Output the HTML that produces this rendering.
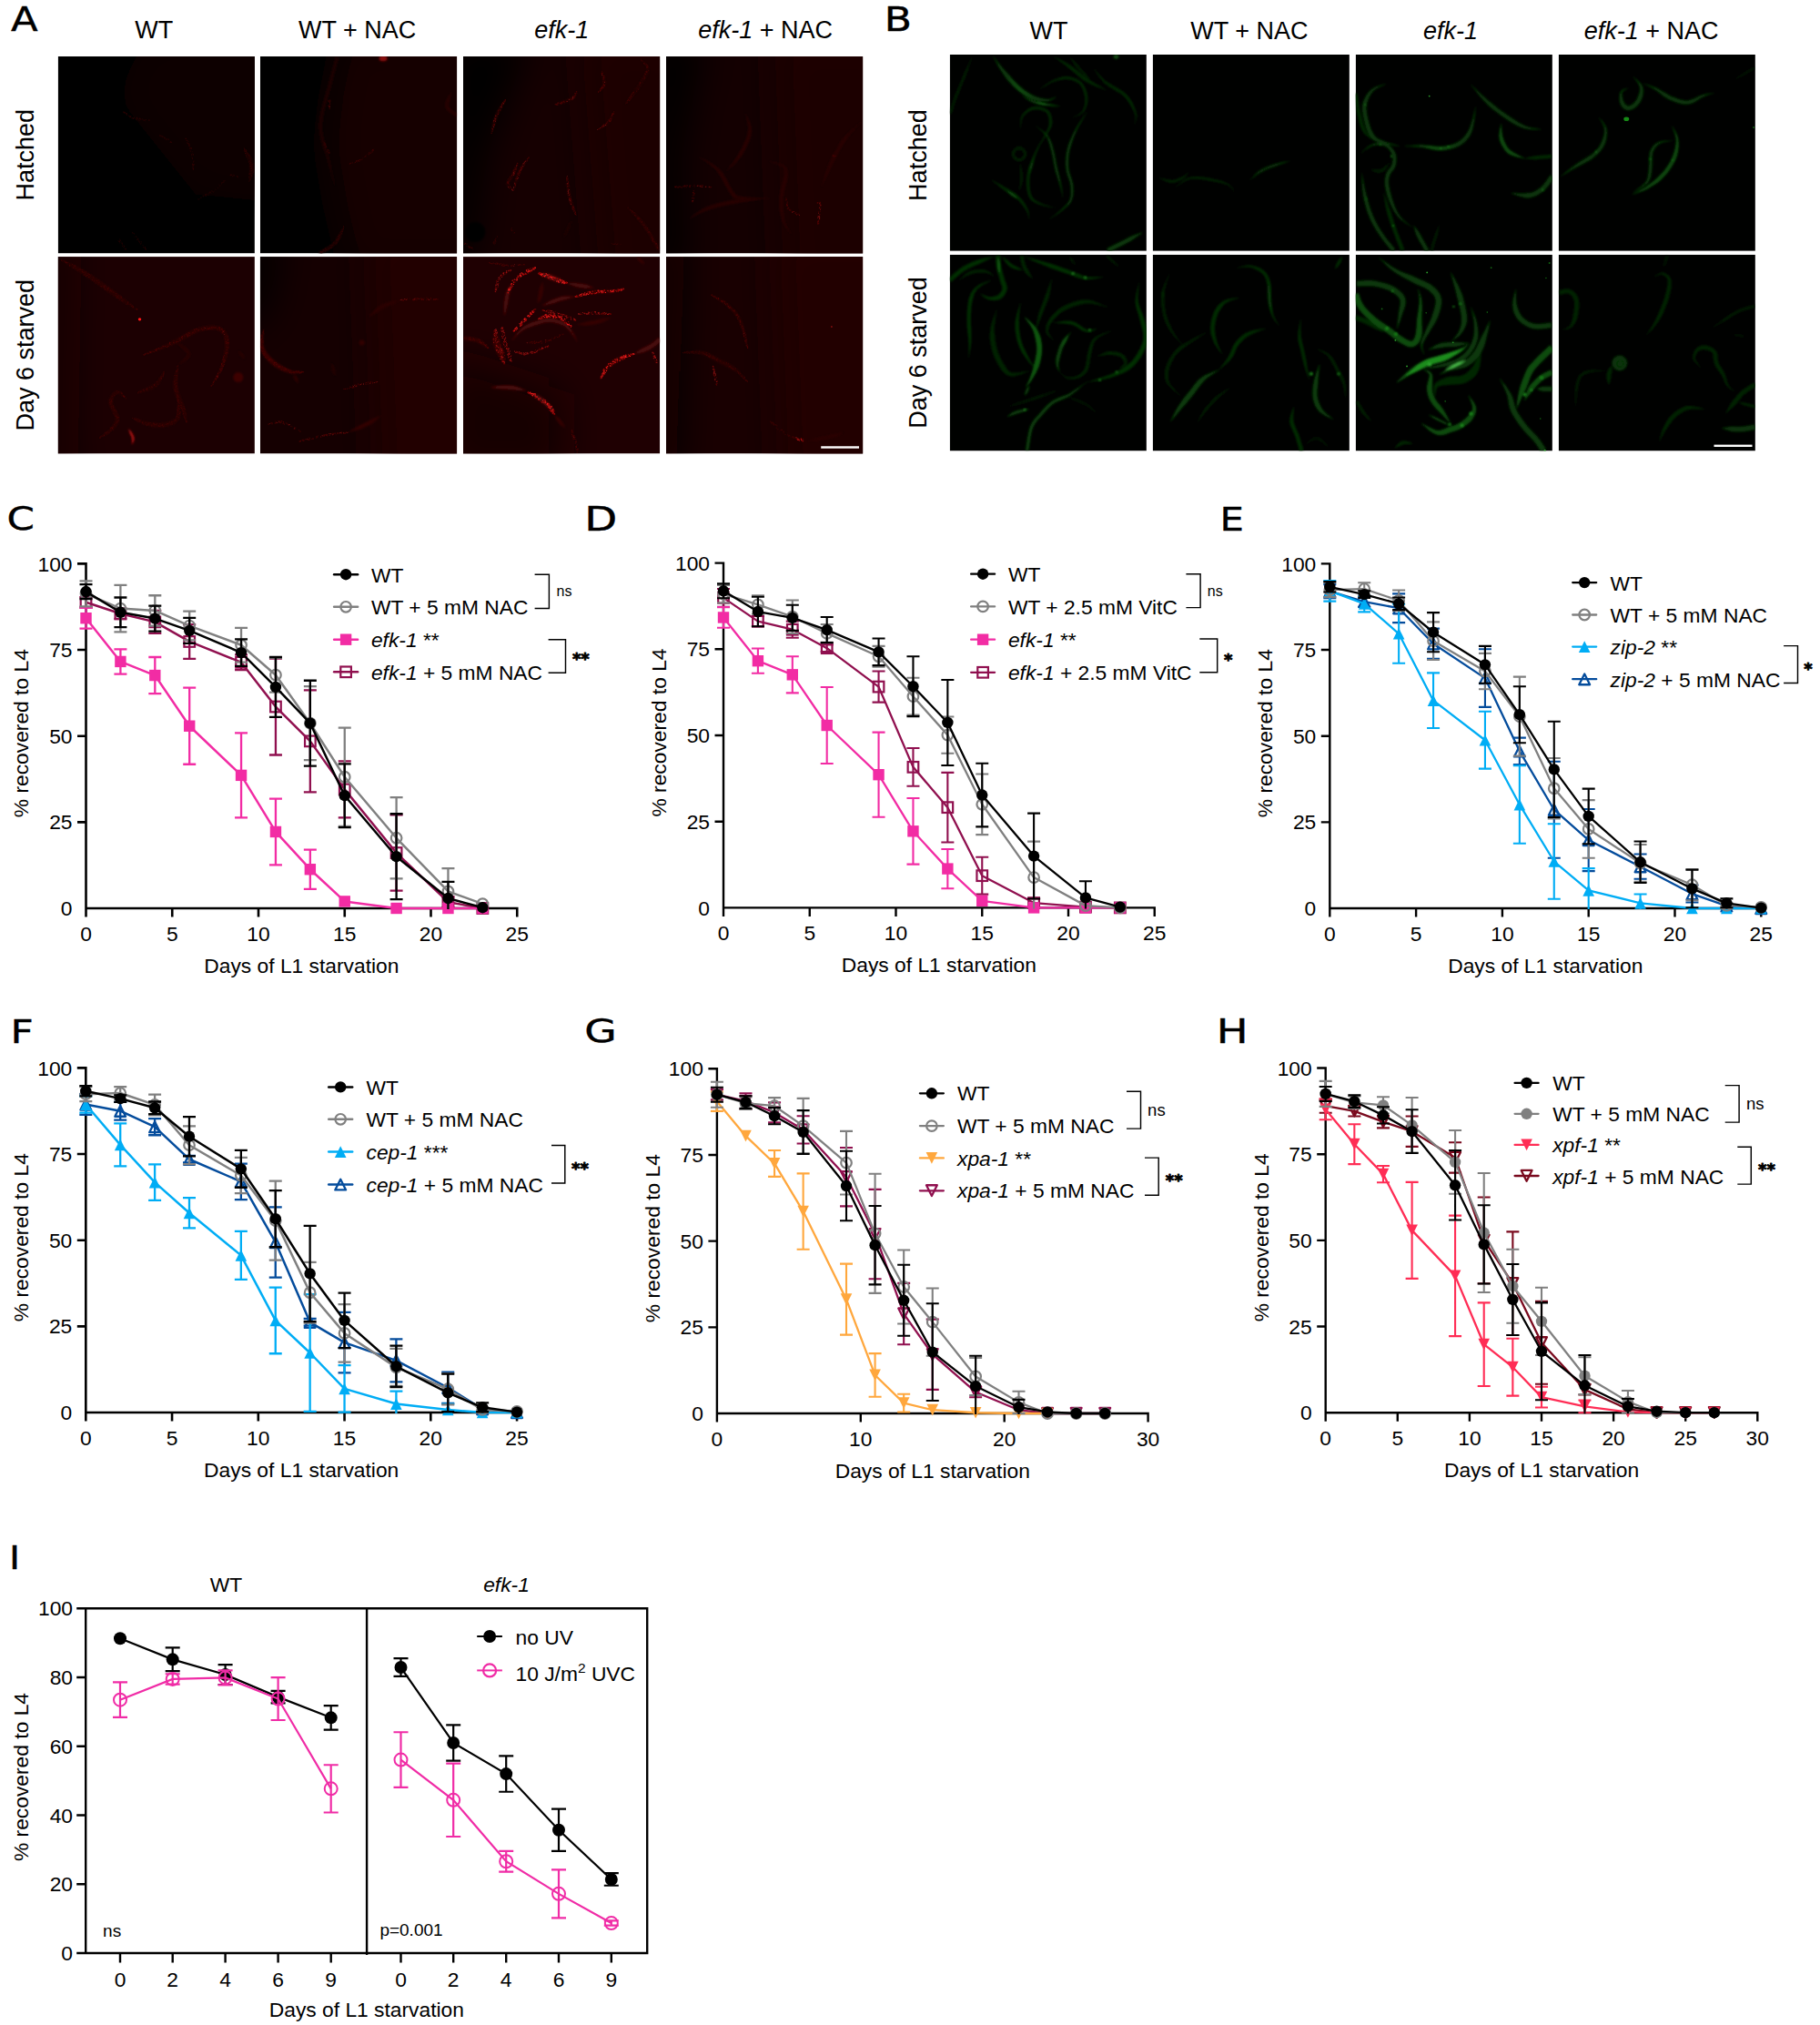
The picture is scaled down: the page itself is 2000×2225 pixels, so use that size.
<!DOCTYPE html><html><head><meta charset="utf-8"><title>Figure</title><style>html,body{margin:0;padding:0;background:#fff}svg{display:block}text{font-family:"Liberation Sans", Arial, sans-serif;fill:#000}text.bs{font-family:"DejaVu Sans","Liberation Sans",sans-serif;font-weight:bold;font-size:18px;stroke:#000;stroke-width:0.9px;stroke-linejoin:round}text.pl{font-family:"DejaVu Sans","Liberation Sans",sans-serif;stroke:#000;stroke-width:0.45px}</style></head><body>
<svg width="2000" height="2225" viewBox="0 0 2000 2225">
<rect width="2000" height="2225" fill="#fff"/>
<defs><filter id="b1" x="-20%" y="-20%" width="140%" height="140%"><feGaussianBlur stdDeviation="0.9"/></filter><filter id="b2" x="-20%" y="-20%" width="140%" height="140%"><feGaussianBlur stdDeviation="0.45"/></filter><filter id="b3" x="-150%" y="-150%" width="400%" height="400%"><feGaussianBlur stdDeviation="20"/></filter><filter id="b4" x="-20%" y="-20%" width="140%" height="140%"><feGaussianBlur stdDeviation="1.2"/></filter><clipPath id="ca00"><rect x="63.7" y="62" width="216.2" height="216.4"/></clipPath><clipPath id="cb00"><rect x="1043.7" y="60" width="216.2" height="215.8"/></clipPath><clipPath id="ca01"><rect x="285.9" y="62" width="216.2" height="216.4"/></clipPath><clipPath id="cb01"><rect x="1266.7" y="60" width="216.2" height="215.8"/></clipPath><clipPath id="ca02"><rect x="509" y="62" width="216.2" height="216.4"/></clipPath><clipPath id="cb02"><rect x="1489.7" y="60" width="216.2" height="215.8"/></clipPath><clipPath id="ca03"><rect x="732" y="62" width="216.2" height="216.4"/></clipPath><clipPath id="cb03"><rect x="1712.7" y="60" width="216.2" height="215.8"/></clipPath><clipPath id="ca10"><rect x="63.7" y="282.1" width="216.2" height="216.4"/></clipPath><clipPath id="cb10"><rect x="1043.7" y="279.7" width="216.2" height="215.8"/></clipPath><clipPath id="ca11"><rect x="285.9" y="282.1" width="216.2" height="216.4"/></clipPath><clipPath id="cb11"><rect x="1266.7" y="279.7" width="216.2" height="215.8"/></clipPath><clipPath id="ca12"><rect x="509" y="282.1" width="216.2" height="216.4"/></clipPath><clipPath id="cb12"><rect x="1489.7" y="279.7" width="216.2" height="215.8"/></clipPath><clipPath id="ca13"><rect x="732" y="282.1" width="216.2" height="216.4"/></clipPath><clipPath id="cb13"><rect x="1712.7" y="279.7" width="216.2" height="215.8"/></clipPath></defs><g clip-path="url(#ca00)"><rect x="63.7" y="62" width="216.2" height="216.4" fill="#000"/><g filter="url(#b3)"><polygon points="160.99,40.36 323.14,40.36 323.14,224.3 215.04,213.48 171.8,159.38 128.56,105.28" fill="#0d0002"/></g><g filter="url(#b2)" fill="none" stroke-linecap="round"><path d="M143.9 127.6h0M153.8 130.0h0M150.1 130.0h0M136.6 123.7h0M136.1 123.2h0M137.2 123.5h0M146.4 130.2h0M138.6 124.5h0M152.7 131.9h0M151.4 130.3h0M163.9 132.0h0M160.2 131.5h0M139.2 124.7h0M142.8 128.7h0M139.6 126.1h0M153.3 130.6h0M150.6 129.4h0M136.8 123.4h0M154.6 131.0h0M143.3 128.4h0M147.6 129.3h0M158.1 132.1h0M141.3 127.2h0M149.5 131.1h0M156.2 130.9h0M164.0 132.1h0M146.2 130.0h0M139.0 125.4h0" stroke="#3a0606" stroke-width="0.94"/><path d="M136.0 123.5h0M157.2 131.7h0M160.7 131.5h0M155.0 131.4h0M151.4 130.5h0M159.4 132.9h0M148.0 130.3h0M136.5 124.0h0M153.3 132.3h0M159.1 131.2h0M145.3 129.5h0M135.7 123.0h0M139.9 125.0h0M136.4 124.0h0M138.7 124.6h0M145.2 130.1h0M137.2 124.0h0M150.3 131.4h0M158.8 132.6h0M142.5 127.4h0M144.2 129.7h0M163.3 131.8h0" stroke="#220606" stroke-width="0.88"/></g><g filter="url(#b2)" fill="none" stroke-linecap="round"><path d="M178.4 149.9h0M178.9 150.8h0M183.9 152.9h0M175.8 149.1h0M180.6 151.9h0M188.5 156.3h0M182.5 153.1h0M185.3 153.2h0M187.7 156.1h0M187.3 156.0h0M181.1 151.8h0M177.0 150.0h0M176.8 149.0h0" stroke="#3a0606" stroke-width="0.94"/><path d="M179.0 149.8h0M180.9 150.5h0M175.8 148.8h0M177.2 149.6h0M175.9 149.6h0M184.5 152.8h0M179.3 150.6h0M181.1 150.9h0M186.6 156.4h0M182.0 152.5h0" stroke="#220606" stroke-width="0.88"/></g><g filter="url(#b2)" fill="none" stroke-linecap="round"><path d="M205.9 154.2h0M209.9 162.9h0M213.2 180.8h0M204.1 152.5h0M212.3 169.6h0M212.7 170.1h0M210.5 169.9h0M212.1 182.1h0M208.5 160.2h0M206.2 157.4h0M210.9 170.0h0M209.8 162.4h0M211.4 180.2h0M211.9 181.7h0M212.0 180.5h0M207.6 159.2h0M210.6 163.1h0M204.6 152.4h0M207.8 160.4h0M212.6 185.6h0M211.9 184.9h0M212.7 185.5h0M208.1 158.7h0M207.8 157.9h0M211.2 173.3h0M212.6 181.3h0M211.5 174.3h0M205.1 154.5h0M212.1 183.9h0M212.5 177.9h0M206.3 157.8h0M208.6 163.0h0M212.7 186.2h0" stroke="#3a0606" stroke-width="0.94"/><path d="M209.1 165.5h0M213.3 176.9h0M206.7 155.5h0M212.0 183.7h0M205.7 156.8h0M212.5 186.5h0M209.4 163.4h0M207.1 155.5h0M212.4 186.1h0M210.4 169.8h0M209.6 166.6h0M213.2 180.7h0M208.6 159.8h0M207.7 159.7h0M208.4 160.2h0M205.3 156.3h0M209.7 163.5h0M210.8 171.9h0M209.4 166.2h0M211.3 168.7h0M212.8 169.3h0M211.5 166.3h0M203.8 151.8h0M206.9 157.3h0M212.2 177.0h0M209.1 162.6h0" stroke="#220606" stroke-width="0.88"/></g><polygon points="267.7,162.8 268.6,165.5 269.9,169.5 271.4,173.9 273.0,178.0 274.1,181.5 274.2,185.0 274.1,189.0 274.0,193.2 273.9,196.9 273.8,199.5 274.5,199.6 275.4,197.2 277.0,193.8 278.5,189.7 279.4,185.2 279.2,180.7 277.9,176.2 275.7,171.7 272.8,167.9 270.1,164.7 268.3,162.5" fill="#1a0303" filter="url(#b1)"/><g filter="url(#b2)" fill="none" stroke-linecap="round"><path d="M275.5 182.4h0M269.8 166.4h0M273.5 170.7h0M276.0 190.8h0M275.6 182.7h0M275.0 196.2h0M276.7 184.6h0M275.7 180.9h0M275.7 178.5h0M274.4 179.9h0M274.9 187.8h0M275.1 197.4h0M274.8 182.6h0M276.8 193.7h0M270.5 166.7h0M269.9 164.8h0M269.0 165.3h0M274.3 190.9h0M270.2 168.3h0M278.1 186.6h0M273.7 194.7h0M270.5 171.0h0M275.2 176.4h0M273.8 199.1h0M271.3 168.0h0M277.2 180.6h0M272.4 169.0h0M278.4 189.1h0M276.9 182.3h0M268.5 163.1h0M276.7 185.1h0M268.2 165.4h0M274.0 191.1h0M270.6 165.9h0M268.3 164.2h0M274.4 171.2h0M273.9 177.8h0M276.6 192.8h0M269.5 168.5h0M275.9 183.0h0M270.7 165.1h0M276.8 187.6h0M268.4 165.6h0M275.5 185.3h0M268.7 166.0h0" stroke="#3a0606" stroke-width="0.94"/><path d="M268.3 165.4h0M276.6 178.3h0M274.6 182.4h0M274.6 171.0h0M277.9 181.2h0M271.1 165.8h0M269.6 164.0h0M274.7 173.0h0M277.1 190.5h0M277.9 179.8h0M276.5 173.7h0M274.8 170.1h0M276.1 189.3h0M271.7 169.1h0M275.8 197.3h0M276.0 192.7h0M274.7 180.5h0M275.1 176.3h0M274.2 187.3h0M272.8 175.1h0M275.8 188.2h0M276.0 176.4h0M269.8 164.0h0M268.7 165.4h0M274.3 170.6h0M268.6 166.1h0M274.6 194.4h0M274.4 171.7h0M273.7 172.6h0M271.2 167.9h0M270.9 172.7h0M274.3 198.5h0M270.6 172.1h0M274.4 173.0h0M268.2 162.6h0M276.1 179.3h0" stroke="#220606" stroke-width="0.88"/></g><g filter="url(#b2)" fill="none" stroke-linecap="round"><path d="M241.8 203.4h0M247.1 198.6h0M244.8 200.7h0M246.3 199.7h0M239.4 206.4h0M230.7 211.9h0M225.4 214.6h0M226.2 213.5h0M236.9 208.2h0M218.1 219.2h0M226.2 214.2h0M245.7 199.1h0M220.9 217.2h0M225.7 214.0h0M243.4 201.8h0M232.8 209.7h0M223.4 215.2h0M230.4 211.1h0M227.5 213.3h0M241.8 204.9h0M243.8 201.9h0M243.9 200.6h0M231.4 211.2h0M229.3 212.3h0M234.3 211.0h0M223.8 215.2h0M233.3 210.3h0M228.9 214.2h0M226.2 215.2h0M245.4 200.4h0M226.5 215.1h0M225.3 213.8h0" stroke="#2a0404" stroke-width="0.94"/><path d="M233.7 210.4h0M233.8 209.4h0M224.9 214.9h0M229.5 214.0h0M243.6 202.5h0M226.0 215.2h0M232.0 212.8h0M245.7 200.1h0M227.8 213.1h0M228.2 214.1h0M232.9 210.7h0M235.0 210.5h0M221.2 217.9h0M218.1 218.5h0M246.6 198.8h0M222.7 215.1h0M235.3 209.8h0M240.7 202.7h0M241.4 203.5h0M243.3 201.9h0M219.3 218.8h0M223.3 216.1h0M221.0 216.9h0M240.3 203.4h0M234.5 211.1h0" stroke="#190606" stroke-width="0.88"/></g><g filter="url(#b2)" fill="none" stroke-linecap="round"><path d="M253.3 192.2h0M257.2 192.8h0M254.5 192.2h0M255.7 193.7h0M253.2 192.3h0M260.7 193.5h0M261.1 194.7h0" stroke="#3a0606" stroke-width="0.94"/><path d="M261.1 194.0h0M256.5 192.8h0M261.8 194.7h0M256.4 192.9h0M255.9 191.7h0M253.9 193.0h0" stroke="#220606" stroke-width="0.88"/></g><g filter="url(#b2)" fill="none" stroke-linecap="round"><path d="M130.9 265.5h0M131.8 264.1h0M134.5 267.6h0M131.8 266.7h0M137.2 273.4h0M134.4 270.2h0M138.1 273.8h0M136.8 270.2h0M136.2 270.9h0M136.1 271.5h0M132.6 264.3h0M138.5 273.3h0M133.9 267.3h0M131.4 265.4h0" stroke="#2a0404" stroke-width="0.94"/><path d="M138.7 274.2h0M135.8 269.6h0M134.6 268.5h0M131.2 262.8h0M130.1 264.5h0M134.4 267.4h0M137.1 273.9h0M134.1 266.6h0M131.7 263.0h0M133.2 265.1h0M131.8 263.9h0" stroke="#190606" stroke-width="0.88"/></g><g filter="url(#b2)" fill="none" stroke-linecap="round"><path d="M153.3 266.7h0M157.1 269.6h0M151.5 263.1h0M151.2 262.1h0M146.1 256.0h0M160.7 273.8h0M152.7 265.0h0M159.1 271.6h0M149.7 259.9h0M151.4 262.7h0M159.9 274.0h0M159.6 271.6h0M145.3 255.7h0M159.3 272.5h0M155.2 265.8h0M150.4 263.3h0M157.5 271.7h0M160.6 273.9h0M147.1 256.7h0M153.0 265.5h0M159.8 273.6h0M154.8 268.1h0" stroke="#2a0404" stroke-width="0.94"/><path d="M152.1 264.0h0M145.3 255.9h0M147.8 260.2h0M155.7 267.3h0M147.4 257.1h0M154.7 267.8h0M147.4 256.6h0M153.1 265.4h0M151.7 262.1h0M155.6 265.9h0M149.8 260.8h0M160.1 273.9h0M159.1 272.3h0M149.2 259.1h0M160.1 274.0h0M150.8 260.2h0M152.5 265.0h0M152.2 262.8h0" stroke="#190606" stroke-width="0.88"/></g></g><g clip-path="url(#ca01)"><rect x="285.9" y="62" width="216.2" height="216.4" fill="#000"/><g filter="url(#b3)"><polygon points="376.7,40.36 545.34,40.36 545.34,300.04 385.35,300.04 368.06,224.3 357.25,159.38 363.73,105.28" fill="#170002"/></g><polygon points="368.7,62.4 367.6,66.6 366.0,72.4 364.1,79.3 362.1,86.8 360.1,94.4 357.9,102.4 355.4,111.1 352.9,120.2 351.0,129.3 350.2,138.0 350.8,146.1 352.5,154.0 354.7,161.5 357.2,168.5 359.4,175.3 361.3,182.2 363.3,189.4 365.2,196.0 366.9,201.7 367.9,205.7 368.4,205.6 367.5,201.5 366.4,195.8 365.0,188.9 363.6,181.7 362.2,174.6 360.4,167.5 358.4,160.3 356.2,153.0 354.6,145.6 354.1,138.0 354.9,129.9 356.7,121.1 359.1,112.2 361.7,103.5 363.9,95.4 365.8,87.8 367.8,80.3 369.7,73.4 371.3,67.6 372.5,63.4" fill="#1c0303" filter="url(#b1)"/><g filter="url(#b2)" fill="none" stroke-linecap="round"><path d="M361.1 115.9h0M363.0 111.0h0M362.2 112.2h0M362.6 116.0h0M361.5 117.3h0M362.6 114.1h0M362.2 119.2h0M362.5 117.5h0M361.5 110.9h0" stroke="#5a0a0a" stroke-width="1.02"/><path d="M360.9 111.7h0M362.8 114.0h0M362.2 110.9h0M360.9 115.8h0M362.2 110.1h0M360.8 110.8h0M362.9 110.0h0" stroke="#360606" stroke-width="0.96"/></g><g filter="url(#b2)" fill="none" stroke-linecap="round"><path d="M356.3 157.1h0M360.9 167.8h0M359.4 165.9h0M361.8 167.8h0M356.2 159.1h0M361.3 165.2h0M360.2 164.5h0M358.5 160.9h0M357.7 158.1h0M357.8 159.8h0M362.1 168.1h0" stroke="#4a0808" stroke-width="1.02"/><path d="M362.1 168.2h0M357.3 161.2h0M361.0 166.5h0M356.2 157.1h0M357.2 161.5h0M357.3 158.7h0M362.1 167.1h0M357.7 161.9h0M361.6 165.4h0" stroke="#2c0606" stroke-width="0.96"/></g><g filter="url(#b2)" fill="none" stroke-linecap="round"><path d="M385.1 179.2h0M409.1 165.3h0M405.7 169.8h0M394.3 176.1h0M410.3 164.8h0M392.3 177.8h0M393.6 176.3h0M384.3 180.0h0M409.3 165.7h0M409.5 164.6h0M391.3 177.6h0M410.5 165.1h0M395.6 175.4h0M397.1 175.2h0M409.2 165.1h0M406.8 168.4h0M407.3 168.0h0M401.5 171.8h0M393.8 176.5h0M405.4 167.8h0M390.3 178.5h0M391.4 176.7h0M385.2 179.6h0M394.4 177.6h0M409.0 166.9h0M391.9 176.5h0M387.1 179.0h0" stroke="#4a0808" stroke-width="1.02"/><path d="M404.2 169.9h0M391.3 177.5h0M402.3 172.1h0M405.7 169.8h0M402.6 170.2h0M407.1 166.9h0M400.5 172.6h0M404.5 168.8h0M391.5 177.0h0M389.1 179.2h0M400.7 172.3h0M396.6 176.8h0M398.8 173.4h0M406.9 168.2h0M410.8 163.8h0M398.7 175.2h0M408.0 167.9h0M385.3 179.2h0M387.6 178.2h0M410.6 164.5h0M409.4 165.2h0" stroke="#2c0606" stroke-width="0.96"/></g><polygon points="377.8,248.7 376.2,251.1 374.0,254.7 371.5,258.7 369.1,262.7 366.7,265.9 363.7,268.6 359.9,271.1 356.0,273.3 352.5,275.2 350.0,276.6 351.9,280.0 354.3,278.6 357.9,276.7 362.0,274.4 366.1,271.6 369.6,268.5 372.4,264.8 374.7,260.3 376.2,255.7 377.3,251.7 378.2,248.9" fill="#1c0303" filter="url(#b1)"/><g filter="url(#b2)" fill="none" stroke-linecap="round"><path d="M355.9 275.7h0M372.7 258.2h0M353.2 277.8h0M365.1 269.4h0M374.6 257.2h0M376.3 254.4h0M373.3 258.3h0M364.0 271.8h0M377.9 249.3h0M363.1 272.5h0M373.3 261.0h0M358.3 274.1h0M377.5 251.5h0M370.7 263.5h0M364.6 271.8h0M374.7 254.8h0M371.1 264.4h0M371.4 259.7h0M372.3 260.4h0M371.8 262.3h0M355.3 274.5h0M372.3 262.9h0M361.3 273.6h0M377.6 248.8h0M369.4 263.9h0M369.6 263.2h0M370.1 266.4h0M377.7 249.3h0M363.1 269.7h0M376.2 252.0h0M371.3 262.6h0M376.0 254.5h0M366.8 266.7h0M376.1 252.9h0M357.3 273.1h0M375.7 256.7h0M352.6 276.5h0M369.8 267.3h0M353.7 277.0h0M354.3 276.1h0M357.8 275.7h0M359.1 274.8h0" stroke="#3a0606" stroke-width="0.94"/><path d="M369.6 263.1h0M357.7 275.8h0M374.6 257.2h0M368.0 267.9h0M376.6 253.7h0M360.2 271.5h0M377.2 250.3h0M360.6 274.9h0M357.4 276.2h0M365.1 269.7h0M364.7 271.1h0M370.0 264.2h0M369.6 264.2h0M369.8 265.4h0M377.5 249.6h0M369.3 267.3h0M359.0 272.7h0M370.3 266.4h0M370.1 267.0h0M376.0 253.7h0M376.5 252.3h0M369.1 268.6h0M364.8 272.0h0M360.1 272.0h0M369.0 268.6h0M368.5 267.5h0M353.0 277.9h0M355.4 274.1h0M360.1 271.9h0M373.1 255.4h0M367.1 265.8h0M354.3 277.3h0M357.8 272.7h0" stroke="#220606" stroke-width="0.88"/></g><polygon points="495.9,101.0 494.6,103.1 492.6,106.1 490.5,109.7 489.4,113.7 489.3,117.5 491.1,120.8 493.8,123.4 496.8,125.6 499.5,127.3 501.2,128.5 503.4,125.3 501.6,124.1 499.0,122.4 496.3,120.4 494.1,118.4 493.1,116.6 493.2,114.3 494.1,111.0 495.0,107.1 495.8,103.6 496.4,101.2" fill="#260404" filter="url(#b1)"/><ellipse cx="421.08" cy="64.15" rx="4.5" ry="3" fill="#8a0a0a" filter="url(#b1)"/></g><g clip-path="url(#ca02)"><rect x="509" y="62" width="216.2" height="216.4" fill="#160001"/><g filter="url(#b3)"><polygon points="487.38,40.36 584.67,40.36 534.94,170.2 519.81,300.04 487.38,300.04" fill="#000"/><polygon points="638.72,40.36 768.44,40.36 768.44,321.68 660.34,321.68" fill="#1c0001"/></g><polygon points="555.3,109.6 553.7,111.8 551.3,114.8 548.6,118.4 546.2,122.4 544.3,126.4 542.8,130.6 541.6,135.2 540.8,139.8 540.3,143.8 539.9,146.6 540.2,146.7 541.2,144.0 542.5,140.2 544.1,135.9 545.5,131.5 546.9,127.5 548.7,123.7 550.8,119.7 552.7,115.7 554.4,112.2 555.6,109.8" fill="#260404" filter="url(#b1)"/><g filter="url(#b2)" fill="none" stroke-linecap="round"><path d="M554.3 112.0h0M543.2 137.3h0M541.4 142.7h0M542.6 139.6h0M544.6 127.0h0M551.5 117.1h0M545.8 127.6h0M555.0 111.1h0M551.3 114.7h0M542.4 133.8h0M551.4 115.2h0M553.0 113.6h0M544.0 132.5h0M541.2 141.6h0M543.6 130.0h0M552.6 112.8h0M544.0 132.2h0M542.6 138.8h0M540.1 146.2h0M547.4 121.8h0M547.2 125.4h0M543.6 136.8h0M542.3 139.7h0M542.6 132.2h0M544.0 130.3h0M549.9 121.0h0M555.0 111.0h0M544.1 131.7h0M544.5 127.4h0M553.1 114.5h0M544.6 133.4h0M555.5 109.8h0M553.4 113.5h0M550.5 117.3h0M544.9 130.8h0" stroke="#6a0c0c" stroke-width="1.02"/><path d="M543.9 132.0h0M551.8 113.8h0M551.1 118.5h0M553.2 112.8h0M540.7 141.4h0M547.8 123.9h0M555.1 110.0h0M545.0 129.7h0M543.8 132.8h0M540.4 144.1h0M549.3 117.7h0M554.5 111.2h0M547.8 124.1h0M553.9 111.5h0M555.2 110.1h0M541.2 144.4h0M551.0 116.4h0M545.1 127.3h0M542.7 139.5h0M549.4 120.6h0M554.0 111.1h0M541.6 138.0h0M555.1 109.8h0M542.6 136.7h0M542.7 136.5h0M551.6 118.0h0M551.6 118.3h0M547.9 120.9h0" stroke="#3f0606" stroke-width="0.96"/></g><polygon points="609.7,115.4 612.5,114.9 616.6,114.2 621.2,113.0 625.4,111.3 628.8,109.7 631.1,107.6 632.5,105.2 633.4,103.0 633.9,101.2 634.4,99.9 634.1,99.8 633.3,100.9 632.2,102.5 630.9,104.2 629.3,105.9 627.3,107.3 624.3,108.7 620.2,110.3 615.9,112.0 612.2,113.8 609.6,115.1" fill="#260404" filter="url(#b1)"/><g filter="url(#b2)" fill="none" stroke-linecap="round"><path d="M629.7 108.1h0M629.3 106.8h0M625.5 109.6h0M631.2 105.5h0M617.4 113.1h0M633.5 100.7h0M631.9 102.7h0M617.0 112.2h0M631.1 107.2h0M630.0 106.3h0M632.3 103.0h0M616.8 113.9h0M627.8 109.1h0M629.2 109.0h0M623.4 111.4h0M629.8 108.1h0M622.4 111.5h0M625.8 109.1h0M615.8 113.5h0M612.0 115.1h0M613.5 113.0h0M612.9 114.9h0M619.3 111.2h0M610.3 114.6h0M629.3 107.8h0M629.6 107.9h0M611.6 114.7h0" stroke="#6a0c0c" stroke-width="1.02"/><path d="M620.4 112.6h0M632.6 105.2h0M611.7 115.1h0M633.8 102.5h0M612.5 113.7h0M612.6 113.3h0M632.8 104.3h0M628.1 109.4h0M627.4 108.2h0M612.3 113.5h0M629.9 105.7h0M618.8 112.0h0M610.2 114.8h0M618.0 113.1h0M620.1 111.3h0M633.7 100.8h0M632.4 104.0h0M610.5 114.8h0M622.5 111.7h0M619.8 112.5h0M624.8 109.2h0" stroke="#3f0606" stroke-width="0.96"/></g><polygon points="657.7,101.2 658.9,100.3 660.6,99.1 662.5,97.4 664.3,95.3 665.2,92.7 665.2,89.6 664.7,86.0 663.5,82.6 662.3,79.7 661.5,77.7 661.1,77.7 661.3,79.9 661.5,83.1 661.9,86.5 662.4,89.8 662.4,92.2 661.7,94.1 660.8,96.1 659.5,98.0 658.3,99.7 657.5,101.0" fill="#260404" filter="url(#b1)"/><g filter="url(#b2)" fill="none" stroke-linecap="round"><path d="M661.4 81.3h0M661.7 82.4h0M657.5 100.9h0M663.8 83.4h0M657.7 101.0h0M664.5 90.5h0M660.9 97.6h0M663.9 94.4h0M662.9 96.6h0M661.9 95.2h0M663.1 85.2h0M659.7 99.2h0M659.3 99.9h0M663.7 85.2h0M663.1 87.1h0M663.4 92.8h0M661.3 80.6h0M661.2 80.7h0M660.8 96.8h0M661.9 80.2h0M664.3 93.7h0M661.6 96.6h0" stroke="#6a0c0c" stroke-width="1.02"/><path d="M664.4 89.4h0M663.1 83.8h0M662.8 94.0h0M661.0 98.7h0M663.9 86.0h0M660.5 97.8h0M662.9 83.3h0M659.8 98.7h0M661.5 80.7h0M660.6 97.1h0M663.9 84.9h0M659.8 97.6h0M661.5 96.1h0M662.9 89.7h0M662.2 94.3h0M661.7 78.3h0M660.1 99.8h0M659.3 99.0h0" stroke="#3f0606" stroke-width="0.96"/></g><polygon points="674.7,121.9 673.7,123.6 672.4,125.9 670.8,128.5 669.2,131.1 667.6,133.4 665.5,135.3 662.9,137.3 660.2,139.5 657.9,141.4 656.3,142.8 656.5,143.1 658.4,142.2 661.2,141.0 664.4,139.5 667.3,137.5 669.8,135.2 671.6,132.6 673.0,129.6 673.9,126.5 674.5,123.9 675.0,122.1" fill="#260404" filter="url(#b1)"/><g filter="url(#b2)" fill="none" stroke-linecap="round"><path d="M656.7 142.5h0M663.0 139.0h0M672.4 127.1h0M674.1 125.0h0M671.1 132.8h0M669.5 132.1h0M663.9 138.2h0M665.4 137.3h0M673.1 125.7h0M669.5 132.3h0M658.7 141.6h0M666.3 135.8h0M670.2 133.3h0M662.7 138.0h0M661.7 139.1h0M659.8 140.4h0M665.2 137.4h0M671.0 130.2h0M673.9 124.7h0M661.5 139.2h0M665.7 137.6h0M669.7 133.1h0M665.7 137.2h0M663.7 137.1h0M672.5 126.8h0" stroke="#6a0c0c" stroke-width="1.02"/><path d="M662.0 139.8h0M667.6 133.6h0M674.4 123.0h0M672.5 126.0h0M657.8 142.0h0M673.6 124.6h0M667.0 135.1h0M667.7 134.7h0M660.6 140.3h0M668.8 132.0h0M672.1 127.4h0M669.5 131.9h0M672.5 124.9h0M671.7 131.9h0M672.0 129.4h0M674.8 122.4h0M669.2 132.6h0M671.3 131.6h0M671.8 127.7h0M657.8 142.0h0" stroke="#3f0606" stroke-width="0.96"/></g><polygon points="581.2,173.0 579.6,174.6 577.4,176.9 574.8,179.7 572.2,182.9 570.2,186.6 568.4,191.0 566.6,196.1 565.4,201.4 564.6,206.1 563.9,209.3 564.2,209.4 565.5,206.4 567.3,202.0 569.3,197.0 571.0,192.0 572.7,187.8 574.6,184.4 576.6,180.9 578.5,177.8 580.2,175.1 581.4,173.2" fill="#260404" filter="url(#b1)"/><g filter="url(#b2)" fill="none" stroke-linecap="round"><path d="M575.3 179.7h0M572.7 186.4h0M577.7 176.9h0M566.0 201.9h0M570.6 188.8h0M574.8 179.7h0M572.6 184.5h0M565.5 202.1h0M571.2 189.0h0M570.4 192.2h0M566.3 203.0h0M566.3 203.7h0M572.9 185.8h0M572.1 187.5h0M581.1 173.1h0M574.9 182.5h0M574.0 182.9h0M571.1 187.2h0M568.4 196.2h0M564.5 206.5h0M579.6 174.7h0M564.8 205.6h0M577.3 177.2h0M569.5 195.5h0M580.8 173.3h0M568.7 196.2h0M579.2 176.7h0M575.0 180.2h0M573.7 184.8h0M564.8 205.5h0M576.5 178.0h0M568.2 194.0h0M567.1 196.2h0M565.8 200.9h0M576.0 179.1h0M569.3 191.0h0" stroke="#6a0c0c" stroke-width="1.02"/><path d="M570.3 187.3h0M570.1 192.3h0M576.3 181.2h0M571.5 190.2h0M571.7 189.2h0M570.4 189.7h0M568.8 191.2h0M580.9 173.1h0M570.6 188.8h0M567.2 196.1h0M572.6 185.6h0M565.0 208.0h0M568.1 195.2h0M580.5 173.9h0M566.7 196.7h0M572.2 183.2h0M570.2 190.5h0M566.2 205.7h0M567.1 198.3h0M572.3 183.7h0M572.7 185.2h0M569.2 190.7h0M576.2 179.9h0M571.4 187.1h0M566.6 202.8h0M566.3 202.8h0M570.8 190.4h0M569.0 189.8h0" stroke="#3f0606" stroke-width="0.96"/></g><polygon points="564.2,209.3 563.2,208.2 561.8,206.7 560.4,205.0 559.4,203.3 559.2,202.0 559.7,200.6 560.8,198.6 562.3,196.4 563.9,194.0 565.3,191.6 566.4,188.9 567.3,185.9 568.1,183.0 568.7,180.4 569.2,178.7 568.8,178.6 568.0,180.2 566.8,182.5 565.4,185.1 564.0,187.8 562.8,190.3 561.5,192.5 559.9,194.8 558.3,197.1 557.1,199.5 556.7,202.0 557.5,204.3 559.2,206.1 561.1,207.6 562.9,208.7 564.0,209.5" fill="#260404" filter="url(#b1)"/><g filter="url(#b2)" fill="none" stroke-linecap="round"><path d="M565.0 190.4h0M558.0 199.8h0M558.3 201.2h0M564.7 191.0h0M563.2 208.2h0M567.6 182.5h0M562.6 208.4h0M563.8 209.4h0M568.1 181.3h0M565.1 190.3h0M568.0 181.7h0M564.1 191.5h0M565.2 188.8h0M564.2 189.0h0M564.5 189.7h0M565.1 186.2h0M558.5 205.6h0M567.0 186.5h0M564.2 190.0h0M567.3 184.8h0M562.4 192.8h0M558.0 201.0h0M558.1 200.4h0M565.2 191.0h0M562.7 208.0h0M562.8 208.7h0M566.7 185.0h0M567.9 181.3h0M563.7 209.1h0M564.3 192.6h0M568.7 179.3h0" stroke="#6a0c0c" stroke-width="1.02"/><path d="M558.9 196.9h0M563.6 190.1h0M559.2 206.6h0M564.1 209.2h0M561.5 205.8h0M562.1 206.8h0M559.9 207.1h0M564.7 187.7h0M564.8 187.2h0M563.0 207.9h0M566.2 188.6h0M564.5 187.2h0M564.5 191.3h0M561.8 196.7h0M559.3 202.3h0M564.1 187.6h0M563.8 208.9h0M565.6 184.3h0M558.8 200.9h0M560.4 204.9h0M560.4 194.6h0M559.2 199.0h0M560.8 197.0h0M560.7 205.4h0M559.3 199.2h0" stroke="#3f0606" stroke-width="0.96"/></g><polygon points="623.0,193.4 623.0,196.5 622.9,200.8 622.9,205.8 623.4,211.0 624.2,215.9 625.5,220.6 627.4,225.4 629.5,230.0 631.5,233.8 632.8,236.5 633.2,236.4 632.3,233.5 631.1,229.3 629.8,224.6 628.3,219.7 627.0,215.2 626.2,210.6 625.4,205.6 624.6,200.6 623.9,196.4 623.3,193.4" fill="#260404" filter="url(#b1)"/><g filter="url(#b2)" fill="none" stroke-linecap="round"><path d="M627.4 221.0h0M624.1 210.6h0M631.8 234.3h0M626.9 218.2h0M622.8 196.1h0M627.6 224.4h0M624.2 208.1h0M632.4 235.6h0M627.2 219.7h0M624.2 212.5h0M624.3 210.1h0M625.9 220.1h0M630.3 228.3h0M623.3 193.4h0M624.8 212.1h0M629.2 229.1h0M623.0 195.3h0M629.2 228.9h0M627.0 218.4h0M630.0 230.5h0M627.1 223.7h0M625.5 208.6h0M625.6 218.0h0M623.3 202.3h0M632.2 233.5h0M626.5 220.2h0M626.0 213.8h0M623.5 204.7h0M629.7 227.8h0M623.0 197.3h0M629.9 226.8h0M625.7 219.1h0M631.1 231.7h0M625.2 214.5h0M624.5 201.7h0M623.3 201.4h0M624.5 209.5h0M624.8 211.2h0M624.6 199.9h0" stroke="#6a0c0c" stroke-width="1.02"/><path d="M633.1 236.3h0M623.3 198.1h0M630.4 227.3h0M627.2 219.5h0M627.1 216.0h0M622.7 194.9h0M630.9 230.9h0M627.0 218.2h0M629.6 227.2h0M631.8 234.4h0M629.0 229.4h0M625.3 204.5h0M624.7 202.2h0M624.2 197.0h0M625.3 218.2h0M624.1 213.9h0M632.3 232.4h0M627.0 219.6h0M622.6 198.8h0M623.9 204.8h0M626.2 221.9h0M628.1 222.6h0M626.1 213.1h0M631.9 235.2h0M625.2 203.1h0M624.5 204.7h0M630.7 232.7h0M631.4 229.3h0M629.0 227.8h0M626.2 222.2h0M623.9 195.8h0" stroke="#3f0606" stroke-width="0.96"/></g><polygon points="687.3,114.7 689.6,112.2 693.0,108.7 696.8,104.5 700.5,100.2 703.4,95.9 706.0,92.0 708.6,88.0 710.9,84.1 712.5,80.2 713.2,76.5 712.4,73.2 710.4,70.4 708.1,68.2 705.9,66.5 704.5,65.2 704.2,65.5 705.4,67.0 707.2,69.1 709.0,71.5 710.2,74.0 710.4,76.4 709.4,79.1 707.7,82.4 705.5,86.1 703.0,90.0 700.4,93.9 697.6,98.0 694.5,102.8 691.5,107.5 688.8,111.6 687.0,114.5" fill="#240404" filter="url(#b1)"/><g filter="url(#b2)" fill="none" stroke-linecap="round"><path d="M712.8 77.6h0M709.5 81.4h0M708.3 86.5h0M690.7 109.4h0M695.6 101.9h0M703.3 91.1h0M695.0 102.8h0M708.8 81.0h0M710.2 79.3h0M688.9 113.2h0M696.2 105.0h0M710.6 70.7h0M692.2 108.0h0M691.4 110.6h0M710.8 72.2h0M702.8 92.8h0M711.1 73.4h0M707.8 83.7h0M694.2 103.4h0M711.1 79.7h0M693.2 108.4h0M696.6 101.9h0M692.4 107.0h0M710.3 72.7h0M693.3 106.7h0M699.6 100.3h0M692.2 109.9h0M689.7 112.3h0M709.1 81.8h0M703.5 91.5h0M695.8 102.0h0M701.4 98.2h0M704.7 65.2h0M690.4 109.8h0M708.0 70.4h0M710.6 78.8h0M704.9 66.6h0M710.9 74.3h0M691.3 107.3h0M710.9 72.9h0M693.8 105.8h0M707.6 69.5h0M706.1 86.6h0M694.3 106.6h0M710.1 79.4h0M689.4 110.4h0M708.1 85.2h0M696.4 101.2h0M708.8 85.3h0M711.6 74.0h0M693.5 104.4h0M711.0 78.5h0M709.8 78.9h0M710.9 74.1h0M711.4 71.9h0M703.3 90.3h0M708.1 69.2h0M709.2 71.2h0" stroke="#4a0808" stroke-width="0.94"/><path d="M694.8 106.6h0M699.4 96.6h0M700.7 97.2h0M687.3 114.4h0M703.0 93.4h0M692.0 109.3h0M712.5 73.5h0M699.3 99.9h0M701.5 97.0h0M689.9 112.2h0M706.3 67.4h0M705.2 90.1h0M704.5 87.9h0M705.4 67.1h0M692.8 105.3h0M697.1 103.5h0M687.8 112.9h0M709.7 80.0h0M687.9 113.8h0M707.2 86.9h0M709.5 79.7h0M710.2 70.7h0M688.3 112.1h0M704.5 91.0h0M696.2 100.7h0M700.6 94.7h0M708.7 86.7h0M692.7 107.9h0M710.3 77.5h0M712.3 72.5h0M700.8 96.0h0M710.7 72.5h0M702.5 96.7h0M711.1 76.1h0M695.4 103.0h0M704.0 94.8h0M712.8 74.2h0M712.4 73.6h0M689.1 112.1h0M706.6 66.7h0M696.0 102.8h0M708.5 83.8h0M704.5 88.3h0M702.5 94.0h0M687.6 113.4h0M705.9 66.5h0" stroke="#2c0606" stroke-width="0.88"/></g><polygon points="689.5,228.0 691.8,230.8 695.1,234.7 698.9,239.2 702.9,244.0 706.6,248.6 710.2,253.9 713.9,260.0 717.4,266.3 720.4,271.7 722.5,275.5 725.7,273.7 723.5,269.9 720.5,264.5 717.0,258.2 713.2,251.9 709.5,246.5 705.6,241.6 701.1,237.1 696.5,233.2 692.5,230.0 689.8,227.7" fill="#260404" filter="url(#b1)"/><g filter="url(#b2)" fill="none" stroke-linecap="round"><path d="M722.1 271.5h0M717.7 265.4h0M721.7 268.2h0M714.4 256.0h0M715.4 257.9h0M709.7 252.1h0M713.8 255.0h0M710.1 250.3h0M722.9 272.0h0M701.8 240.8h0M694.5 233.0h0M722.8 272.4h0M700.8 238.9h0M711.3 250.5h0M695.4 232.3h0M701.9 239.9h0M702.0 239.3h0M693.2 231.5h0M719.3 266.6h0M711.2 253.0h0M697.5 236.6h0M707.9 247.6h0M713.0 254.9h0M702.9 240.3h0M698.8 237.0h0M705.0 244.1h0M690.2 228.2h0M720.7 267.3h0M711.2 252.1h0M700.3 240.6h0M701.2 240.7h0M697.0 233.6h0M720.5 268.0h0M692.3 230.3h0M706.7 247.0h0M694.6 231.9h0M722.6 272.7h0M696.3 233.9h0M703.7 242.9h0M712.1 255.6h0M719.0 265.5h0M716.0 261.6h0M717.3 262.3h0M717.4 263.9h0M722.3 269.9h0M721.4 267.5h0M717.2 262.8h0M708.1 250.0h0M711.9 252.7h0M717.0 264.1h0M713.0 254.5h0M707.8 247.0h0M716.7 260.2h0M705.3 244.4h0M705.6 243.7h0M717.1 264.2h0M709.4 249.3h0" stroke="#4a0808" stroke-width="0.94"/><path d="M697.7 235.0h0M695.5 234.0h0M713.2 252.6h0M722.1 270.4h0M718.7 267.1h0M723.3 272.3h0M705.7 246.8h0M690.4 228.0h0M711.4 252.5h0M721.3 270.8h0M709.1 252.2h0M709.8 250.3h0M715.4 258.4h0M704.0 243.0h0M702.8 243.6h0M714.7 258.2h0M693.9 231.7h0M705.7 244.9h0M710.6 253.7h0M723.1 272.8h0M706.9 246.8h0M724.1 274.3h0M709.4 251.5h0M697.1 234.5h0M723.1 273.7h0M710.8 249.2h0M720.7 269.5h0M717.6 266.2h0M721.1 268.8h0M696.6 233.8h0M709.7 250.0h0M698.2 234.9h0M713.1 256.0h0M702.8 243.8h0M715.0 255.3h0M705.4 245.9h0M701.7 241.1h0M689.9 227.9h0M719.4 266.7h0M715.5 257.2h0M709.1 249.4h0M700.2 239.2h0M708.9 251.9h0M712.0 252.8h0M695.3 232.2h0" stroke="#2c0606" stroke-width="0.88"/></g><polygon points="619.6,261.2 622.2,257.9 624.4,254.4 626.1,250.7 627.4,246.8 628.3,242.7 627.9,242.5 625.3,245.8 623.2,249.3 621.4,253.0 620.2,256.9 619.3,261.0" fill="#1e0303" filter="url(#b1)"/><g filter="url(#b2)" fill="none" stroke-linecap="round"><path d="M518.8 272.1h0M511.3 267.5h0M515.3 271.7h0M516.3 272.3h0M511.0 267.2h0M518.7 272.6h0M518.0 272.2h0M512.1 268.1h0M510.7 268.5h0M516.6 271.2h0M515.1 270.3h0" stroke="#4a0808" stroke-width="0.94"/><path d="M510.2 268.1h0M515.7 272.6h0M514.6 270.7h0M513.4 268.0h0M519.9 274.6h0M512.8 270.5h0M519.2 272.8h0M515.9 272.7h0M514.7 271.9h0" stroke="#2c0606" stroke-width="0.88"/></g><g filter="url(#b2)" fill="none" stroke-linecap="round"><path d="M542.9 267.2h0M544.9 262.3h0M544.2 267.0h0M544.9 265.2h0M542.4 267.0h0M543.0 265.8h0M546.5 260.0h0M543.9 263.8h0M544.3 264.3h0" stroke="#4a0808" stroke-width="0.94"/><path d="M542.9 265.2h0M543.1 268.8h0M543.0 265.9h0M542.4 267.6h0M542.0 266.8h0M544.8 263.0h0M543.1 268.4h0" stroke="#2c0606" stroke-width="0.88"/></g><g filter="url(#b2)" fill="none" stroke-linecap="round"><path d="M562.3 250.5h0M565.4 255.8h0M562.6 253.6h0M565.3 255.6h0M562.5 252.8h0M562.1 253.3h0M561.5 252.0h0" stroke="#3a0606" stroke-width="0.94"/><path d="M564.1 253.4h0M564.2 252.9h0M564.8 254.9h0M564.8 256.7h0M563.6 252.4h0" stroke="#220606" stroke-width="0.88"/></g><g filter="url(#b2)" fill="none" stroke-linecap="round"><path d="M678.8 268.1h0M682.0 268.7h0M677.4 268.6h0M674.4 268.5h0M675.8 268.5h0M678.2 268.2h0M676.1 267.3h0M673.2 268.4h0M675.0 268.4h0M672.5 267.6h0M675.6 268.1h0" stroke="#3a0606" stroke-width="0.94"/><path d="M675.0 266.8h0M675.1 267.3h0M672.6 268.0h0M674.7 267.7h0M682.2 270.0h0M681.9 270.1h0M672.9 267.1h0M671.5 267.5h0" stroke="#220606" stroke-width="0.88"/></g><circle cx="522.23" cy="254.92" r="11" fill="#040000" filter="url(#b1)"/></g><g clip-path="url(#ca03)"><rect x="732" y="62" width="216.2" height="216.4" fill="#140001"/><g filter="url(#b3)"><polygon points="710.38,40.36 775.24,40.36 749.3,170.2 753.62,300.04 710.38,300.04" fill="#020000"/><polygon points="850.91,40.36 991.44,40.36 991.44,321.68 861.72,321.68" fill="#1c0002"/></g><polygon points="818.8,124.5 819.6,127.2 820.6,131.0 821.6,135.3 822.2,139.8 822.0,144.0 821.0,148.3 819.4,153.1 817.2,158.1 814.8,163.1 812.3,167.6 809.5,172.2 806.3,177.0 802.9,181.6 800.0,185.5 798.0,188.3 798.4,188.6 800.8,186.2 804.5,182.9 808.6,178.9 812.7,174.5 816.0,169.9 818.7,165.1 821.2,160.0 823.5,154.7 825.2,149.4 826.0,144.3 825.5,139.4 824.1,134.6 822.2,130.4 820.4,126.9 819.3,124.4" fill="#260404" filter="url(#b1)"/><polygon points="768.5,172.7 771.3,174.7 775.3,177.5 779.9,180.9 784.4,184.6 788.1,188.5 791.1,193.0 794.2,198.3 797.1,203.9 799.9,209.1 802.5,213.1 804.5,215.7 806.0,217.5 807.9,218.9 810.4,219.6 813.9,220.2 819.6,220.3 826.9,220.0 834.6,219.3 841.5,218.6 846.2,218.3 846.1,217.7 841.4,217.6 834.6,217.3 826.9,216.9 819.7,216.5 814.4,215.8 811.3,215.3 809.8,214.9 809.1,214.3 808.0,213.0 806.1,210.6 803.7,206.8 801.0,201.8 798.0,196.2 794.8,190.6 790.9,186.0 786.4,182.2 781.3,178.9 776.2,176.1 771.8,174.0 768.8,172.2" fill="#260404" filter="url(#b1)"/><polygon points="757.7,240.4 760.3,239.0 764.0,237.1 768.3,234.9 773.1,232.7 778.0,231.0 783.2,229.4 789.1,227.7 795.2,226.3 801.4,224.9 807.1,223.9 812.8,222.7 818.7,221.6 824.4,220.8 829.2,220.0 832.6,219.5 832.6,219.0 829.1,219.0 824.2,218.9 818.5,218.8 812.4,219.0 806.4,219.5 800.5,220.6 794.3,222.0 788.0,223.5 781.9,225.2 776.5,227.2 771.6,229.8 767.1,232.7 763.1,235.6 759.8,238.2 757.4,239.9" fill="#260404" filter="url(#b1)"/><polygon points="844.9,177.6 847.7,178.6 851.9,179.8 856.4,181.5 860.0,183.7 861.8,186.5 861.8,190.9 860.6,197.0 858.9,204.1 857.2,211.3 856.3,217.8 856.2,223.6 856.4,229.0 857.2,234.1 858.3,238.8 859.6,243.0 861.3,246.9 863.6,250.4 865.9,253.4 868.0,255.7 869.3,257.5 869.8,257.2 868.5,255.4 866.9,252.7 865.1,249.5 863.4,245.9 862.3,242.2 861.6,238.1 861.1,233.6 860.8,228.7 860.6,223.5 860.7,218.2 861.5,212.1 863.2,205.1 864.9,197.9 865.7,191.1 865.0,185.5 861.8,181.6 857.2,179.4 852.3,178.4 847.9,177.8 845.0,177.1" fill="#260404" filter="url(#b1)"/><polygon points="945.7,134.1 942.9,136.5 939.0,139.7 934.4,143.7 929.8,148.1 925.6,152.7 922.2,157.8 919.1,163.4 916.0,169.1 913.2,174.7 910.6,180.2 908.5,185.9 906.6,191.8 904.9,197.4 903.6,202.2 902.5,205.6 903.0,205.8 904.5,202.6 906.6,198.1 909.1,192.8 911.8,187.3 914.6,182.0 917.2,176.7 919.9,171.1 922.9,165.5 926.0,160.1 929.2,155.3 932.5,150.5 936.4,145.6 940.3,141.1 943.6,137.2 946.0,134.5" fill="#260404" filter="url(#b1)"/><g filter="url(#b2)" fill="none" stroke-linecap="round"><path d="M768.1 204.2h0M757.6 205.1h0M769.6 204.0h0M775.8 204.8h0M766.7 203.8h0M745.2 206.1h0M771.0 205.2h0M742.0 205.1h0M747.0 204.7h0M753.0 204.6h0M741.9 205.4h0M767.1 203.8h0M775.4 205.2h0M770.4 204.1h0M758.5 205.1h0M754.9 203.7h0M775.2 205.6h0M752.2 203.9h0M776.0 205.3h0M742.3 205.3h0M745.0 205.9h0M749.2 206.1h0M771.8 203.8h0M769.4 204.3h0M771.6 205.5h0M752.0 204.0h0M779.9 205.4h0M779.2 205.7h0M771.2 205.5h0M766.6 204.4h0M742.6 205.8h0M758.2 204.7h0M779.2 204.9h0M772.3 203.7h0M769.7 205.3h0M751.2 205.1h0M780.9 205.7h0" stroke="#5a0a0a" stroke-width="1.02"/><path d="M763.1 203.8h0M742.8 205.3h0M757.5 203.9h0M753.2 203.9h0M769.9 205.1h0M750.2 204.4h0M761.9 204.4h0M779.5 205.2h0M752.9 206.0h0M746.3 205.5h0M754.3 205.7h0M763.3 205.2h0M747.4 205.7h0M765.4 204.4h0M772.3 205.7h0M745.1 205.0h0M755.4 204.0h0M742.8 205.2h0M748.6 205.7h0M759.0 203.6h0M753.9 204.8h0M755.5 203.9h0M743.3 204.7h0M781.8 205.9h0M743.8 205.9h0M781.3 205.7h0M744.9 205.4h0M758.4 203.8h0M763.0 203.2h0" stroke="#360606" stroke-width="0.96"/></g><g filter="url(#b2)" fill="none" stroke-linecap="round"><path d="M761.1 221.8h0M760.7 217.8h0M762.2 218.3h0M763.0 212.8h0M762.2 209.7h0M761.8 220.8h0M761.9 211.9h0M760.6 220.8h0M761.7 211.6h0M760.9 220.6h0M762.8 213.9h0M761.8 220.6h0" stroke="#5a0a0a" stroke-width="1.02"/><path d="M761.9 214.4h0M761.1 214.3h0M763.4 212.7h0M761.4 217.0h0M760.9 220.4h0M760.5 221.6h0M761.9 216.1h0M762.7 211.6h0M762.9 217.4h0" stroke="#360606" stroke-width="0.96"/></g><g filter="url(#b2)" fill="none" stroke-linecap="round"><path d="M871.6 232.5h0M865.3 229.3h0M864.5 219.1h0M866.8 228.4h0M872.6 232.6h0M875.0 235.6h0M873.9 234.2h0M864.4 224.7h0M867.4 230.3h0M865.3 226.0h0M870.4 233.6h0M877.1 235.0h0M865.0 224.9h0M868.6 231.1h0M865.2 222.0h0M865.2 225.6h0M878.5 236.5h0M875.6 236.0h0M878.3 236.2h0M874.8 233.7h0M870.9 233.3h0M864.7 225.0h0M878.2 236.0h0M870.5 232.3h0" stroke="#5a0a0a" stroke-width="1.02"/><path d="M864.2 226.5h0M863.8 217.5h0M871.1 233.0h0M863.5 219.2h0M865.3 227.0h0M865.8 228.2h0M868.5 231.2h0M864.6 219.8h0M876.5 235.5h0M863.2 220.0h0M865.7 223.6h0M868.1 230.3h0M866.7 230.0h0M864.3 223.1h0M863.9 219.9h0M869.6 231.0h0M866.8 227.4h0M865.3 229.2h0M867.7 231.6h0" stroke="#360606" stroke-width="0.96"/></g><g filter="url(#b2)" fill="none" stroke-linecap="round"><path d="M900.5 239.8h0M898.9 246.0h0M900.4 223.3h0M901.5 230.1h0M899.1 245.2h0M900.4 240.3h0M900.6 240.4h0M901.8 225.9h0M898.3 222.9h0M902.0 225.3h0M899.9 238.4h0M899.1 243.3h0M899.3 242.9h0M898.7 244.0h0M901.0 224.0h0M900.4 228.5h0M899.1 237.6h0M901.3 222.8h0M898.7 239.1h0M900.8 238.9h0M900.9 235.7h0M899.5 234.1h0M900.7 223.5h0M900.4 237.6h0" stroke="#7a0e0e" stroke-width="1.10"/><path d="M901.7 224.7h0M899.3 241.9h0M901.1 221.9h0M900.6 223.4h0M901.4 224.5h0M900.7 227.2h0M901.7 229.8h0M899.3 242.9h0M899.0 237.9h0M899.9 245.0h0M901.9 228.8h0M899.3 232.8h0M900.8 241.0h0M900.8 224.4h0M900.1 237.7h0M901.3 232.3h0M899.7 242.2h0M899.1 242.9h0M899.9 222.4h0" stroke="#490606" stroke-width="1.04"/></g><g filter="url(#b2)" fill="none" stroke-linecap="round"><path d="M915.2 171.4h0M918.0 171.4h0M915.9 170.4h0M916.7 171.9h0" stroke="#5a0a0a" stroke-width="1.02"/><path d="M916.8 171.2h0M915.1 170.1h0M917.2 170.3h0" stroke="#360606" stroke-width="0.96"/></g></g><g clip-path="url(#ca10)"><rect x="63.7" y="282.1" width="216.2" height="216.4" fill="#1c0002"/><g filter="url(#b3)"><polygon points="42.08,455.22 89.64,520.14 42.08,520.14" fill="#080000"/><polygon points="42.08,260.46 76.67,260.46 72.35,520.14 42.08,520.14" fill="#120001"/></g><polygon points="67.2,285.7 71.2,288.3 76.7,292.1 83.2,296.4 89.7,300.8 95.5,304.8 100.6,308.1 105.4,311.4 110.1,314.8 114.9,318.3 120.0,322.0 126.2,326.1 133.4,330.5 140.4,334.7 146.6,338.4 150.9,341.0 151.3,340.5 147.4,337.3 141.9,332.7 135.5,327.5 129.0,322.2 123.0,317.7 117.9,314.1 113.1,310.6 108.4,307.2 103.5,303.9 98.3,300.4 92.0,296.9 84.9,293.4 77.9,290.0 71.8,287.2 67.5,285.1" fill="#2a0404" filter="url(#b1)"/><g filter="url(#b2)" fill="none" stroke-linecap="round"><path d="M105.7 311.0h0M71.7 287.0h0M124.7 320.9h0M91.2 299.1h0M90.1 298.8h0M111.3 314.9h0M150.8 339.8h0M114.4 316.1h0M140.1 334.1h0M120.7 319.9h0M99.3 303.1h0M133.4 330.1h0M145.8 337.5h0M93.2 301.6h0M129.7 325.7h0M121.5 319.1h0M114.5 314.3h0M72.8 288.1h0M94.4 303.5h0M109.0 310.1h0M89.1 296.6h0M98.5 301.8h0M67.8 286.1h0M106.4 308.7h0M116.2 315.0h0M83.0 292.3h0M94.0 299.9h0M128.6 325.1h0M146.2 336.8h0M144.5 336.4h0M74.8 288.6h0M115.5 318.1h0M97.7 304.5h0M103.4 308.8h0M73.3 288.7h0M143.2 334.4h0M90.8 296.6h0M82.2 292.8h0M127.5 322.6h0M102.6 304.8h0M117.7 318.9h0M123.0 319.3h0M128.2 326.9h0M119.4 316.2h0M134.6 330.9h0M97.8 301.4h0M83.7 294.9h0M140.6 333.9h0M145.2 335.7h0M95.2 302.8h0M122.5 320.1h0M125.2 321.6h0M72.5 288.1h0M71.2 287.9h0M96.4 302.3h0M118.7 316.6h0M108.3 307.9h0M144.9 336.6h0M150.4 339.6h0M118.9 319.1h0M96.8 300.6h0M81.7 292.0h0M133.0 325.8h0M136.0 329.7h0M113.1 314.2h0M114.2 315.4h0M118.8 317.0h0M130.4 324.9h0M126.8 324.9h0M133.2 327.1h0M131.3 329.2h0M106.8 308.2h0M111.0 314.5h0M79.7 290.5h0M107.8 310.8h0M132.9 327.2h0M150.4 339.9h0M132.1 325.2h0M70.1 286.3h0M72.6 288.4h0M115.4 313.8h0M146.3 337.0h0M81.0 291.8h0M128.6 327.0h0M82.4 291.9h0M133.5 327.0h0M149.6 339.7h0M121.6 319.1h0M134.8 329.0h0M94.6 303.2h0M76.4 291.4h0M72.9 288.9h0M101.2 307.3h0M72.5 288.5h0M101.7 307.9h0M146.4 337.8h0M87.4 295.7h0M90.4 298.3h0M88.2 295.9h0M131.0 327.3h0M92.2 302.2h0M86.1 296.4h0M80.4 294.4h0M140.8 332.5h0M129.9 327.4h0M92.3 299.0h0M108.0 312.1h0M81.1 294.0h0M118.2 317.2h0M115.7 317.6h0M84.9 297.2h0M98.0 304.7h0M140.5 331.9h0M138.9 334.3h0M94.3 298.7h0M76.4 292.2h0M67.9 286.3h0" stroke="#4a0808" stroke-width="0.85"/><path d="M80.0 293.8h0M76.5 289.2h0M126.2 320.7h0M95.8 304.3h0M126.7 325.8h0M149.8 339.0h0M87.1 298.4h0M126.9 320.9h0M111.3 310.9h0M105.6 306.0h0M68.7 287.0h0M93.9 302.9h0M77.9 291.3h0M79.4 291.9h0M82.6 295.0h0M79.8 293.6h0M111.3 310.2h0M98.0 303.3h0M144.7 335.7h0M85.0 298.1h0M141.0 334.7h0M92.0 297.7h0M91.5 296.8h0M71.1 287.6h0M102.4 306.6h0M100.1 301.8h0M125.1 323.3h0M113.6 314.4h0M124.3 324.7h0M140.3 334.1h0M102.4 305.1h0M102.2 308.9h0M101.1 304.7h0M103.7 305.0h0M151.4 340.1h0M117.7 319.7h0M89.3 298.6h0M100.7 303.6h0M85.6 293.7h0M137.5 332.7h0M144.4 334.2h0M126.5 322.3h0M121.9 320.4h0M93.6 303.3h0M67.3 285.7h0M139.0 332.3h0M116.3 319.1h0M87.5 297.7h0M130.4 325.4h0M127.8 323.6h0M112.0 313.7h0M125.1 321.3h0M120.5 319.4h0M86.6 297.0h0M89.4 300.4h0M107.3 311.0h0M112.0 312.9h0M87.6 294.9h0M145.1 336.6h0M112.0 313.2h0M136.5 328.9h0M81.7 295.2h0M106.5 309.9h0M135.9 332.2h0M141.3 331.6h0M99.5 306.2h0M137.2 328.7h0M81.3 292.1h0M76.6 290.1h0M134.9 329.4h0M107.4 307.2h0M100.2 307.7h0M126.2 322.9h0M107.5 311.6h0M132.3 325.3h0M125.2 321.7h0M112.6 311.8h0M99.9 303.6h0M101.6 302.9h0M84.7 295.7h0M72.8 287.5h0M128.6 323.5h0M96.2 300.7h0M138.5 329.6h0M120.2 321.1h0M85.2 295.1h0M133.7 329.2h0M100.8 302.5h0M105.8 307.8h0M128.1 323.2h0M102.2 306.9h0M136.0 329.2h0M100.5 305.4h0" stroke="#2c0606" stroke-width="0.80"/></g><circle cx="153.54" cy="350.86" r="1.7" fill="#ff1818" filter="url(#b2)"/><polygon points="157.3,390.3 160.0,389.3 163.9,388.1 168.5,386.7 173.1,385.2 177.4,383.7 181.1,382.3 184.7,380.8 188.3,379.3 192.1,377.6 196.3,375.8 201.0,373.5 206.0,370.8 211.1,368.0 216.0,365.6 220.6,363.9 225.2,363.0 229.9,362.4 234.4,362.4 238.2,362.8 241.1,363.8 243.2,365.2 244.8,367.3 246.0,369.9 246.8,373.1 247.2,376.6 247.3,380.6 246.8,385.3 245.9,390.4 244.7,395.6 243.3,400.6 241.4,405.7 238.8,411.2 236.2,416.5 233.8,421.1 232.1,424.3 232.6,424.6 234.4,421.5 237.2,417.2 240.4,412.1 243.5,406.7 245.9,401.6 247.8,396.5 249.5,391.3 250.8,386.0 251.6,380.9 251.9,376.4 251.4,372.2 250.4,368.4 248.7,364.9 246.4,361.9 243.2,359.6 239.2,358.3 234.6,357.7 229.6,357.8 224.4,358.4 219.4,359.5 214.2,361.3 209.0,363.8 203.8,366.7 198.9,369.7 194.5,372.2 190.5,374.3 186.9,376.3 183.5,378.1 180.0,379.8 176.5,381.5 172.4,383.4 167.9,385.3 163.6,387.1 159.8,388.8 157.1,389.7" fill="#2c0505" filter="url(#b1)"/><g filter="url(#b2)" fill="none" stroke-linecap="round"><path d="M238.9 414.3h0M234.3 420.3h0M211.7 365.8h0M204.6 367.1h0M248.6 389.0h0M235.2 360.1h0M239.5 410.4h0M161.1 388.7h0M225.1 360.5h0M244.6 401.8h0M227.1 361.9h0M221.5 361.3h0M233.0 361.3h0M248.5 375.4h0M215.1 361.6h0M249.3 376.8h0M246.7 390.7h0M174.7 382.6h0M169.1 386.5h0M172.2 383.3h0M248.0 388.4h0M165.6 387.3h0M249.4 381.8h0M165.6 387.4h0M218.3 362.6h0M232.1 424.0h0M243.2 407.0h0M206.1 368.2h0M158.3 390.2h0M197.3 372.0h0M202.7 369.0h0M243.0 404.5h0M232.9 359.8h0M164.8 386.8h0M241.8 405.4h0M244.0 404.6h0M186.6 376.4h0M237.1 359.9h0M225.4 360.6h0M244.2 362.5h0M247.4 396.2h0M238.6 413.2h0M164.8 386.9h0M236.4 359.9h0M241.6 360.8h0M198.1 373.8h0M200.5 372.2h0M245.9 396.0h0M224.2 362.5h0M222.6 362.6h0M165.9 386.7h0M250.1 369.9h0M244.1 405.7h0M246.3 363.6h0M238.4 413.6h0M246.3 395.8h0M248.8 375.9h0M200.1 370.3h0M245.5 402.0h0M239.5 413.4h0M172.0 383.4h0M245.4 392.8h0M217.9 363.1h0M196.0 375.4h0M250.8 377.8h0M165.9 387.3h0M163.7 388.3h0M199.9 370.4h0M244.1 362.2h0M241.1 360.0h0M239.7 412.4h0M245.3 402.4h0M244.7 395.1h0M213.5 362.3h0M212.8 365.1h0M190.5 376.6h0M171.3 384.7h0M249.2 384.5h0M251.0 376.7h0M246.2 400.5h0M237.4 413.2h0M237.1 416.0h0M199.7 371.0h0M248.3 388.0h0M238.7 415.1h0M228.8 361.6h0M245.4 364.6h0M170.2 384.3h0M197.9 374.3h0M244.8 402.9h0M239.3 414.5h0M244.2 365.7h0M208.3 368.8h0M250.8 372.9h0M205.8 368.0h0M194.2 375.6h0M184.4 380.4h0M200.3 369.5h0M241.0 359.7h0M239.0 361.8h0M245.4 364.1h0M162.3 388.2h0M172.0 385.0h0M177.1 382.8h0M208.5 366.2h0M250.5 374.0h0M183.2 381.5h0M206.3 369.4h0M242.2 406.7h0M179.0 380.3h0M242.8 408.0h0M230.5 360.2h0M174.9 383.3h0M181.8 380.6h0M232.2 359.6h0M186.5 377.9h0M186.9 376.6h0M193.4 376.5h0M231.4 361.5h0M159.7 389.6h0M229.4 361.2h0M241.8 362.3h0M191.6 376.9h0M179.9 380.5h0M161.8 388.2h0M234.0 359.3h0M241.9 409.7h0M243.8 361.6h0M244.4 364.8h0M251.0 382.0h0M193.8 375.2h0M234.1 422.3h0M246.6 367.5h0M246.2 398.1h0M246.0 397.4h0M239.6 414.0h0M237.2 416.3h0M216.0 361.5h0M193.9 375.7h0M250.8 376.6h0M206.8 366.1h0M186.3 377.2h0M206.5 369.9h0M232.2 423.9h0M227.9 360.3h0M245.8 392.1h0M247.8 388.1h0M187.1 378.6h0M243.1 402.3h0M171.3 385.4h0M207.6 365.8h0M234.8 419.6h0M249.8 387.5h0M243.5 399.6h0M239.3 410.9h0M243.8 400.3h0M245.0 363.4h0M244.2 399.2h0M242.9 406.6h0M235.4 419.0h0M237.3 417.3h0M234.4 419.9h0M195.1 375.6h0M191.1 374.8h0M224.2 359.8h0M229.9 361.6h0M248.7 377.6h0M214.8 364.8h0M246.0 394.6h0M236.4 416.0h0M215.9 361.5h0M247.8 372.7h0M207.0 368.0h0M243.6 400.9h0M157.9 389.7h0M159.5 388.7h0M246.0 397.7h0" stroke="#5a0a0a" stroke-width="0.94"/><path d="M246.4 365.3h0M205.6 366.9h0M209.6 367.9h0M248.2 367.0h0M170.2 384.5h0M249.7 380.2h0M247.9 373.9h0M175.6 383.8h0M163.7 388.3h0M184.3 378.3h0M235.9 418.7h0M191.2 377.9h0M245.2 366.8h0M214.6 363.7h0M235.8 418.3h0M233.6 423.1h0M246.1 400.8h0M235.7 358.0h0M184.2 381.4h0M224.2 362.2h0M194.1 373.9h0M172.5 384.6h0M242.9 405.1h0M212.9 366.6h0M240.2 409.4h0M168.8 386.1h0M222.6 363.2h0M210.3 366.6h0M248.7 369.1h0M234.6 360.8h0M239.7 411.5h0M211.1 367.7h0M166.1 387.6h0M249.3 377.4h0M223.0 362.2h0M240.2 408.9h0M250.3 388.3h0M204.0 367.4h0M235.3 417.5h0M179.0 382.1h0M244.2 360.7h0M214.8 364.8h0M249.5 370.5h0M248.8 390.1h0M238.2 360.1h0M233.8 421.3h0M245.4 396.2h0M213.5 366.5h0M248.5 381.5h0M197.4 371.2h0M242.0 363.3h0M247.3 394.9h0M178.2 382.1h0M242.9 407.8h0M250.1 386.4h0M202.0 368.1h0M200.7 370.5h0M234.2 419.4h0M184.8 378.2h0M237.4 417.0h0M204.1 368.9h0M173.3 383.2h0M214.4 363.2h0M235.6 419.6h0M188.3 379.4h0M223.5 362.5h0M247.2 370.3h0M202.6 368.3h0M248.2 389.1h0M240.2 361.8h0M249.2 388.6h0M210.9 367.5h0M235.9 359.3h0M249.1 368.5h0M249.5 391.8h0M244.8 399.7h0M209.8 368.3h0M195.9 372.4h0M167.8 386.3h0M247.4 388.4h0M217.9 363.9h0M173.7 383.2h0M246.7 371.7h0M247.5 369.8h0M247.9 391.9h0M236.6 415.9h0M206.9 367.1h0M246.7 396.8h0M185.6 380.5h0M236.2 360.3h0M247.6 375.3h0M177.1 381.9h0M167.1 386.2h0M231.5 361.6h0M249.0 374.9h0M216.1 363.4h0M198.3 374.2h0M245.4 393.5h0M180.1 381.9h0M248.2 388.6h0M239.2 409.7h0M247.2 386.6h0M247.3 372.3h0M177.2 383.3h0M249.0 380.6h0M196.9 371.0h0M245.0 366.1h0M196.9 371.8h0M189.7 374.8h0M247.4 376.4h0M246.9 396.2h0M251.4 380.0h0M245.0 401.9h0M157.8 390.0h0M177.7 381.4h0M166.1 386.6h0M239.4 362.2h0M163.4 388.4h0M173.5 383.0h0M248.7 368.6h0M205.8 368.6h0M190.1 378.0h0M189.0 378.8h0M245.8 397.0h0M162.0 388.8h0M161.5 388.5h0M218.4 360.2h0M247.2 369.4h0M244.3 362.7h0M233.0 360.4h0M191.5 377.7h0M232.3 423.7h0M235.7 419.2h0M233.9 422.8h0M227.4 358.7h0M223.9 361.7h0M249.6 381.4h0M206.5 366.3h0M215.6 362.2h0M186.6 379.4h0M233.7 359.8h0" stroke="#360606" stroke-width="0.88"/></g><polygon points="180.4,408.3 178.9,410.3 176.9,413.1 174.5,416.2 172.0,419.2 169.6,421.7 166.2,423.8 161.9,425.8 157.6,428.1 153.7,430.1 151.0,431.6 151.2,432.1 154.1,431.4 158.5,430.5 163.4,429.3 168.1,427.2 172.0,424.8 175.0,421.7 177.2,417.9 178.8,414.1 179.9,410.8 180.8,408.6" fill="#280404" filter="url(#b1)"/><g filter="url(#b2)" fill="none" stroke-linecap="round"><path d="M176.3 415.0h0M177.5 415.6h0M166.8 424.9h0M152.0 431.2h0M152.7 430.5h0M161.1 427.4h0M179.9 410.9h0M180.1 408.7h0M161.2 427.7h0M175.9 417.8h0M177.2 414.0h0M151.5 431.9h0M180.2 410.2h0M172.6 419.6h0M158.4 429.3h0M179.5 412.4h0M177.1 413.4h0M169.3 422.3h0M154.1 430.0h0M169.5 422.9h0M179.1 413.4h0M167.1 425.5h0M177.3 416.1h0M179.8 409.0h0M161.3 426.6h0M151.8 431.6h0M161.1 428.5h0M157.7 428.3h0M179.2 413.7h0M176.3 415.7h0M173.9 422.2h0M157.1 428.8h0M171.2 424.7h0M155.2 430.2h0M179.6 411.1h0M164.4 425.4h0M169.5 423.5h0M177.4 416.0h0M154.6 430.8h0" stroke="#4a0808" stroke-width="0.85"/><path d="M178.4 412.0h0M179.0 413.2h0M170.5 423.0h0M164.1 426.0h0M172.3 424.0h0M161.8 429.6h0M170.4 423.9h0M162.8 426.6h0M175.6 416.5h0M162.5 427.7h0M176.8 412.8h0M166.5 427.6h0M174.5 415.8h0M176.6 416.6h0M158.5 427.9h0M164.2 425.9h0M180.4 410.1h0M151.8 431.2h0M180.5 410.1h0M174.7 416.0h0M175.9 415.7h0M153.5 430.6h0M154.2 431.2h0M179.1 414.6h0M160.6 429.9h0M152.0 431.2h0M176.1 414.4h0M177.5 414.1h0M177.9 411.8h0M154.8 429.3h0M180.2 408.3h0" stroke="#2c0606" stroke-width="0.80"/></g><polygon points="195.1,401.0 194.3,404.3 192.9,409.0 191.6,414.5 190.6,420.3 190.6,426.0 191.8,431.4 193.6,436.8 195.8,442.1 197.9,446.8 199.8,450.9 201.3,454.5 202.5,457.9 203.5,460.9 204.4,463.3 205.0,465.1 205.5,465.0 205.2,463.1 205.0,460.5 204.6,457.4 204.0,453.7 203.3,449.7 202.0,445.2 200.1,440.3 198.0,435.2 196.3,430.1 195.2,425.4 194.9,420.4 194.9,414.9 195.2,409.3 195.5,404.5 195.7,401.1" fill="#2c0505" filter="url(#b1)"/><g filter="url(#b2)" fill="none" stroke-linecap="round"><path d="M195.2 437.6h0M194.6 434.0h0M196.2 440.0h0M195.6 406.3h0M196.7 436.2h0M195.0 426.7h0M202.6 448.1h0M201.6 454.4h0M195.5 430.6h0M199.7 442.5h0M195.1 428.9h0M204.8 463.6h0M194.4 424.2h0M199.4 448.3h0M204.2 455.0h0M193.6 425.2h0M202.6 449.4h0M195.9 440.9h0M203.3 449.6h0M195.5 406.1h0M199.4 445.7h0M195.6 434.9h0M193.0 427.9h0M197.2 443.4h0M199.6 448.4h0M203.1 459.6h0M202.0 446.4h0M198.2 445.3h0M192.3 429.6h0M191.9 412.6h0M193.1 430.2h0M193.7 417.7h0M193.5 423.9h0M194.5 407.3h0M204.8 463.9h0M203.7 460.8h0M201.1 455.0h0M201.9 448.9h0M193.3 417.5h0M195.5 402.5h0M202.4 458.0h0M191.8 422.7h0M200.2 451.0h0M201.9 451.9h0M193.4 407.8h0M192.3 421.7h0M192.8 425.2h0M205.2 462.7h0M195.1 435.8h0M194.3 436.7h0M191.9 428.1h0M198.1 446.0h0M195.1 407.1h0M191.3 419.8h0M195.5 402.0h0M198.6 447.6h0M193.8 412.6h0M198.9 445.4h0M200.1 449.2h0M193.9 417.4h0M194.8 402.8h0M194.1 414.8h0M204.5 462.8h0M196.6 439.5h0M196.6 440.0h0M194.4 420.9h0M195.7 405.6h0M194.2 424.8h0M194.2 408.4h0M204.5 463.2h0M191.9 418.9h0M194.9 412.9h0M193.1 420.9h0" stroke="#4a0808" stroke-width="0.85"/><path d="M199.9 445.2h0M202.3 447.1h0M204.7 460.6h0M204.5 453.8h0M203.7 453.7h0M202.0 456.0h0M200.1 443.8h0M195.7 401.8h0M204.9 458.7h0M198.5 443.6h0M200.2 443.1h0M195.3 410.7h0M205.1 463.9h0M198.4 443.2h0M195.1 415.8h0M194.8 402.0h0M192.3 409.3h0M191.9 425.0h0M192.9 410.0h0M193.6 417.6h0M197.1 434.6h0M191.7 417.2h0M193.3 419.8h0M202.6 449.6h0M194.6 413.9h0M193.6 426.2h0M198.5 442.3h0M204.9 456.3h0M197.6 444.3h0M195.2 416.6h0M195.5 429.4h0M193.3 431.5h0M195.5 407.4h0M195.9 431.9h0M193.4 416.2h0M195.6 409.1h0M193.0 424.8h0M204.2 461.0h0M195.4 405.9h0M200.7 448.8h0M201.7 457.1h0M204.5 455.6h0M204.4 461.5h0M194.5 416.9h0M204.2 456.1h0M195.2 406.6h0M204.2 460.2h0M202.4 447.3h0M194.8 430.6h0M192.5 414.4h0M194.6 424.7h0M205.0 464.1h0M195.5 413.1h0M198.7 443.1h0M195.2 402.7h0M200.7 448.5h0M193.1 416.4h0M196.9 440.4h0" stroke="#2c0606" stroke-width="0.80"/></g><polygon points="109.4,481.3 111.2,480.3 113.9,479.0 116.9,477.4 120.0,475.6 122.6,473.6 124.9,471.5 127.1,469.3 129.1,466.8 130.6,463.7 131.1,460.0 130.2,456.0 128.3,451.9 126.1,447.8 124.4,444.3 123.7,441.6 124.1,439.3 125.0,436.8 126.4,434.5 127.9,432.7 129.1,431.9 130.4,432.1 132.6,433.3 135.0,435.2 137.2,436.9 138.6,438.2 139.0,437.8 137.6,436.5 135.9,434.2 133.7,431.9 131.4,430.0 128.8,429.3 126.2,430.3 123.8,432.2 121.6,434.9 120.0,438.1 119.3,441.8 120.2,445.8 122.2,449.8 124.4,453.9 126.1,457.5 126.7,460.3 126.4,462.4 125.4,464.6 124.0,466.9 122.3,469.2 120.5,471.4 118.4,473.6 115.8,475.8 113.1,477.9 110.8,479.7 109.1,480.9" fill="#2c0505" filter="url(#b1)"/><g filter="url(#b2)" fill="none" stroke-linecap="round"><path d="M119.1 475.8h0M135.5 435.4h0M130.6 430.6h0M134.0 432.3h0M123.4 471.1h0M134.1 432.0h0M121.4 470.2h0M126.9 457.1h0M121.8 473.4h0M124.5 446.0h0M129.3 459.1h0M110.3 481.0h0M123.4 470.4h0M127.0 450.8h0M127.9 452.1h0M121.1 444.2h0M128.4 429.8h0M138.8 437.9h0M124.3 472.0h0M127.2 465.0h0M128.8 463.9h0M110.6 480.0h0M120.2 475.0h0M109.3 481.2h0M124.6 469.0h0M124.5 447.8h0M117.6 474.8h0M117.7 477.2h0M118.1 474.0h0M125.5 450.7h0M133.1 431.1h0M122.6 469.6h0M122.9 446.6h0M130.0 458.4h0M122.9 441.2h0M136.7 435.4h0M135.7 434.8h0M113.0 479.6h0M115.3 475.8h0M125.6 466.7h0M136.6 436.6h0M128.5 457.9h0M129.7 431.8h0M121.6 441.6h0M116.3 475.8h0M121.9 441.3h0M127.6 432.9h0M137.0 435.7h0M114.6 478.7h0M122.5 448.1h0M121.2 438.3h0M123.3 470.0h0M125.7 450.4h0M114.3 478.6h0M121.9 443.8h0M122.8 440.4h0M109.8 480.7h0M122.6 439.9h0M120.5 442.3h0M136.2 436.1h0M123.2 470.3h0M136.8 435.4h0M130.2 458.4h0M133.7 432.2h0M123.0 435.4h0M122.6 441.0h0M117.0 475.2h0M121.9 470.9h0M111.3 479.2h0M128.4 459.0h0M114.4 478.1h0M135.5 435.0h0M129.2 462.9h0M127.1 457.1h0M125.1 454.3h0M120.6 439.7h0M130.3 461.9h0M125.8 434.4h0M122.2 442.3h0M123.9 438.5h0M122.1 473.2h0" stroke="#4a0808" stroke-width="0.85"/><path d="M125.9 465.9h0M128.1 431.4h0M129.7 432.2h0M121.8 446.9h0M110.2 480.5h0M122.2 436.0h0M113.1 477.2h0M120.7 474.3h0M109.3 480.6h0M125.7 469.2h0M138.5 436.9h0M117.4 477.5h0M137.5 436.0h0M128.0 464.2h0M127.2 465.1h0M125.8 454.2h0M112.3 478.1h0M118.5 473.1h0M122.8 443.6h0M125.9 469.6h0M122.6 435.9h0M125.2 453.4h0M134.8 434.3h0M112.2 478.4h0M121.6 438.5h0M121.8 436.5h0M127.3 433.0h0M115.5 477.5h0M121.8 473.4h0M127.6 432.6h0M122.1 469.4h0M121.9 440.9h0M117.5 474.5h0M121.7 447.5h0M120.8 443.3h0M124.5 468.8h0M125.7 449.7h0M111.4 480.1h0M122.2 470.5h0M122.5 442.4h0M123.8 444.1h0M121.4 471.5h0M120.7 440.8h0M118.6 473.7h0M126.1 434.3h0M124.5 437.8h0M125.7 431.7h0M128.2 466.0h0M113.0 479.0h0M114.3 476.4h0M124.3 452.1h0M134.4 435.0h0M126.2 455.5h0M116.9 476.2h0M124.8 451.2h0M122.9 437.1h0M124.1 432.0h0M113.6 478.0h0M125.7 453.9h0M120.6 440.3h0M127.3 465.3h0M123.7 437.7h0M128.5 461.5h0M134.1 434.9h0M120.5 444.6h0" stroke="#2c0606" stroke-width="0.80"/></g><polygon points="144.8,459.2 147.4,460.5 151.1,462.6 155.4,464.8 159.9,466.9 164.2,468.4 168.2,469.2 172.3,469.5 176.3,469.5 180.1,469.2 183.6,468.6 186.8,467.7 189.9,466.7 192.9,465.1 195.5,462.9 197.3,459.7 198.0,455.5 197.7,450.5 196.9,445.4 196.1,441.0 195.7,438.0 195.1,438.0 195.1,441.1 195.0,445.6 194.8,450.6 194.4,455.1 193.4,458.2 192.1,459.9 190.4,461.3 188.1,462.4 185.5,463.3 182.6,464.0 179.5,464.6 176.1,464.9 172.5,464.9 168.7,464.6 165.1,464.3 161.0,463.5 156.4,462.3 151.8,460.8 147.8,459.6 145.0,458.7" fill="#2a0404" filter="url(#b1)"/><g filter="url(#b2)" fill="none" stroke-linecap="round"><path d="M178.0 467.6h0M165.1 464.6h0M195.9 439.4h0M153.9 462.6h0M189.5 463.4h0M149.5 461.5h0M195.9 455.2h0M151.0 461.2h0M151.0 462.8h0M148.7 460.1h0M194.8 455.2h0M152.8 461.0h0M156.3 463.8h0M195.1 450.6h0M156.7 464.8h0M175.7 466.6h0M153.8 461.8h0M195.0 440.2h0M163.0 466.8h0M197.1 446.1h0M179.4 468.7h0M188.6 463.8h0M178.7 467.8h0M194.2 457.7h0M157.9 466.1h0M152.0 462.9h0M169.2 466.0h0M162.9 465.7h0M195.0 438.7h0M195.6 449.0h0M156.7 464.7h0M169.4 465.8h0M175.1 468.4h0M196.4 448.3h0M145.5 459.5h0M189.5 466.0h0M195.3 441.6h0M197.2 449.4h0M163.8 465.6h0M171.9 466.6h0M172.2 465.7h0M160.5 466.8h0M174.5 467.7h0M196.8 446.5h0M161.7 467.2h0M198.1 452.8h0M196.4 458.7h0M195.3 452.1h0M192.0 462.4h0M195.0 450.2h0M184.0 465.4h0M195.7 451.5h0M197.4 449.7h0M195.0 447.2h0M196.2 442.6h0M193.8 462.1h0M148.0 461.0h0M184.7 465.7h0M169.1 468.0h0M197.6 454.5h0M160.1 464.4h0M162.9 464.3h0M168.5 465.1h0M195.2 453.3h0M150.2 460.1h0M194.6 457.2h0M178.4 466.6h0M197.9 452.9h0M166.9 467.2h0M195.9 445.9h0M196.6 445.5h0M166.9 468.1h0M186.2 463.9h0M188.1 466.2h0M182.6 466.3h0M175.0 468.6h0M192.1 461.4h0M170.9 466.6h0M195.9 441.1h0M153.1 463.7h0M147.3 460.1h0M176.2 468.0h0M175.9 465.7h0" stroke="#4a0808" stroke-width="0.85"/><path d="M183.3 467.7h0M195.6 453.9h0M160.2 466.2h0M195.0 452.9h0M197.7 446.7h0M176.2 466.7h0M196.5 460.7h0M159.3 463.9h0M168.2 467.9h0M157.9 464.5h0M181.4 467.4h0M154.2 464.7h0M195.5 438.0h0M194.8 453.4h0M196.1 444.8h0M197.6 456.5h0M170.7 469.0h0M160.2 462.8h0M181.7 468.3h0M197.4 445.4h0M182.4 468.4h0M185.3 464.1h0M191.3 464.9h0M175.5 467.6h0M163.4 465.0h0M175.3 467.3h0M178.7 465.2h0M145.4 458.9h0M196.1 459.8h0M161.9 464.4h0M182.2 465.0h0M189.3 466.3h0M158.9 465.0h0M196.3 459.6h0M195.8 460.0h0M163.8 467.6h0M194.6 443.8h0M195.5 442.2h0M151.4 460.3h0M197.0 453.3h0M154.9 463.0h0M192.2 465.4h0M168.8 468.1h0M162.5 464.4h0M156.3 463.3h0M189.4 463.4h0M156.6 462.6h0M151.2 460.6h0M167.4 466.8h0M157.8 464.1h0M176.9 469.2h0M180.6 468.8h0M179.0 465.6h0M187.5 463.4h0M157.3 462.2h0M196.3 461.3h0M174.0 466.5h0M175.6 466.5h0M193.7 460.6h0M155.0 464.7h0M185.9 463.3h0M197.1 449.3h0M170.3 467.6h0M195.6 444.0h0M176.2 466.3h0M185.4 466.4h0" stroke="#2c0606" stroke-width="0.80"/></g><polygon points="190.3,374.2 192.9,376.6 196.7,380.1 200.9,383.8 204.4,387.0 205.8,389.1 205.3,390.6 203.1,393.2 200.1,396.2 197.2,399.0 195.2,400.9 195.5,401.3 197.9,399.9 201.5,398.1 205.5,395.7 208.6,392.6 209.6,388.4 207.3,384.5 203.3,380.8 198.4,377.8 193.7,375.5 190.6,373.8" fill="#280404" filter="url(#b1)"/><polygon points="141.1,471.3 141.6,472.8 142.3,475.0 143.2,477.4 144.3,479.6 144.9,481.3 145.0,482.8 145.1,484.4 145.0,486.0 144.9,487.4 144.8,488.4 145.1,488.5 145.5,487.6 146.3,486.3 147.0,484.8 147.5,482.9 147.4,480.8 146.7,478.6 145.5,476.2 144.0,474.1 142.4,472.4 141.4,471.2" fill="#b01212" filter="url(#b1)"/><circle cx="261.85" cy="414.62" r="5.5" fill="#3c0606" filter="url(#b1)"/><polygon points="261.7,385.2 262.4,387.7 263.5,390.0 265.0,392.0 266.8,393.6 269.1,395.0 269.4,394.8 268.7,392.3 267.6,390.0 266.1,388.0 264.2,386.4 262.0,385.0" fill="#280404" filter="url(#b1)"/></g><g clip-path="url(#ca11)"><rect x="285.9" y="282.1" width="216.2" height="216.4" fill="#150001"/><g filter="url(#b3)"><polygon points="264.28,260.46 311.84,260.46 294.55,347.02 264.28,368.66" fill="#000"/><polygon points="404.81,260.46 545.34,260.46 545.34,541.78 415.62,541.78" fill="#200002"/></g><polygon points="405.2,348.4 407.4,347.1 410.5,345.3 414.0,343.2 417.6,341.1 420.9,339.0 424.6,337.3 429.0,335.5 433.3,333.3 437.0,331.3 439.6,329.9 439.5,329.4 436.5,329.9 432.4,330.6 427.6,331.5 422.9,333.2 418.8,335.1 415.1,337.4 411.7,340.3 408.9,343.4 406.6,346.1 404.9,347.9" fill="#2c0505" filter="url(#b1)"/><g filter="url(#b2)" fill="none" stroke-linecap="round"><path d="M471.2 329.4h0M445.8 329.0h0M476.2 329.0h0M464.9 328.8h0M454.2 329.8h0M463.2 328.2h0M447.3 328.3h0M478.2 328.9h0M440.7 329.5h0M460.2 328.5h0M455.2 329.6h0M454.6 328.8h0M479.6 328.6h0M460.0 328.1h0M456.2 328.9h0M473.4 327.8h0M455.5 328.4h0M455.2 329.6h0M462.7 327.9h0M453.9 329.5h0M446.5 329.6h0M440.5 329.4h0M442.1 329.9h0M445.8 328.7h0M442.0 329.2h0M471.1 328.9h0M478.7 329.1h0M463.3 329.4h0M443.4 330.1h0M458.2 327.8h0M471.7 329.2h0M456.1 327.7h0M477.1 328.9h0M465.2 329.5h0M441.1 329.1h0M444.8 328.5h0M470.0 328.7h0M444.3 328.8h0" stroke="#6a0c0c" stroke-width="1.02"/><path d="M447.3 329.4h0M468.5 329.6h0M455.1 330.0h0M458.2 328.3h0M450.4 328.2h0M481.5 328.9h0M469.9 327.5h0M447.2 328.3h0M454.7 329.4h0M442.1 329.6h0M468.8 327.1h0M458.5 329.3h0M464.3 328.3h0M477.5 328.6h0M454.0 328.5h0M480.2 329.0h0M478.9 328.5h0M445.6 328.5h0M456.1 329.2h0M439.8 329.9h0M473.4 328.4h0M439.8 329.9h0M457.4 329.0h0M464.1 329.0h0M457.2 329.8h0M480.7 329.0h0M466.0 327.9h0M455.7 328.0h0M478.5 329.0h0M473.5 329.3h0" stroke="#3f0606" stroke-width="0.96"/></g><polygon points="289.1,361.7 288.5,364.5 287.4,368.7 286.3,373.5 285.7,378.5 286.1,383.2 287.5,387.4 289.8,391.1 292.6,394.5 295.7,397.7 298.9,400.5 302.4,403.2 306.4,405.6 310.5,407.6 314.6,409.1 318.5,410.1 322.2,410.5 325.8,410.2 329.1,409.6 331.8,409.0 333.7,408.8 333.7,408.2 331.7,408.3 329.0,408.2 325.8,408.1 322.5,407.7 319.4,406.8 316.1,405.4 312.5,403.4 308.8,401.3 305.2,399.1 302.0,396.7 299.1,394.1 296.3,391.3 293.8,388.2 291.8,385.1 290.3,382.1 289.4,378.3 289.2,373.7 289.3,368.9 289.5,364.7 289.7,361.7" fill="#3a0606" filter="url(#b1)"/><g filter="url(#b2)" fill="none" stroke-linecap="round"><path d="M333.0 408.7h0M288.6 386.3h0M287.6 381.9h0M286.5 373.8h0M298.3 395.5h0M327.7 408.0h0M328.4 409.6h0M286.9 373.0h0M301.8 401.6h0M303.7 400.7h0M328.5 408.0h0M317.2 406.2h0M289.7 382.3h0M323.8 408.9h0M313.4 405.3h0M313.1 406.9h0M288.3 369.2h0M313.2 405.0h0M308.4 402.9h0M290.2 390.2h0M329.4 410.0h0M294.1 392.9h0M318.8 409.5h0M294.9 395.4h0M291.7 392.4h0M297.9 394.2h0M315.2 405.6h0M310.6 403.0h0M332.8 408.6h0M314.6 405.3h0M307.1 402.6h0M286.7 381.0h0M289.1 364.3h0M287.5 368.2h0M325.5 407.8h0M296.5 394.8h0M312.1 406.8h0M289.0 388.5h0M289.0 376.0h0M319.7 407.1h0M287.6 376.0h0M291.3 386.4h0M328.3 408.9h0M317.6 407.0h0M326.9 408.4h0M326.5 409.4h0M331.5 409.1h0M306.4 402.9h0M322.5 408.9h0M287.1 369.1h0M318.5 409.1h0M314.8 405.8h0M295.4 395.7h0M330.8 409.5h0M287.1 374.0h0M301.8 399.1h0M289.0 374.6h0M296.7 395.2h0M288.6 382.2h0M300.9 400.3h0M304.6 400.0h0M324.9 408.8h0M330.7 409.6h0M287.6 372.4h0M331.1 408.5h0M301.6 398.5h0M289.5 364.0h0M288.7 371.3h0M306.2 402.9h0M329.7 409.2h0M289.8 389.8h0M306.6 403.1h0M323.1 409.7h0M290.8 388.9h0M287.3 385.3h0M286.0 380.7h0M289.8 366.8h0M302.2 398.5h0M299.8 396.0h0M321.0 409.5h0M309.3 406.3h0M333.1 408.7h0M312.9 404.0h0M289.0 365.5h0M331.3 408.4h0M303.6 398.5h0M292.6 393.1h0" stroke="#5a0a0a" stroke-width="0.85"/><path d="M302.8 402.3h0M289.7 362.7h0M286.2 375.4h0M286.8 369.3h0M286.3 382.5h0M299.8 396.9h0M331.1 408.5h0M311.9 403.5h0M320.2 410.8h0M287.3 370.1h0M289.8 382.2h0M290.7 389.3h0M330.2 409.9h0M333.2 408.7h0M308.7 402.3h0M312.9 406.4h0M289.6 389.6h0M289.6 381.1h0M289.2 373.9h0M302.8 402.2h0M287.7 374.0h0M302.6 400.6h0M293.5 392.0h0M289.8 362.9h0M295.1 391.7h0M315.7 406.0h0M320.3 407.6h0M288.4 368.8h0M293.0 389.9h0M316.2 406.1h0M308.4 405.7h0M295.7 394.2h0M327.8 409.3h0M289.6 375.7h0M289.0 368.1h0M287.9 368.4h0M294.9 392.0h0M297.7 398.9h0M289.4 380.2h0M289.9 384.7h0M326.8 409.7h0M295.6 391.9h0M289.7 365.3h0M321.8 409.6h0M287.2 373.7h0M288.7 366.2h0M291.7 386.1h0M313.8 407.6h0M300.0 396.1h0M309.2 404.0h0M309.4 402.3h0M326.1 407.5h0M288.1 378.7h0M289.5 377.0h0M309.2 406.9h0M291.1 386.4h0M309.8 403.1h0M292.4 391.8h0M295.7 391.9h0M288.5 367.1h0M333.0 409.1h0M288.3 369.3h0M298.6 395.1h0M309.1 404.2h0M319.1 407.5h0M328.7 409.8h0M298.1 394.2h0M298.6 394.6h0M309.8 405.7h0M301.7 402.3h0" stroke="#360606" stroke-width="0.80"/></g><polygon points="322.4,411.0 322.4,413.5 322.9,415.7 323.8,417.7 325.3,419.4 327.3,420.9 327.7,420.7 327.8,418.2 327.3,416.0 326.3,414.0 324.8,412.3 322.8,410.8" fill="#2c0505" filter="url(#b1)"/><g filter="url(#b2)" fill="none" stroke-linecap="round"><path d="M379.7 427.3h0M407.3 419.7h0M389.5 423.3h0M399.4 422.4h0M390.8 424.5h0M391.5 424.3h0M388.4 425.8h0M393.7 422.1h0M381.4 427.0h0M409.9 420.5h0M383.9 426.7h0M404.2 420.1h0M392.0 424.1h0M378.0 427.2h0M391.1 424.8h0M414.8 419.4h0M411.6 420.4h0M409.9 420.4h0M413.8 419.8h0M413.0 419.9h0M385.2 425.6h0M395.6 422.4h0M391.6 423.8h0M399.4 421.3h0M388.1 424.8h0M396.4 422.4h0M402.2 420.6h0M397.3 421.8h0M406.4 421.2h0M406.7 420.7h0M387.3 426.0h0M396.6 422.3h0M388.5 424.4h0" stroke="#6a0c0c" stroke-width="1.02"/><path d="M404.1 421.9h0M395.8 423.4h0M385.7 425.3h0M390.9 423.4h0M391.3 424.6h0M404.8 420.1h0M386.7 425.9h0M402.1 421.9h0M401.4 422.1h0M387.6 423.6h0M390.8 422.7h0M413.5 419.8h0M402.8 422.5h0M407.5 419.8h0M390.0 423.1h0M407.3 421.2h0M395.7 422.4h0M387.8 424.8h0M404.3 422.1h0M409.4 421.1h0M394.0 423.0h0M389.8 425.6h0M384.4 424.8h0M388.5 425.8h0M409.3 419.9h0M409.5 421.2h0" stroke="#3f0606" stroke-width="0.96"/></g><g filter="url(#b2)" fill="none" stroke-linecap="round"><path d="M311.3 463.4h0M323.6 470.0h0M299.1 465.7h0M311.6 464.1h0M317.5 466.3h0M295.1 466.0h0M309.3 462.6h0M308.8 464.3h0M307.3 464.0h0M318.6 466.6h0M295.1 466.2h0M318.0 466.6h0M302.2 465.0h0M328.3 472.7h0M316.8 466.7h0M307.0 462.5h0M307.0 463.9h0M317.4 466.9h0M298.9 464.5h0M306.4 463.3h0M308.4 464.6h0M299.0 465.8h0M303.7 464.7h0M303.8 464.1h0M309.2 462.7h0M323.9 471.3h0M304.8 464.4h0M312.6 465.9h0M296.4 465.6h0M303.2 464.2h0M323.2 471.0h0M315.7 465.7h0M324.8 470.0h0M304.5 464.4h0M311.1 465.4h0" stroke="#5a0a0a" stroke-width="1.02"/><path d="M297.8 465.3h0M302.2 462.7h0M297.7 464.6h0M308.8 463.5h0M314.3 464.7h0M321.0 468.8h0M330.7 474.3h0M314.2 465.2h0M308.8 464.7h0M302.7 465.1h0M308.3 463.2h0M317.8 467.3h0M305.2 462.5h0M329.8 473.9h0M298.8 465.3h0M315.2 465.2h0M307.0 464.5h0M307.6 463.4h0M329.8 473.9h0M310.1 462.9h0M319.4 468.4h0M311.8 464.1h0M303.4 464.7h0M311.9 465.4h0M308.9 464.4h0M295.3 465.7h0M329.8 474.3h0M320.1 468.3h0" stroke="#360606" stroke-width="0.96"/></g><g filter="url(#b2)" fill="none" stroke-linecap="round"><path d="M354.0 478.2h0M338.1 482.9h0M366.1 476.4h0M363.4 476.5h0M361.7 476.8h0M356.1 478.1h0M358.2 477.3h0M354.8 479.1h0M335.9 482.7h0M365.4 477.3h0M362.1 478.3h0M359.4 477.3h0M352.7 480.1h0M359.4 478.7h0M348.3 480.0h0M381.3 475.4h0M363.8 476.4h0M361.6 476.5h0M379.4 476.1h0M368.0 476.2h0M374.4 475.3h0M373.5 476.1h0M329.7 484.9h0M352.6 480.1h0M365.9 477.2h0M375.3 475.2h0M377.3 475.3h0M330.1 484.3h0M332.2 483.3h0M362.3 476.6h0M337.2 482.3h0M344.0 482.2h0M377.8 476.2h0M382.4 474.9h0M371.7 475.8h0M379.0 475.9h0M368.2 476.1h0M333.8 484.3h0M358.5 478.5h0M375.3 475.1h0M366.5 476.9h0M371.2 476.3h0M339.6 483.3h0M344.0 481.8h0M373.6 475.5h0M366.2 476.8h0M340.6 481.2h0M380.4 475.1h0M356.2 478.6h0M330.2 484.7h0" stroke="#6a0c0c" stroke-width="1.02"/><path d="M369.1 477.8h0M347.7 479.4h0M347.6 481.0h0M364.2 477.0h0M356.8 477.4h0M378.5 475.4h0M356.1 479.4h0M339.5 482.9h0M347.9 481.2h0M333.7 483.1h0M363.0 477.4h0M349.0 480.2h0M340.4 481.8h0M328.9 485.0h0M342.6 482.5h0M358.5 478.5h0M362.3 476.5h0M370.7 475.8h0M375.5 476.5h0M365.5 478.1h0M352.3 479.8h0M380.3 474.8h0M334.1 483.3h0M356.0 477.5h0M340.9 483.0h0M349.4 478.9h0M338.6 482.6h0M338.9 482.3h0M357.7 478.1h0M356.0 479.6h0M329.8 484.9h0M339.1 480.9h0M370.2 476.7h0M357.6 477.5h0M370.9 475.8h0M367.9 476.0h0M359.7 478.4h0M348.7 480.0h0M332.3 484.2h0M365.9 476.0h0" stroke="#3f0606" stroke-width="0.96"/></g><polygon points="383.0,475.2 386.4,474.3 391.2,473.1 396.7,471.4 401.8,469.1 406.1,467.0 409.6,464.9 412.6,462.5 415.2,460.1 417.2,458.1 418.8,456.7 418.5,456.2 416.6,457.2 414.0,458.4 410.9,459.8 407.5,461.3 404.1,463.1 399.9,465.1 394.9,467.4 390.0,470.2 385.8,472.8 382.8,474.7" fill="#300505" filter="url(#b1)"/><polygon points="364.3,398.7 364.0,401.9 364.2,405.0 364.9,407.9 366.2,410.7 367.9,413.4 368.4,413.3 368.6,410.1 368.4,407.0 367.7,404.1 366.4,401.3 364.7,398.6" fill="#220303" filter="url(#b1)"/><circle cx="397.69" cy="376.46" r="3" fill="#300505" filter="url(#b1)"/></g><g clip-path="url(#ca12)"><rect x="509" y="282.1" width="216.2" height="216.4" fill="#1f0002"/><g filter="url(#b3)"><polygon points="487.38,390.3 617.1,433.58 617.1,520.14 487.38,520.14" fill="#180001"/></g><g filter="url(#b2)" fill="none" stroke-linecap="round"><path d="M558.6 292.1h0M540.8 289.7h0M571.2 290.4h0M546.9 289.3h0M547.0 289.3h0M556.2 290.9h0M548.7 290.5h0M551.4 291.6h0M565.4 290.6h0M545.9 288.9h0M550.0 289.8h0M564.4 292.2h0M576.2 290.7h0M538.4 289.0h0M553.0 292.2h0M552.4 290.7h0M539.7 289.6h0M557.1 291.4h0M554.0 291.9h0M569.7 291.3h0M544.0 289.5h0M572.1 291.0h0M563.0 291.7h0M555.0 291.5h0M546.5 290.3h0M571.0 290.4h0M551.3 291.8h0M575.5 290.6h0M561.6 291.9h0M570.2 291.2h0M542.2 289.0h0M565.0 292.1h0M544.9 290.2h0M562.8 292.0h0M537.9 288.6h0" stroke="#5e0a0a" stroke-width="1.02"/><path d="M549.7 291.0h0M550.3 289.8h0M563.3 291.0h0M568.1 290.9h0M558.4 292.4h0M541.4 289.7h0M539.5 289.6h0M537.9 288.8h0M551.5 290.1h0M552.4 291.1h0M553.3 290.2h0M557.5 291.0h0M575.1 290.9h0M554.1 290.5h0M575.1 290.8h0M562.4 292.5h0M552.3 291.8h0M548.0 289.4h0M538.7 288.7h0M571.4 290.6h0M554.2 292.0h0M547.9 289.5h0M557.3 291.4h0M574.0 291.6h0M546.3 290.3h0M553.4 289.9h0M554.3 292.4h0M548.8 290.8h0" stroke="#380606" stroke-width="0.96"/></g><g filter="url(#b2)" fill="none" stroke-linecap="round"><path d="M552.8 300.1h0M559.2 297.0h0M547.2 311.9h0M544.4 320.4h0M545.2 317.1h0M544.2 320.5h0M544.7 313.8h0M544.4 318.1h0M548.2 304.8h0M556.5 299.1h0M545.4 313.0h0M556.5 297.9h0M553.8 299.5h0M560.0 297.2h0M551.7 304.2h0M544.2 317.7h0M553.4 301.7h0M553.5 300.4h0M548.0 305.5h0M547.4 307.3h0M550.1 303.3h0M546.8 312.6h0M545.6 318.5h0M548.1 305.6h0M545.2 317.5h0M549.6 306.0h0M547.0 309.4h0M558.4 297.7h0M561.3 297.1h0M561.6 297.0h0M547.2 313.3h0M550.5 302.4h0M561.6 296.6h0M556.4 299.6h0M545.7 318.8h0M544.9 315.5h0M550.6 302.3h0M549.0 307.2h0M545.4 318.2h0M545.1 317.8h0" stroke="#a01212" stroke-width="1.10"/><path d="M552.5 302.9h0M544.2 319.6h0M560.4 297.0h0M547.4 307.8h0M553.8 302.1h0M551.9 302.0h0M550.3 304.1h0M547.3 315.6h0M560.9 297.4h0M561.4 296.5h0M556.7 298.2h0M554.9 301.2h0M560.3 298.0h0M557.9 297.8h0M555.7 299.8h0M546.2 311.2h0M556.7 300.7h0M557.6 299.4h0M544.4 315.5h0M549.4 303.4h0M545.5 310.2h0M546.2 316.4h0M547.2 314.4h0M548.1 311.3h0M545.8 311.4h0M545.8 308.3h0M547.6 307.5h0M544.9 320.8h0M545.6 308.9h0M560.3 296.7h0M544.5 312.8h0M545.6 318.1h0" stroke="#600606" stroke-width="1.04"/></g><polygon points="554.5,347.0 555.6,343.5 557.0,338.5 558.3,332.8 559.1,327.2 560.0,322.9 560.9,319.6 561.8,316.6 562.8,313.9 563.6,311.7 564.3,310.1 563.9,309.9 562.8,311.2 561.1,313.0 559.2,315.2 557.3,318.2 555.8,321.7 554.8,326.4 553.9,332.1 553.6,338.0 553.8,343.3 554.0,346.9" fill="#4a0808" filter="url(#b1)"/><g filter="url(#b2)" fill="none" stroke-linecap="round"><path d="M572.6 302.3h0M561.7 312.2h0M587.4 294.4h0M588.5 294.6h0M561.0 317.8h0M558.5 321.6h0M581.5 298.2h0M572.1 304.0h0M560.8 316.2h0M562.5 311.7h0M562.0 315.1h0M572.8 303.4h0M574.4 301.5h0M585.9 296.1h0M571.6 302.1h0M585.7 295.1h0M559.3 318.1h0M577.9 301.0h0M575.2 301.3h0M586.5 295.7h0M567.8 305.8h0M578.9 297.9h0M560.1 318.1h0M580.8 296.7h0M577.1 301.3h0M559.2 316.8h0M569.0 304.1h0M587.1 295.8h0M568.6 306.8h0M573.8 300.1h0M587.4 294.1h0M559.2 319.2h0M558.2 321.6h0M568.0 308.1h0M567.8 307.8h0M580.2 298.4h0M561.6 312.6h0M569.1 304.3h0M574.9 300.8h0M564.5 310.1h0M588.4 293.8h0M563.2 308.2h0M558.5 318.1h0M568.0 307.5h0M577.6 301.2h0M582.4 297.3h0M571.5 300.8h0M565.3 307.2h0M573.1 300.0h0M570.9 302.9h0M569.2 304.3h0M560.3 318.5h0M581.0 298.0h0M560.2 317.8h0M584.2 297.7h0M578.4 297.0h0M584.1 296.7h0M564.4 312.3h0M582.4 298.5h0" stroke="#e81a1a" stroke-width="1.27"/><path d="M562.7 312.7h0M565.2 307.3h0M579.5 298.9h0M564.6 309.6h0M585.9 295.5h0M585.4 295.8h0M588.1 293.6h0M568.5 305.7h0M578.9 301.0h0M574.0 301.2h0M574.5 301.2h0M578.0 301.3h0M558.0 321.7h0M583.2 294.9h0M579.5 296.0h0M575.7 301.9h0M561.8 312.7h0M562.8 313.8h0M571.0 304.0h0M564.6 310.0h0M587.2 295.4h0M586.6 294.4h0M569.9 303.6h0M565.9 309.9h0M561.2 315.5h0M580.7 299.9h0M558.0 321.4h0M570.7 306.0h0M562.0 316.4h0M566.5 307.5h0M585.4 294.3h0M563.2 308.6h0M559.6 316.7h0M577.1 299.9h0M561.0 317.9h0M569.0 302.9h0M582.2 298.5h0M563.6 314.6h0M580.7 296.4h0M558.4 322.5h0M581.1 295.7h0M580.1 299.4h0M575.2 302.4h0M588.0 294.1h0M582.9 298.6h0M564.7 310.6h0M577.1 301.3h0" stroke="#8b0606" stroke-width="1.20"/></g><polygon points="623.1,311.5 625.4,312.4 628.8,313.8 632.6,315.2 636.6,315.9 640.0,316.5 643.0,316.9 646.0,316.8 648.7,316.7 651.0,316.5 652.7,316.4 652.7,315.9 651.2,315.4 649.0,314.5 646.5,313.6 643.7,312.6 640.7,312.1 637.4,311.6 633.4,310.9 629.3,310.8 625.7,310.9 623.2,311.0" fill="#4a0808" filter="url(#b1)"/><polygon points="591.1,300.5 592.6,301.3 594.8,302.6 597.4,304.1 600.0,305.5 602.5,306.5 605.0,307.4 607.5,308.5 610.1,309.5 612.6,310.4 615.0,310.8 617.1,311.1 619.0,311.3 620.7,311.4 622.1,311.4 623.1,311.6 623.3,310.9 622.4,310.5 621.2,309.7 619.8,308.8 618.3,307.8 616.6,306.7 614.6,305.4 612.3,304.3 609.7,303.2 607.0,302.1 604.4,301.2 601.6,300.4 598.5,300.1 595.6,300.0 593.0,299.9 591.2,299.8" fill="#4a0808" filter="url(#b1)"/><g filter="url(#b2)" fill="none" stroke-linecap="round"><path d="M609.8 305.2h0M599.3 302.7h0M595.2 302.7h0M619.8 309.3h0M613.2 308.6h0M594.9 302.2h0M616.0 307.9h0M594.5 300.4h0M615.9 308.6h0M617.7 307.9h0M594.8 300.7h0M619.7 308.9h0M593.4 301.5h0M594.0 301.5h0M594.1 300.2h0M611.8 309.0h0M604.5 304.0h0M592.2 300.2h0M598.6 303.7h0M613.5 309.3h0M607.9 306.6h0M595.4 300.9h0M601.0 302.0h0M615.3 307.2h0M602.0 302.3h0M618.6 310.3h0M606.9 304.6h0M620.2 311.6h0M605.6 305.0h0M619.0 308.9h0M600.1 300.8h0M606.9 306.5h0M596.3 301.3h0M622.9 311.1h0M603.0 305.3h0M619.8 309.7h0M595.0 301.8h0M614.1 310.2h0M612.6 306.6h0M608.1 304.6h0M605.6 304.5h0M619.9 311.5h0M620.8 310.4h0M622.2 310.2h0M620.5 310.8h0M619.1 309.6h0M623.1 310.5h0M617.8 310.9h0M602.8 305.2h0M597.8 303.3h0M606.4 304.5h0" stroke="#e81a1a" stroke-width="1.36"/><path d="M597.1 303.5h0M615.3 306.2h0M622.6 310.5h0M603.5 303.4h0M608.9 308.2h0M621.3 311.0h0M603.7 301.7h0M593.4 300.9h0M610.0 306.1h0M622.6 310.9h0M602.7 303.1h0M596.1 303.9h0M610.1 306.7h0M605.4 303.1h0M601.4 303.1h0M604.7 307.1h0M609.9 304.6h0M593.2 299.7h0M601.9 304.9h0M619.9 309.1h0M616.2 308.6h0M608.4 305.9h0M592.8 299.5h0M612.1 308.4h0M602.7 306.0h0M617.7 308.4h0M593.3 300.9h0M612.7 305.9h0M592.6 300.5h0M592.1 301.0h0M611.7 305.8h0M606.1 303.3h0M597.7 300.3h0M617.3 309.1h0M614.3 307.3h0M616.8 309.7h0M612.3 306.8h0M609.9 304.6h0M622.2 311.3h0M608.0 306.4h0M594.6 300.5h0" stroke="#8b0606" stroke-width="1.28"/></g><polygon points="596.2,336.1 599.1,335.5 603.3,334.6 608.0,333.5 612.5,331.8 616.4,330.6 619.9,329.8 623.4,328.7 626.8,327.7 629.7,326.9 631.8,326.3 631.7,325.7 629.6,325.7 626.6,325.4 623.0,325.3 619.0,325.5 615.2,326.3 611.0,327.7 606.4,329.4 602.2,331.8 598.5,334.0 596.0,335.6" fill="#4a0808" filter="url(#b1)"/><polygon points="631.8,326.2 634.7,325.8 638.8,325.2 643.6,324.4 648.5,323.7 653.0,323.0 657.4,322.5 662.1,322.3 666.8,322.2 671.2,321.8 675.0,321.2 678.1,320.5 680.8,319.6 683.0,318.8 684.7,318.0 686.0,317.6 685.9,317.2 684.5,317.5 682.7,317.7 680.4,318.0 677.8,318.3 674.7,318.5 671.0,318.4 666.7,318.3 661.9,318.4 657.1,318.7 652.4,319.2 647.7,320.1 642.9,321.6 638.3,323.3 634.5,324.8 631.7,325.8" fill="#360505" filter="url(#b1)"/><g filter="url(#b2)" fill="none" stroke-linecap="round"><path d="M644.3 323.9h0M632.4 325.8h0M679.1 319.9h0M670.7 319.5h0M644.3 323.4h0M647.9 322.7h0M650.6 322.3h0M662.7 321.3h0M685.1 317.5h0M685.1 317.1h0M679.1 318.0h0M661.2 320.1h0M673.5 319.4h0M643.1 324.0h0M661.5 321.2h0M658.0 319.1h0M673.5 319.1h0M657.0 319.1h0M645.7 323.0h0M673.3 320.4h0M655.7 321.5h0M668.0 319.3h0M660.6 320.8h0M671.2 319.2h0M648.3 321.4h0M636.8 324.3h0M671.3 320.3h0M641.2 324.2h0M638.1 324.9h0M639.4 322.9h0M645.2 322.6h0M646.4 323.5h0M682.6 317.9h0M672.5 320.6h0M662.0 319.6h0M683.4 318.8h0M632.4 325.7h0M648.8 320.8h0M655.0 322.1h0M633.1 326.0h0M648.0 320.4h0M680.5 318.3h0M642.8 321.9h0M651.2 320.1h0M641.2 322.8h0M663.0 320.2h0M648.1 322.0h0M673.8 320.6h0M650.4 322.8h0M674.7 320.0h0M657.3 320.1h0M639.2 325.1h0M664.6 319.0h0M682.2 319.2h0M633.6 325.8h0M644.5 322.8h0M677.0 319.1h0M658.6 321.1h0M642.1 323.7h0M654.7 322.4h0M641.9 324.0h0M633.9 325.1h0M637.8 323.5h0M660.2 319.4h0M674.7 318.6h0M665.5 321.4h0M638.3 323.5h0M673.3 319.9h0M682.2 318.1h0" stroke="#e81a1a" stroke-width="1.19"/><path d="M653.3 322.7h0M650.5 323.2h0M680.0 318.1h0M661.3 322.0h0M638.3 325.3h0M673.8 320.8h0M664.2 318.8h0M683.5 317.3h0M674.4 320.7h0M648.8 322.5h0M653.9 321.9h0M634.3 326.1h0M652.6 322.2h0M657.2 321.8h0M647.9 322.1h0M633.1 325.6h0M636.2 325.7h0M668.4 319.9h0M684.7 318.3h0M683.4 317.3h0M670.0 321.0h0M664.5 318.5h0M681.8 318.4h0M664.0 321.5h0M646.1 320.6h0M681.7 318.0h0M633.8 324.8h0M685.7 317.7h0M642.6 321.8h0M680.6 319.3h0M663.2 319.0h0M654.1 322.6h0M631.9 325.9h0M635.1 326.2h0M637.6 325.7h0M677.5 320.2h0M634.1 325.7h0M658.3 320.5h0M639.5 324.0h0M675.1 318.4h0M679.3 318.9h0M645.8 321.5h0M656.5 321.2h0M662.6 321.8h0M659.3 320.6h0M685.3 317.2h0M632.6 325.6h0M648.3 320.5h0M654.0 319.2h0M681.7 318.5h0M679.6 319.6h0M671.4 321.0h0M648.1 322.8h0M642.8 323.3h0M664.0 321.3h0" stroke="#8b0606" stroke-width="1.12"/></g><polygon points="563.1,374.2 564.5,372.4 566.7,370.1 569.2,367.5 572.0,364.9 574.8,362.9 577.8,361.3 581.3,359.9 584.9,358.7 588.5,357.5 591.8,356.4 594.9,355.5 597.7,354.8 600.4,354.2 603.1,354.0 605.7,354.0 608.6,354.4 611.5,355.2 614.4,356.1 617.2,357.2 619.7,358.3 621.7,359.7 623.6,361.4 625.3,363.3 627.0,365.3 628.5,367.2 629.9,369.0 631.2,370.9 632.4,372.7 633.4,374.2 634.0,375.4 634.5,375.1 633.9,374.0 633.2,372.3 632.3,370.3 631.3,368.1 630.1,366.1 628.9,364.0 627.5,361.7 625.9,359.4 624.0,357.2 621.7,355.2 619.0,353.5 616.0,352.0 612.7,350.9 609.4,350.1 606.1,349.7 602.9,349.6 599.8,349.9 596.8,350.5 593.7,351.3 590.5,352.2 587.1,353.3 583.4,354.6 579.7,356.4 576.2,358.3 573.1,360.5 570.3,363.2 567.8,366.2 565.7,369.3 564.0,372.0 562.6,373.8" fill="#4a0808" filter="url(#b1)"/><g filter="url(#b2)" fill="none" stroke-linecap="round"><path d="M597.4 347.6h0M622.3 354.9h0M627.8 358.2h0M598.9 346.2h0M619.2 352.3h0M616.5 351.0h0M611.7 348.5h0M625.5 357.1h0M617.1 350.5h0M610.6 348.9h0M614.5 347.6h0M608.2 347.1h0M608.4 347.7h0M605.5 346.6h0M608.3 346.9h0M627.7 358.0h0M591.9 350.6h0M606.9 347.0h0M614.9 348.7h0M600.0 345.5h0M623.5 356.4h0M602.4 346.9h0M604.1 345.3h0M624.3 356.7h0M600.3 346.4h0M618.2 351.9h0M610.0 347.3h0M600.5 348.4h0M623.3 356.0h0M595.6 349.1h0M627.5 359.0h0M609.8 346.4h0M593.7 350.1h0M594.1 350.2h0M617.6 350.2h0M624.1 356.9h0M616.3 348.1h0M614.7 348.9h0M601.1 348.8h0M620.7 350.5h0M599.9 346.8h0M614.2 348.3h0M608.5 348.7h0M598.4 348.7h0M604.1 348.6h0M626.9 357.6h0M615.8 348.0h0M607.4 347.8h0M616.8 349.3h0M592.3 349.6h0M613.9 347.6h0M603.3 347.4h0M625.2 356.3h0M601.1 347.5h0M602.1 348.2h0M596.9 347.5h0M608.4 349.0h0" stroke="#e81a1a" stroke-width="1.27"/><path d="M597.1 347.0h0M595.9 347.7h0M604.3 346.5h0M621.2 352.0h0M610.2 347.4h0M620.2 354.1h0M607.8 349.3h0M601.2 349.3h0M612.0 349.1h0M606.4 346.1h0M596.8 349.9h0M605.4 347.9h0M609.5 347.8h0M598.8 346.3h0M604.4 347.8h0M613.6 346.4h0M619.4 351.0h0M593.6 349.0h0M599.8 349.0h0M613.4 347.9h0M600.7 346.3h0M602.1 346.4h0M621.1 354.2h0M617.9 352.4h0M617.8 348.6h0M592.6 349.3h0M601.3 347.3h0M622.6 354.3h0M608.5 346.3h0M627.3 358.9h0M604.8 345.0h0M627.8 358.5h0M624.7 353.7h0M617.4 349.5h0M625.3 355.5h0M594.7 348.2h0M621.0 355.2h0M616.4 350.7h0M602.1 346.1h0M595.0 350.6h0M592.9 350.2h0M605.1 345.6h0M608.2 349.4h0M600.6 345.8h0M615.9 350.4h0" stroke="#8b0606" stroke-width="1.20"/></g><g filter="url(#b2)" fill="none" stroke-linecap="round"><path d="M575.9 350.9h0M584.9 342.0h0M567.8 359.3h0M576.7 351.5h0M578.2 351.0h0M586.0 342.1h0M565.4 363.5h0M564.4 363.6h0M567.8 360.8h0M582.5 344.1h0M572.1 357.7h0M580.2 346.3h0M581.6 347.9h0M573.4 353.3h0M579.9 347.5h0M566.8 360.3h0M573.2 353.4h0M573.7 354.8h0M577.5 350.3h0M582.9 343.5h0M573.2 357.0h0M586.1 343.6h0M583.0 345.4h0M583.6 344.9h0M566.6 360.8h0M567.1 362.3h0M571.8 356.0h0M576.4 350.0h0M582.1 347.4h0M584.5 345.4h0M571.1 355.6h0M583.3 345.8h0M572.9 354.7h0M568.5 361.0h0M576.1 353.5h0M572.0 355.4h0M577.3 352.1h0M585.6 342.2h0M580.9 346.9h0M585.8 343.4h0M577.4 350.2h0M571.7 358.3h0M583.4 344.0h0M565.7 361.6h0" stroke="#e81a1a" stroke-width="1.27"/><path d="M587.3 339.9h0M584.1 344.3h0M577.8 350.6h0M574.3 354.2h0M567.0 362.7h0M565.9 360.9h0M581.0 348.0h0M584.4 344.8h0M586.3 340.6h0M564.1 363.7h0M582.3 344.1h0M577.9 351.8h0M568.0 360.4h0M586.7 342.4h0M573.8 354.3h0M572.1 358.5h0M583.8 345.4h0M572.2 357.3h0M576.8 353.0h0M574.0 356.2h0M580.8 347.2h0M578.7 351.1h0M578.3 352.3h0M564.6 364.3h0M581.6 346.5h0M584.2 342.4h0M572.9 356.4h0M584.0 343.6h0M588.7 339.8h0M564.7 362.6h0M566.1 362.4h0M571.4 355.6h0M574.0 352.0h0M587.0 342.4h0M577.7 350.3h0" stroke="#8b0606" stroke-width="1.20"/></g><g filter="url(#b2)" fill="none" stroke-linecap="round"><path d="M607.6 343.8h0M608.7 345.3h0M631.3 351.6h0M627.1 348.3h0M600.8 341.5h0M600.9 341.7h0M632.4 352.0h0M631.6 350.9h0M604.8 341.3h0M606.7 341.9h0M616.0 345.1h0M621.1 347.7h0M618.6 345.9h0M623.2 348.8h0M622.7 347.9h0M613.6 344.4h0M597.6 341.1h0M619.4 345.8h0M627.6 350.9h0M627.4 350.7h0M614.6 344.3h0M606.1 343.9h0M632.6 351.3h0M596.3 340.7h0M609.1 344.2h0M600.1 342.6h0M608.5 345.1h0M608.6 343.1h0M602.4 343.7h0M617.8 347.4h0M598.4 341.4h0M622.8 349.7h0M631.0 350.3h0M609.7 345.7h0M615.7 347.2h0M605.9 341.6h0M631.2 350.8h0M617.2 345.7h0M617.2 347.6h0M630.9 351.7h0M605.5 344.0h0M596.8 340.9h0M631.1 350.7h0M609.8 344.3h0M604.8 343.5h0M620.8 346.0h0M630.4 350.0h0M622.2 347.3h0" stroke="#a01212" stroke-width="1.10"/><path d="M601.8 340.8h0M632.8 352.1h0M613.0 346.0h0M631.7 352.0h0M616.3 345.0h0M615.0 347.3h0M623.0 348.8h0M627.4 349.4h0M616.6 347.3h0M603.2 343.8h0M597.0 341.0h0M618.0 345.0h0M630.2 350.7h0M603.1 342.1h0M618.3 346.2h0M596.3 340.4h0M623.1 346.7h0M605.4 344.2h0M627.6 351.1h0M603.0 340.7h0M624.0 348.9h0M610.2 342.3h0M612.5 343.8h0M617.5 348.1h0M604.3 341.1h0M622.4 346.4h0M604.5 342.5h0M632.6 351.5h0M608.0 343.5h0M602.2 341.9h0M622.4 347.2h0M626.0 348.0h0M599.8 342.0h0M612.6 346.4h0M599.9 342.3h0M621.2 347.0h0M600.8 342.2h0M624.3 348.5h0M613.6 345.8h0" stroke="#600606" stroke-width="1.04"/></g><g filter="url(#b2)" fill="none" stroke-linecap="round"><path d="M657.2 343.8h0M642.1 344.4h0M655.1 345.0h0M671.0 345.1h0M647.1 343.3h0M657.9 344.7h0M644.3 344.8h0M671.1 345.0h0M669.0 344.8h0M658.7 345.1h0M642.7 344.0h0M670.6 344.7h0M646.4 344.1h0M662.0 344.7h0M668.6 345.1h0M635.5 344.7h0M636.8 344.9h0M636.4 345.0h0M658.1 343.2h0M666.0 344.4h0M669.7 344.8h0M657.6 344.1h0M644.9 345.0h0M635.6 344.9h0M647.0 345.1h0M653.4 342.6h0M646.1 344.4h0M664.4 343.5h0M663.3 344.1h0M654.2 343.7h0M651.1 345.2h0M668.2 345.6h0M661.7 344.8h0M640.4 343.5h0M665.1 345.0h0M658.0 343.5h0M645.1 345.4h0M654.5 342.6h0M647.6 343.6h0M637.9 345.6h0M667.6 345.4h0M635.6 345.0h0" stroke="#a01212" stroke-width="1.10"/><path d="M639.5 345.2h0M664.3 345.4h0M663.8 343.2h0M635.9 344.6h0M665.5 345.5h0M653.9 343.0h0M666.1 343.6h0M646.9 342.5h0M670.5 344.9h0M662.9 345.4h0M656.2 345.5h0M663.0 345.8h0M669.9 344.4h0M662.3 343.5h0M647.0 343.6h0M670.8 344.6h0M650.9 342.7h0M671.1 345.1h0M660.5 344.3h0M662.9 343.9h0M650.2 344.7h0M660.5 345.4h0M646.6 345.2h0M661.8 344.5h0M650.0 344.1h0M638.1 344.0h0M646.5 342.9h0M637.2 345.3h0M661.5 344.6h0M642.9 345.1h0M664.9 344.9h0M643.6 344.5h0M649.5 343.2h0" stroke="#600606" stroke-width="1.04"/></g><polygon points="634.3,357.0 636.8,357.1 640.4,357.4 644.7,357.5 649.0,357.2 653.1,356.5 657.2,355.5 661.5,354.2 665.5,352.4 668.8,350.8 671.2,349.6 671.1,349.1 668.5,349.4 664.7,349.8 660.4,350.4 656.2,351.3 652.3,352.2 648.4,352.8 644.2,353.7 640.1,354.8 636.7,355.8 634.2,356.5" fill="#360505" filter="url(#b1)"/><g filter="url(#b2)" fill="none" stroke-linecap="round"><path d="M585.1 377.2h0M605.6 374.0h0M586.1 375.8h0M600.0 373.6h0M591.7 376.3h0M599.5 376.0h0M603.2 374.1h0M603.6 374.4h0M594.2 374.7h0M618.8 367.2h0M584.2 375.6h0M588.3 376.7h0M584.4 375.4h0M599.3 373.7h0M589.8 376.0h0M587.5 375.1h0M589.8 375.7h0M592.6 375.9h0M594.1 375.5h0M579.7 376.7h0M609.3 371.2h0M579.0 376.3h0M615.6 368.3h0M587.6 377.2h0M615.0 367.9h0M600.0 374.9h0M583.8 376.1h0M604.8 373.6h0M605.2 373.3h0M594.7 374.8h0M579.5 376.7h0M614.6 369.8h0M582.1 376.8h0M586.1 376.0h0M587.4 377.3h0M612.8 370.5h0M595.2 376.9h0M589.9 376.5h0" stroke="#5e0a0a" stroke-width="1.02"/><path d="M606.5 371.6h0M594.8 374.7h0M611.2 369.4h0M584.6 375.9h0M605.7 373.2h0M601.2 375.5h0M609.6 370.2h0M601.0 373.4h0M589.1 375.3h0M582.1 376.1h0M615.2 368.9h0M582.6 375.9h0M603.6 373.7h0M580.0 376.0h0M602.7 374.3h0M582.3 376.9h0M589.0 376.6h0M601.0 374.0h0M617.3 367.4h0M596.8 375.7h0M613.8 370.6h0M610.6 370.8h0M608.7 372.0h0M618.1 367.9h0M609.9 370.1h0M602.6 373.8h0M588.7 377.2h0M588.2 377.0h0M599.4 374.7h0M608.4 372.4h0M619.2 367.2h0" stroke="#380606" stroke-width="0.96"/></g><g filter="url(#b2)" fill="none" stroke-linecap="round"><path d="M595.8 382.4h0M591.1 384.8h0M601.2 380.9h0M579.1 387.4h0M583.7 387.7h0M577.4 387.7h0M583.9 386.4h0M572.0 387.9h0M578.9 388.8h0M585.8 386.6h0M570.7 386.6h0M587.5 387.6h0M576.3 388.3h0M577.8 389.4h0M584.8 388.1h0M565.6 386.1h0M573.4 387.9h0M580.9 388.1h0M602.2 380.6h0M588.1 387.4h0M590.2 385.5h0M596.9 382.2h0M566.6 387.2h0M586.2 387.0h0M567.8 387.3h0M580.0 389.0h0M576.3 389.9h0M579.6 388.0h0M599.3 381.2h0M575.9 388.7h0M602.6 380.1h0M573.3 389.1h0M568.3 386.9h0M595.6 383.8h0M595.4 382.1h0M599.3 381.5h0M596.5 382.7h0M599.4 381.7h0M575.5 387.7h0M584.3 386.2h0M571.4 388.8h0M587.9 387.2h0M571.2 387.8h0M583.3 386.7h0M575.4 389.8h0M593.1 384.1h0M589.3 386.6h0" stroke="#a01212" stroke-width="1.10"/><path d="M601.8 381.0h0M567.1 387.4h0M571.9 387.2h0M570.6 387.7h0M587.8 386.0h0M583.3 386.6h0M593.0 384.2h0M577.3 389.8h0M601.5 381.7h0M602.8 380.0h0M580.5 388.3h0M575.2 389.4h0M599.6 380.8h0M585.6 388.6h0M599.3 381.6h0M569.4 387.3h0M585.8 387.9h0M572.7 387.5h0M602.7 379.9h0M588.5 384.5h0M594.1 383.4h0M600.5 380.7h0M598.6 381.3h0M567.3 386.1h0M568.3 386.9h0M602.4 380.4h0M592.3 382.7h0M585.4 387.2h0M569.0 387.5h0M582.6 387.4h0M597.3 383.1h0M570.2 386.6h0M567.4 386.4h0M590.5 386.7h0M602.5 381.0h0M569.9 388.3h0M594.5 383.4h0" stroke="#600606" stroke-width="1.04"/></g><polygon points="543.9,361.7 543.5,363.8 542.7,366.7 542.0,370.2 541.5,373.9 541.8,377.3 542.7,380.4 543.8,383.1 545.0,385.7 546.0,388.0 547.1,390.1 548.6,392.2 550.1,394.5 551.6,396.7 553.0,398.6 553.8,400.0 554.7,399.7 554.5,398.1 554.6,395.8 554.5,393.1 554.3,390.3 553.9,387.5 553.1,384.9 552.0,382.4 550.9,380.1 550.1,377.8 549.4,375.6 548.7,373.0 547.6,369.8 546.5,366.6 545.5,363.7 544.8,361.7" fill="#360505" filter="url(#b1)"/><g filter="url(#b2)" fill="none" stroke-linecap="round"><path d="M554.0 399.7h0M546.0 366.3h0M544.1 366.9h0M547.2 386.7h0M545.3 362.1h0M554.4 398.6h0M542.7 372.4h0M543.2 366.2h0M552.7 396.0h0M551.8 383.9h0M548.3 385.4h0M551.3 391.2h0M545.9 366.2h0M552.2 385.8h0M545.7 365.9h0M551.4 392.2h0M542.6 376.3h0M550.0 383.5h0M546.3 384.6h0M546.0 376.2h0M545.7 385.3h0M551.3 385.4h0M549.6 383.8h0M545.6 380.8h0M544.4 362.5h0M544.6 374.3h0M552.2 393.0h0M550.6 385.4h0M544.9 371.9h0M549.3 381.7h0M551.3 391.0h0M547.0 375.5h0M550.1 394.4h0M554.3 397.2h0M544.0 364.5h0M543.7 362.7h0M551.1 387.4h0M545.3 379.4h0M545.4 368.0h0M550.5 392.1h0M550.9 383.3h0M546.3 370.2h0M544.1 363.0h0M546.0 385.0h0M545.7 384.3h0M546.7 380.1h0M545.3 372.8h0M553.5 397.4h0M544.7 361.8h0M544.0 369.6h0M547.5 381.5h0M552.4 397.4h0M546.5 365.1h0M549.9 388.8h0M549.7 386.8h0M544.6 363.1h0M551.7 393.8h0M545.6 363.4h0M552.9 396.3h0M543.5 368.3h0M552.0 397.4h0M547.8 387.3h0M544.7 365.2h0M552.8 392.4h0" stroke="#a01212" stroke-width="1.10"/><path d="M542.4 367.5h0M553.9 387.3h0M544.3 364.2h0M553.3 398.2h0M554.9 394.4h0M550.6 383.0h0M547.9 374.4h0M549.8 378.7h0M548.8 387.3h0M551.8 396.7h0M542.9 364.8h0M545.0 384.1h0M550.0 379.8h0M552.7 387.8h0M554.0 399.3h0M553.1 396.1h0M544.1 374.8h0M550.9 388.8h0M545.6 372.6h0M552.5 388.4h0M544.8 368.0h0M552.8 385.8h0M541.6 372.8h0M543.0 372.5h0M548.2 373.3h0M544.5 381.7h0M554.6 390.4h0M549.7 389.0h0M545.8 381.0h0M549.7 381.1h0M552.9 387.3h0M542.6 374.4h0M548.3 383.8h0M550.6 388.9h0M545.4 377.0h0M544.8 362.6h0M542.8 363.3h0M552.4 396.6h0M542.4 368.1h0M542.8 373.1h0M549.0 387.0h0M552.6 389.5h0M551.9 393.7h0M548.8 391.5h0M545.6 371.7h0M548.6 375.5h0M551.7 395.5h0M546.8 381.0h0M555.1 394.5h0M544.2 376.1h0M547.8 382.5h0" stroke="#600606" stroke-width="1.04"/></g><g filter="url(#b2)" fill="none" stroke-linecap="round"><path d="M554.3 368.3h0M558.3 384.3h0M560.0 395.2h0M561.6 396.1h0M557.1 378.0h0M555.7 372.1h0M553.6 378.7h0M559.5 387.9h0M551.5 369.4h0M551.3 360.2h0M561.5 391.3h0M560.8 395.5h0M554.5 373.6h0M556.7 382.2h0M558.9 392.6h0M555.7 370.8h0M558.6 388.9h0M559.1 383.4h0M551.2 361.2h0M554.1 372.6h0M561.8 396.2h0M558.9 382.6h0M555.2 380.7h0M551.6 364.5h0M560.8 396.3h0M557.5 389.7h0M558.1 386.4h0M558.5 390.8h0M556.4 383.2h0M553.3 365.1h0M552.2 371.4h0M560.0 388.6h0M562.1 397.0h0M552.5 360.4h0M551.0 361.3h0M554.4 372.4h0M559.9 391.7h0M557.4 382.9h0M553.1 377.0h0M553.2 369.2h0M556.5 376.7h0M552.5 363.9h0M559.6 389.4h0M551.1 360.5h0M551.2 363.7h0M551.7 359.9h0M553.4 363.8h0M553.5 375.2h0M555.0 375.4h0M554.2 374.2h0M551.5 369.6h0M554.3 365.5h0M556.6 379.7h0M560.2 385.9h0M558.3 384.6h0M561.3 394.4h0M555.4 375.2h0M556.7 379.0h0M558.0 384.4h0" stroke="#a01212" stroke-width="1.10"/><path d="M559.2 385.6h0M554.6 376.4h0M557.6 386.6h0M556.5 374.7h0M553.7 362.4h0M554.2 365.2h0M558.3 384.0h0M561.5 393.5h0M554.7 367.7h0M551.8 363.9h0M557.6 380.6h0M558.7 390.2h0M554.1 375.4h0M557.8 383.9h0M552.7 361.6h0M561.3 395.2h0M559.1 382.7h0M557.4 389.1h0M554.6 372.9h0M556.7 378.1h0M554.7 366.2h0M557.9 385.2h0M560.1 395.9h0M558.6 392.9h0M561.9 390.5h0M550.6 363.5h0M559.8 392.6h0M557.3 382.5h0M556.2 374.6h0M557.1 379.5h0M551.0 363.1h0M554.6 381.5h0M553.0 369.9h0M551.7 369.4h0M552.2 366.5h0M556.9 379.9h0M552.2 361.2h0M554.2 379.4h0M554.4 366.0h0M552.0 370.6h0M552.4 367.5h0M552.8 359.2h0M558.2 386.0h0M552.5 362.5h0M561.3 395.0h0M556.5 380.1h0M557.6 377.5h0" stroke="#600606" stroke-width="1.04"/></g><polygon points="509.7,373.5 511.8,373.7 514.7,374.0 518.0,374.4 521.2,375.0 524.0,375.8 526.5,377.1 529.4,378.8 532.3,380.4 535.0,381.8 536.9,382.8 537.1,382.4 535.7,380.9 533.8,378.6 531.4,376.0 528.5,373.8 525.4,372.2 522.1,371.2 518.5,370.5 515.1,370.1 512.2,369.8 510.1,369.6" fill="#360505" filter="url(#b1)"/><g filter="url(#b2)" fill="none" stroke-linecap="round"><path d="M534.1 380.6h0M520.4 372.2h0M515.4 373.4h0M533.5 379.4h0M527.4 375.6h0M516.1 370.7h0M531.4 376.9h0M527.1 373.6h0M510.6 371.3h0M528.5 376.6h0M536.7 382.6h0M526.0 373.0h0M536.0 381.8h0M534.4 379.0h0M533.2 379.5h0M516.4 371.9h0M512.2 371.9h0M516.4 372.9h0M515.1 372.6h0M527.5 376.2h0M536.0 381.4h0M529.6 376.5h0M534.0 381.2h0M531.2 378.5h0M517.6 373.7h0M535.9 382.5h0M519.8 373.8h0M528.8 377.6h0M532.4 378.8h0M521.4 374.0h0" stroke="#5e0a0a" stroke-width="0.94"/><path d="M528.7 376.4h0M534.9 379.2h0M510.3 371.5h0M512.7 372.7h0M512.5 372.8h0M516.8 370.9h0M530.8 378.6h0M522.0 373.6h0M525.4 376.2h0M524.8 374.2h0M523.7 373.4h0M530.4 375.7h0M528.8 378.3h0M531.3 378.3h0M520.7 371.4h0M512.7 371.9h0M533.5 381.2h0M515.3 373.0h0M532.5 379.0h0M534.3 379.2h0M519.9 372.8h0M530.7 377.4h0M518.7 373.9h0M521.7 372.8h0" stroke="#380606" stroke-width="0.88"/></g><polygon points="595.8,310.0 594.9,312.0 593.6,314.9 592.6,318.2 592.0,321.6 591.5,324.3 591.2,326.5 591.1,328.7 591.0,330.6 591.0,332.2 590.9,333.3 591.4,333.5 592.0,332.5 592.9,331.2 593.9,329.5 595.0,327.5 595.8,325.2 596.3,322.4 596.9,319.0 596.9,315.4 596.6,312.2 596.3,310.0" fill="#360505" filter="url(#b1)"/><polygon points="539.5,426.0 542.4,426.4 546.5,426.9 551.2,427.5 556.0,427.7 560.2,427.9 564.2,428.4 568.5,428.9 572.6,429.2 576.2,429.5 578.8,429.6 578.9,429.1 576.5,428.2 573.2,426.8 569.2,425.2 564.9,424.1 560.6,423.5 556.1,423.3 551.2,423.4 546.4,424.1 542.3,424.9 539.5,425.4" fill="#4a0808" filter="url(#b1)"/><polygon points="579.9,430.9 581.7,432.1 584.1,434.0 586.9,436.1 589.7,438.3 592.2,440.0 594.6,441.8 596.9,443.7 599.1,445.7 601.2,447.6 603.1,449.1 604.8,450.7 606.3,452.4 607.5,454.1 608.7,455.5 609.4,456.6 609.9,456.3 609.4,455.1 609.0,453.3 608.4,451.2 607.5,448.9 606.2,446.5 604.6,444.2 602.5,442.1 600.1,440.0 597.6,437.9 595.0,436.0 592.0,434.2 588.6,432.9 585.2,431.8 582.2,431.0 580.2,430.4" fill="#4a0808" filter="url(#b1)"/><g filter="url(#b2)" fill="none" stroke-linecap="round"><path d="M588.1 434.7h0M603.8 446.1h0M602.2 445.2h0M580.3 431.3h0M590.3 436.1h0M609.4 454.8h0M582.7 431.2h0M585.0 434.5h0M599.0 439.9h0M589.8 435.7h0M586.7 433.2h0M608.1 452.9h0M588.2 435.2h0M584.1 432.7h0M602.9 443.6h0M599.3 441.5h0M604.1 447.9h0M607.8 453.3h0M587.2 432.9h0M602.5 447.2h0M582.4 431.6h0M590.2 435.8h0M607.2 451.9h0M603.7 448.3h0M589.8 436.2h0M593.4 437.7h0M597.9 442.1h0M585.6 434.8h0M586.2 433.0h0M605.5 451.9h0M592.1 439.2h0M581.1 432.0h0M588.1 432.6h0M606.0 447.3h0M606.1 446.5h0M584.7 432.5h0M583.1 432.1h0M591.8 438.0h0M595.9 442.1h0M607.8 450.3h0M607.3 453.9h0M599.3 442.6h0M586.5 433.1h0M588.5 433.6h0M601.3 443.3h0M604.8 448.5h0M607.8 449.5h0M606.8 451.0h0M602.0 443.6h0M603.4 445.9h0M603.6 447.2h0M585.4 432.6h0M606.1 446.5h0M601.2 444.5h0M604.2 446.3h0M596.7 440.2h0M605.8 446.6h0" stroke="#e81a1a" stroke-width="1.27"/><path d="M598.4 440.2h0M600.8 442.4h0M588.0 433.3h0M608.2 452.4h0M606.7 452.5h0M589.6 435.8h0M580.1 431.3h0M602.6 443.0h0M597.9 441.3h0M603.1 444.7h0M607.7 453.4h0M582.3 432.7h0M608.2 452.0h0M602.3 447.8h0M608.9 451.5h0M607.6 450.1h0M605.2 450.0h0M595.1 441.4h0M604.1 450.9h0M608.7 455.0h0M603.6 447.9h0M594.2 438.4h0M598.4 440.0h0M588.6 436.9h0M606.1 451.3h0M602.9 446.0h0M599.1 443.3h0M580.4 430.7h0M609.6 455.1h0M597.6 438.5h0M588.5 436.7h0M581.0 431.7h0M604.4 450.3h0M588.3 437.1h0M593.3 437.5h0M608.7 454.7h0M604.0 444.4h0M580.4 430.4h0M583.4 433.5h0M588.0 437.1h0M603.7 444.6h0M604.2 446.0h0M599.4 440.0h0M605.5 451.1h0M599.2 443.6h0" stroke="#8b0606" stroke-width="1.20"/></g><polygon points="609.4,456.6 610.0,457.9 610.8,459.7 611.7,461.8 613.1,463.5 614.4,465.0 615.5,466.4 616.9,467.6 618.4,468.7 619.6,469.5 620.5,470.1 620.9,469.9 620.4,468.9 619.9,467.4 619.2,465.8 618.3,464.1 617.2,462.7 615.9,461.2 614.5,459.5 612.6,458.2 610.9,457.1 609.8,456.3" fill="#360505" filter="url(#b1)"/><g filter="url(#b2)" fill="none" stroke-linecap="round"><path d="M631.9 480.3h0M630.2 480.5h0M633.6 485.8h0M630.2 478.2h0M628.5 472.7h0M632.8 483.0h0M634.8 494.2h0M632.8 490.8h0M630.6 480.1h0M634.1 496.9h0M630.1 482.2h0M629.1 479.1h0M630.9 479.9h0M630.4 480.2h0M633.6 494.1h0M628.4 477.3h0M633.5 490.0h0M634.9 493.2h0M632.2 487.1h0M633.3 491.5h0M628.6 474.0h0M630.1 479.0h0M631.5 482.0h0M632.3 485.5h0" stroke="#5e0a0a" stroke-width="1.02"/><path d="M634.5 494.3h0M631.4 478.7h0M628.2 475.5h0M634.8 495.0h0M629.9 481.5h0M632.7 493.7h0M634.4 496.9h0M629.1 473.9h0M633.7 484.2h0M630.3 478.5h0M634.4 488.8h0M629.5 475.3h0M629.6 474.4h0M628.3 475.2h0M635.1 493.9h0M632.7 492.2h0M633.8 488.1h0M635.1 492.4h0M627.8 473.8h0" stroke="#380606" stroke-width="0.96"/></g><polygon points="697.1,389.0 699.8,388.6 703.6,388.0 707.9,387.0 711.9,385.3 715.4,383.5 718.4,381.6 721.2,379.5 723.6,377.5 725.5,375.8 726.9,374.6 723.7,370.9 722.3,372.1 720.4,373.8 718.1,375.7 715.6,377.6 713.0,379.2 709.9,380.8 706.0,382.5 702.3,384.8 699.1,387.0 696.9,388.5" fill="#4a0808" filter="url(#b1)"/><polygon points="660.3,416.0 661.4,414.3 663.1,412.1 665.0,409.5 667.1,407.0 669.1,405.0 671.1,403.3 673.2,401.6 675.5,400.0 678.1,398.5 680.8,397.0 684.0,395.5 687.7,393.6 691.5,391.8 694.8,390.1 697.1,389.0 696.9,388.5 694.4,389.0 690.7,389.5 686.6,390.3 682.3,391.4 678.8,392.8 675.8,394.4 673.0,396.1 670.4,397.8 668.0,399.8 665.8,402.1 664.0,404.9 662.6,408.1 661.4,411.2 660.6,413.9 659.8,415.7" fill="#360505" filter="url(#b1)"/><g filter="url(#b2)" fill="none" stroke-linecap="round"><path d="M666.5 407.4h0M685.3 390.9h0M662.5 412.0h0M663.8 409.9h0M681.8 392.9h0M673.3 397.3h0M691.3 391.0h0M683.2 393.9h0M662.1 413.6h0M687.0 392.1h0M678.6 395.5h0M685.9 392.6h0M666.8 404.5h0M663.4 405.9h0M676.5 398.3h0M683.9 392.0h0M675.4 397.7h0M678.1 395.6h0M675.6 398.0h0M691.6 390.6h0M687.4 392.6h0M662.1 410.4h0M667.5 402.7h0M674.1 397.2h0M697.0 389.1h0M670.4 401.8h0M693.3 389.1h0M681.0 396.3h0M670.9 402.2h0M687.9 391.0h0M664.1 410.2h0M671.2 399.5h0M673.9 399.3h0M692.5 391.4h0M686.0 391.1h0M668.7 399.9h0M664.1 407.1h0M664.0 408.3h0M663.4 410.5h0M670.8 399.3h0M682.5 393.0h0M661.0 415.0h0M686.3 393.8h0M666.5 403.3h0M682.8 392.2h0M695.6 389.5h0M676.0 395.0h0M666.7 404.0h0M696.0 388.7h0M678.0 394.1h0M695.8 389.5h0M688.8 392.4h0M663.3 407.8h0M661.0 414.2h0M661.2 412.1h0M665.2 409.3h0M687.2 391.1h0M695.5 388.7h0M662.9 409.7h0M687.7 390.2h0M687.5 392.1h0M687.6 391.2h0M660.4 413.8h0M684.5 393.0h0M685.9 391.2h0" stroke="#e81a1a" stroke-width="1.27"/><path d="M665.8 403.6h0M690.5 391.7h0M664.3 409.7h0M660.9 414.2h0M667.1 405.9h0M684.5 393.8h0M662.9 406.5h0M681.1 395.3h0M660.7 415.7h0M692.2 389.9h0M676.0 397.7h0M693.7 390.3h0M676.1 398.3h0M673.4 396.1h0M676.6 396.2h0M668.3 402.1h0M664.5 406.1h0M686.1 394.2h0M674.0 400.0h0M662.9 410.6h0M685.8 393.8h0M669.6 399.6h0M695.3 389.6h0M681.1 393.6h0M662.8 411.2h0M672.2 401.6h0M682.2 395.1h0M678.3 397.0h0M664.6 411.0h0M678.4 396.1h0M662.9 406.9h0M684.0 394.2h0M681.5 393.0h0M675.0 399.0h0M681.5 396.1h0M662.8 412.4h0M660.5 415.4h0M675.3 395.2h0M672.1 400.4h0M690.5 389.3h0M676.0 398.5h0M663.8 411.5h0M694.1 389.3h0M663.5 406.3h0M664.8 406.5h0M684.4 395.1h0M678.2 398.0h0M672.4 400.2h0M660.0 415.8h0M660.1 414.6h0M687.8 390.0h0M667.5 403.7h0" stroke="#8b0606" stroke-width="1.20"/></g><g filter="url(#b2)" fill="none" stroke-linecap="round"><path d="M720.5 392.3h0M716.9 387.8h0M719.7 390.9h0M719.4 392.1h0M722.0 398.5h0M718.6 388.1h0M718.2 393.6h0M721.5 395.5h0M719.7 392.8h0M721.3 398.4h0M720.3 393.5h0M718.8 391.7h0M718.4 391.0h0M717.3 387.4h0M721.6 398.4h0" stroke="#a01212" stroke-width="1.10"/><path d="M718.4 392.8h0M720.0 396.6h0M717.9 391.3h0M717.3 388.9h0M717.0 386.4h0M718.0 388.3h0M721.7 394.8h0M722.0 396.7h0M720.7 398.3h0M718.7 394.3h0M721.4 397.9h0M722.1 396.4h0" stroke="#600606" stroke-width="1.04"/></g><polygon points="699.5,284.1 701.0,285.6 702.5,287.1 703.9,288.5 705.8,289.7 707.9,290.5 708.2,290.2 707.4,288.0 706.3,286.2 704.8,284.7 703.4,283.2 701.9,281.7" fill="#360505" filter="url(#b1)"/></g><g clip-path="url(#ca13)"><rect x="732" y="282.1" width="216.2" height="216.4" fill="#190001"/><g filter="url(#b3)"><polygon points="710.38,260.46 753.62,260.46 744.97,520.14 710.38,520.14" fill="#0a0000"/><polygon points="850.91,260.46 991.44,260.46 991.44,541.78 861.72,541.78" fill="#210002"/></g><polygon points="780.8,323.7 783.7,325.7 787.8,328.5 792.5,331.7 797.0,335.1 800.7,338.3 803.7,341.3 806.3,344.2 808.6,347.4 810.7,350.9 812.6,354.9 814.5,360.2 816.6,366.5 818.5,373.0 820.2,378.7 821.3,382.7 821.7,382.6 821.0,378.5 820.2,372.6 819.1,365.9 817.6,359.2 815.7,353.7 813.6,349.3 811.4,345.5 808.9,342.1 806.2,339.0 803.0,335.8 798.7,332.7 793.7,329.8 788.6,327.1 784.1,325.0 781.0,323.4" fill="#2a0404" filter="url(#b1)"/><g filter="url(#b2)" fill="none" stroke-linecap="round"><path d="M817.5 366.6h0M818.7 365.9h0M786.3 326.8h0M813.5 354.1h0M792.5 330.6h0M821.3 380.3h0M817.4 369.6h0M815.8 358.5h0M806.5 341.8h0M789.5 327.5h0M799.4 334.0h0M820.1 375.1h0M819.4 373.5h0M819.1 375.3h0M816.6 361.3h0M796.6 333.3h0M800.2 336.9h0M783.6 325.3h0M802.5 337.4h0M810.7 350.2h0M821.5 382.1h0M820.3 379.6h0M811.0 348.6h0M793.3 331.8h0M809.0 346.3h0M820.0 376.9h0M816.1 360.2h0M789.5 328.5h0M785.2 325.5h0M821.3 381.2h0M789.8 328.6h0M784.7 326.0h0M796.1 331.8h0M813.7 356.4h0M781.7 324.2h0M813.2 352.2h0M807.6 341.2h0M803.0 338.3h0M801.2 338.3h0M801.7 338.3h0M817.6 368.8h0M809.9 346.3h0M819.8 370.9h0M796.2 331.2h0M810.0 346.2h0M820.3 379.5h0M805.9 341.2h0M787.5 328.0h0M811.7 347.6h0M820.5 373.3h0M793.5 330.9h0M821.8 382.3h0M797.6 334.7h0M801.4 338.2h0M782.3 324.1h0M800.1 336.9h0M787.4 327.7h0M818.7 374.5h0M819.5 368.0h0M810.1 345.3h0M789.2 327.7h0M816.8 363.2h0M789.7 328.1h0M784.9 326.7h0M817.4 364.5h0M820.3 379.9h0M794.7 331.0h0M793.2 331.2h0M813.5 353.1h0M817.7 366.0h0M800.6 336.7h0" stroke="#5a0a0a" stroke-width="0.94"/><path d="M821.4 378.7h0M810.5 345.2h0M817.4 363.9h0M818.4 370.8h0M820.7 379.6h0M812.2 353.8h0M818.8 368.0h0M787.2 328.3h0M784.7 326.7h0M820.1 377.8h0M820.5 378.9h0M816.9 364.0h0M796.1 331.1h0M817.3 363.7h0M789.0 328.4h0M798.5 333.4h0M819.2 373.5h0M816.3 364.3h0M807.5 342.8h0M807.5 342.3h0M816.6 366.6h0M799.5 336.1h0M795.7 330.6h0M815.1 359.8h0M800.8 338.3h0M817.2 361.8h0M816.4 365.2h0M789.5 329.9h0M807.8 342.3h0M804.3 339.7h0M811.8 348.2h0M784.7 326.1h0M816.0 362.0h0M804.5 341.4h0M782.2 323.9h0M782.1 324.3h0M811.8 347.8h0M812.5 347.6h0M782.9 325.5h0M820.7 374.0h0M815.2 357.4h0M810.7 349.8h0M813.5 356.8h0M814.6 359.7h0M788.1 328.7h0M800.4 337.6h0M816.6 367.6h0M817.7 364.5h0M810.3 348.8h0M784.7 325.8h0M812.1 351.6h0M802.3 338.0h0M817.4 363.1h0M814.7 359.7h0M803.9 339.2h0M808.6 346.4h0M798.7 333.7h0" stroke="#360606" stroke-width="0.88"/></g><polygon points="750.2,387.8 753.1,387.8 757.2,387.8 761.9,388.0 766.6,388.4 770.7,389.1 774.3,390.5 777.8,392.1 781.4,393.9 785.0,395.9 788.7,397.9 792.5,399.7 796.3,401.6 800.1,403.5 803.7,405.3 807.1,407.2 810.4,409.6 813.7,412.5 816.8,415.4 819.5,417.9 821.4,419.7 821.7,419.4 820.0,417.4 817.8,414.5 815.1,411.1 812.1,407.7 808.9,404.8 805.5,402.3 801.9,400.0 798.0,398.1 794.2,396.2 790.4,394.4 786.8,392.5 783.2,390.5 779.5,388.6 775.6,386.9 771.4,385.9 766.8,385.6 761.9,385.9 757.1,386.4 753.0,387.0 750.1,387.3" fill="#2c0505" filter="url(#b1)"/><g filter="url(#b2)" fill="none" stroke-linecap="round"><path d="M781.0 392.1h0M762.7 388.2h0M788.8 396.6h0M783.4 391.1h0M780.7 391.6h0M757.6 388.1h0M795.4 398.8h0M752.5 387.1h0M777.0 390.1h0M764.3 386.9h0M772.1 388.0h0M802.7 402.7h0M806.8 405.7h0M757.0 387.5h0M787.4 396.0h0M818.3 415.6h0M813.7 410.1h0M800.7 399.8h0M811.8 409.1h0M785.7 394.1h0M780.2 390.2h0M802.8 403.2h0M754.6 386.9h0M818.1 415.2h0M773.8 388.6h0M779.2 392.2h0M820.8 418.3h0M768.6 386.2h0M785.3 393.1h0M801.1 403.2h0M755.9 386.3h0M759.3 386.6h0M761.0 386.8h0M778.8 391.2h0M819.3 418.0h0M783.1 393.2h0M760.9 387.2h0M814.4 413.2h0M761.5 386.1h0M815.8 413.9h0M808.6 404.8h0M798.3 398.7h0M805.6 405.5h0M776.7 387.8h0M805.0 405.9h0M798.0 399.8h0M776.2 390.3h0M819.9 417.6h0M767.9 388.7h0M783.9 392.9h0M775.0 389.5h0M820.6 418.5h0M813.7 410.7h0M782.9 393.7h0M819.7 418.0h0M803.4 404.3h0M816.4 415.3h0M791.4 396.7h0M750.7 387.5h0M779.2 388.8h0M821.3 419.0h0M818.5 414.8h0M778.5 391.2h0M801.4 402.6h0M788.7 394.3h0M811.6 410.1h0M787.3 395.2h0M810.5 408.0h0M787.2 394.9h0M805.6 405.3h0M776.7 390.4h0M779.8 391.5h0M779.6 392.2h0M817.9 416.3h0M780.7 390.8h0M784.0 393.6h0M752.9 387.5h0M818.2 414.7h0M815.4 413.1h0M821.3 419.5h0M804.4 404.6h0M783.9 391.7h0" stroke="#4a0808" stroke-width="0.85"/><path d="M812.6 411.7h0M805.6 403.2h0M788.9 395.9h0M779.2 390.6h0M785.1 395.8h0M797.5 402.0h0M817.1 413.5h0M808.7 406.0h0M796.0 399.5h0M806.7 404.3h0M802.2 401.9h0M809.1 406.9h0M798.6 402.6h0M773.4 386.3h0M815.7 413.3h0M799.1 402.2h0M815.7 412.7h0M820.9 418.7h0M804.7 405.3h0M779.3 390.3h0M779.7 390.2h0M782.0 393.5h0M755.2 388.3h0M809.5 407.5h0M799.7 400.3h0M807.2 407.1h0M780.5 391.3h0M768.1 386.2h0M813.0 411.0h0M784.9 394.3h0M765.3 385.2h0M778.6 390.6h0M765.2 387.1h0M776.7 388.5h0M806.6 404.5h0M806.0 405.8h0M780.8 389.5h0M812.7 410.3h0M794.5 399.3h0M791.9 399.0h0M750.9 388.0h0M797.7 399.7h0M815.7 414.6h0M796.8 397.7h0M798.2 400.0h0M793.9 399.6h0M760.9 388.0h0M775.6 388.0h0M753.2 386.8h0M771.9 387.9h0M818.7 415.5h0M773.7 387.8h0M799.5 400.4h0M802.0 400.8h0M753.7 387.5h0M805.9 403.0h0M754.1 387.6h0M755.5 388.1h0M803.5 401.7h0M783.3 390.9h0M757.3 386.8h0M813.9 413.0h0M806.9 405.9h0M795.1 398.9h0M800.4 401.4h0" stroke="#2c0606" stroke-width="0.80"/></g><g filter="url(#b2)" fill="none" stroke-linecap="round"><path d="M784.4 410.6h0M785.0 408.1h0M785.5 417.2h0M785.1 409.1h0M786.0 410.4h0M784.3 409.5h0M784.3 405.5h0M784.5 407.8h0M788.1 419.0h0M786.4 412.3h0M786.0 416.3h0M785.1 406.1h0M785.2 408.1h0M787.1 422.1h0M787.5 419.5h0M786.3 411.6h0M784.4 412.1h0M784.0 403.2h0M783.4 405.8h0M784.8 408.1h0M783.4 402.3h0" stroke="#8a1010" stroke-width="1.19"/><path d="M784.9 413.3h0M786.1 418.1h0M785.3 407.1h0M787.5 414.8h0M787.6 423.1h0M786.1 412.6h0M783.6 402.9h0M788.2 418.9h0M783.5 403.5h0M784.7 412.3h0M783.9 411.0h0M788.0 421.4h0M785.7 413.7h0M784.6 411.8h0M785.8 417.8h0M784.5 407.0h0M785.7 413.9h0" stroke="#520606" stroke-width="1.12"/></g><g filter="url(#b2)" fill="none" stroke-linecap="round"><path d="M846.4 463.2h0M858.8 472.3h0M870.9 480.3h0M867.0 479.0h0M863.0 477.4h0M847.8 463.8h0M850.3 466.7h0M852.8 466.9h0M850.3 465.3h0M861.1 474.9h0M859.5 472.4h0M861.0 474.2h0M849.1 464.2h0M850.3 466.0h0M850.7 466.5h0M850.2 466.9h0M871.8 480.2h0M847.6 464.8h0M848.3 464.8h0M867.8 478.7h0M872.4 480.1h0M866.2 479.0h0M872.1 481.4h0M858.0 472.8h0M870.9 479.8h0M853.8 467.8h0M852.2 466.8h0M873.5 481.0h0M854.9 471.8h0M865.8 477.5h0M849.2 464.9h0M853.2 470.3h0" stroke="#4a0808" stroke-width="0.94"/><path d="M856.7 473.5h0M854.3 468.0h0M872.8 480.0h0M868.7 479.4h0M853.1 470.1h0M856.9 473.8h0M860.9 476.4h0M873.5 481.1h0M865.4 478.2h0M865.2 475.8h0M865.2 478.3h0M852.1 466.3h0M847.9 464.3h0M848.5 465.7h0M856.5 473.4h0M867.1 478.1h0M851.2 466.8h0M862.5 477.1h0M872.3 480.4h0M846.7 463.3h0M865.4 478.0h0M868.9 480.2h0M863.1 477.3h0M848.8 466.3h0M865.4 476.2h0M850.4 466.9h0" stroke="#2c0606" stroke-width="0.88"/></g><g filter="url(#b2)" fill="none" stroke-linecap="round"><path d="M876.6 483.3h0M876.9 481.9h0M878.3 483.9h0M876.7 483.2h0M880.6 483.5h0M882.4 484.6h0M880.9 483.5h0M875.0 480.8h0M880.5 481.9h0M880.2 482.6h0M877.5 483.2h0" stroke="#b01414" stroke-width="1.27"/><path d="M881.4 484.4h0M878.3 482.6h0M882.8 484.6h0M880.2 481.5h0M882.6 482.7h0M875.3 481.9h0M875.8 482.6h0M880.8 482.0h0M881.9 485.0h0" stroke="#690606" stroke-width="1.20"/></g><polygon points="888.0,485.0 891.6,484.8 896.8,484.5 902.6,483.8 908.3,482.7 913.1,481.6 916.9,480.4 920.3,478.8 923.3,477.3 925.7,476.0 927.5,475.1 927.3,474.7 925.4,475.2 922.7,475.8 919.5,476.5 916.0,477.2 912.2,478.1 907.6,479.1 901.9,480.3 896.3,481.8 891.4,483.4 888.0,484.6" fill="#2a0404" filter="url(#b1)"/><circle cx="913.85" cy="358.98" r="1" fill="#7a0e0e"/><rect x="902.2" y="490.3" width="41.8" height="2.4" fill="#fff"/></g><g clip-path="url(#cb00)"><rect x="1043.7" y="60" width="216.2" height="215.8" fill="#000100"/><g filter="url(#b4)"><polygon points="1068.1,62.1 1066.6,65.4 1064.3,70.1 1061.7,75.6 1059.1,81.1 1057.1,86.2 1055.2,90.7 1053.4,95.0 1051.6,99.2 1049.9,103.2 1048.4,107.2 1047.0,111.2 1045.7,115.2 1044.5,119.0 1043.6,122.2 1042.9,124.5 1045.8,125.4 1046.5,123.1 1047.4,119.9 1048.6,116.1 1049.9,112.1 1051.3,108.2 1052.8,104.4 1054.4,100.4 1056.2,96.2 1058.0,91.8 1059.9,87.3 1061.9,82.2 1063.9,76.4 1065.7,70.7 1067.3,65.7 1068.5,62.2" fill="#041c04"/><polygon points="1142.3,98.6 1144.3,97.3 1147.2,95.5 1150.6,93.5 1154.1,91.6 1157.3,90.1 1160.5,89.0 1163.7,88.1 1166.8,87.4 1169.9,87.1 1172.8,87.1 1175.8,87.5 1178.9,88.3 1181.8,89.4 1184.4,90.9 1186.6,92.7 1188.3,95.1 1189.9,98.0 1191.1,101.4 1191.9,104.7 1192.4,107.8 1192.5,110.8 1192.3,113.8 1191.7,116.8 1190.7,119.6 1189.5,121.9 1187.6,124.0 1185.0,125.8 1182.1,127.4 1179.6,128.8 1177.8,129.7 1177.9,130.0 1179.7,129.1 1182.5,128.1 1185.5,126.8 1188.5,125.1 1190.8,123.0 1192.5,120.4 1193.8,117.5 1194.7,114.3 1195.2,110.9 1195.3,107.6 1194.9,104.1 1194.0,100.5 1192.6,96.8 1190.9,93.5 1188.8,90.7 1186.2,88.4 1183.1,86.7 1179.8,85.4 1176.4,84.5 1173.0,84.0 1169.7,84.1 1166.3,84.7 1162.9,85.7 1159.7,86.9 1156.5,88.3 1153.3,90.2 1149.9,92.4 1146.7,94.8 1144.0,96.9 1142.1,98.3" fill="#052805"/><polygon points="1158.0,62.3 1160.3,63.9 1163.3,66.3 1167.0,68.9 1170.8,71.8 1174.3,74.7 1177.8,77.5 1181.3,80.5 1184.9,83.6 1188.8,86.7 1192.8,89.6 1197.6,92.1 1202.9,94.4 1208.2,96.4 1212.7,98.0 1215.9,99.3 1216.1,98.9 1213.1,97.2 1208.9,94.8 1204.1,92.0 1199.2,89.1 1194.9,86.4 1191.0,83.7 1187.3,80.7 1183.7,77.6 1180.1,74.6 1176.4,71.8 1172.4,69.4 1168.2,67.1 1164.1,65.0 1160.7,63.3 1158.3,62.0" fill="#052805"/><polygon points="1175.2,62.3 1176.3,64.0 1177.8,66.5 1179.6,69.4 1181.6,72.5 1184.1,75.5 1187.0,78.7 1190.4,82.4 1194.1,85.8 1197.5,88.6 1199.9,90.6 1200.1,90.3 1198.3,87.9 1195.7,84.3 1192.6,80.3 1189.2,76.7 1186.4,73.5 1184.0,70.6 1181.4,68.0 1179.0,65.5 1177.0,63.5 1175.5,62.0" fill="#041c04"/><polygon points="1202.3,75.8 1203.7,77.9 1205.6,80.9 1207.9,84.4 1210.7,88.0 1213.9,91.5 1217.9,94.6 1222.6,97.5 1227.5,100.4 1232.1,103.3 1235.8,106.4 1238.7,109.9 1241.4,113.9 1243.7,117.9 1245.7,121.8 1247.1,125.2 1247.8,128.1 1247.8,130.9 1247.4,133.5 1246.9,135.6 1246.6,137.2 1247.0,137.3 1247.3,135.7 1248.1,133.6 1248.9,131.0 1249.3,128.0 1248.9,124.7 1247.8,121.0 1246.2,116.7 1244.1,112.3 1241.4,108.0 1238.1,104.1 1234.0,100.6 1229.2,97.6 1224.3,94.7 1219.6,92.0 1215.6,89.5 1212.3,86.5 1209.2,83.3 1206.5,80.2 1204.2,77.5 1202.6,75.6" fill="#052805"/><polygon points="1121.4,142.2 1121.6,140.1 1122.0,137.0 1122.5,133.7 1123.4,130.4 1124.6,127.9 1126.3,125.9 1128.6,123.9 1131.2,122.3 1133.8,121.1 1136.3,120.4 1138.9,120.2 1142.0,120.5 1145.0,121.2 1147.7,122.3 1149.7,123.7 1151.0,125.4 1152.0,127.7 1152.6,130.4 1152.9,133.2 1152.9,135.8 1152.4,138.3 1151.5,141.0 1150.2,143.7 1148.8,146.5 1147.5,149.1 1146.3,151.7 1145.1,154.4 1143.8,156.9 1142.8,159.0 1142.0,160.5 1142.3,160.7 1143.2,159.2 1144.5,157.3 1146.0,155.0 1147.6,152.4 1149.1,150.0 1150.6,147.5 1152.3,144.9 1153.9,142.1 1155.3,139.2 1156.1,136.2 1156.2,133.1 1155.8,129.8 1155.1,126.7 1153.8,123.7 1151.9,121.3 1149.3,119.5 1146.0,118.1 1142.5,117.3 1139.0,116.9 1135.7,117.2 1132.6,118.1 1129.7,119.8 1127.0,121.9 1124.6,124.3 1122.8,126.9 1121.7,129.9 1121.2,133.5 1121.1,137.0 1121.2,140.0 1121.0,142.1" fill="#052805"/><polygon points="1138.4,138.6 1140.1,140.0 1142.5,142.1 1145.3,144.6 1147.9,147.3 1150.0,150.1 1151.4,153.0 1152.6,156.4 1153.6,159.9 1154.6,163.5 1155.6,167.1 1156.4,170.7 1157.1,174.3 1157.8,178.0 1158.5,181.8 1159.2,185.5 1160.2,189.4 1161.4,193.2 1162.6,197.0 1163.7,200.6 1164.7,203.9 1165.6,207.1 1166.3,210.2 1167.0,213.1 1167.5,215.5 1167.8,217.3 1168.2,217.2 1167.9,215.4 1167.7,213.0 1167.3,210.0 1166.9,206.8 1166.3,203.5 1165.6,200.1 1164.8,196.4 1163.9,192.5 1162.9,188.6 1162.0,184.9 1161.2,181.3 1160.5,177.5 1159.9,173.8 1159.2,170.1 1158.3,166.4 1157.3,162.8 1156.3,159.1 1155.0,155.5 1153.4,152.1 1151.6,149.0 1149.1,146.2 1146.1,143.7 1143.0,141.5 1140.4,139.7 1138.6,138.3" fill="#083808"/><polygon points="1194.9,122.4 1193.2,125.0 1190.5,128.6 1187.5,132.8 1184.5,137.3 1181.9,141.7 1179.7,146.0 1177.6,150.4 1175.6,154.9 1173.9,159.5 1172.7,164.0 1171.8,168.4 1171.3,172.8 1171.1,177.1 1171.1,181.3 1171.4,185.4 1172.1,189.5 1173.3,193.4 1174.6,197.1 1175.7,200.6 1176.3,203.9 1176.6,207.2 1176.7,210.5 1176.7,213.6 1176.3,216.5 1175.5,219.2 1174.3,221.6 1172.7,223.9 1170.7,226.0 1168.5,228.1 1166.3,230.2 1163.7,232.5 1160.7,234.9 1157.7,237.2 1155.0,239.1 1153.1,240.5 1153.3,240.8 1155.2,239.4 1158.0,237.7 1161.3,235.7 1164.5,233.5 1167.3,231.3 1169.7,229.3 1172.0,227.3 1174.3,225.2 1176.2,222.9 1177.7,220.2 1178.8,217.1 1179.4,213.9 1179.7,210.5 1179.6,207.0 1179.4,203.5 1178.6,199.8 1177.5,196.1 1176.2,192.4 1175.1,188.8 1174.4,185.0 1174.2,181.2 1174.1,177.1 1174.3,173.0 1174.8,168.8 1175.6,164.6 1176.8,160.4 1178.2,155.9 1179.8,151.4 1181.7,146.9 1183.6,142.6 1185.9,138.1 1188.5,133.5 1191.2,129.0 1193.5,125.2 1195.2,122.6" fill="#083808"/><polygon points="1145.7,151.9 1144.2,154.7 1141.9,158.6 1139.4,163.1 1136.9,167.9 1134.8,172.5 1133.0,176.8 1131.3,181.3 1129.9,185.8 1128.9,190.4 1128.2,194.9 1128.0,199.5 1128.1,204.2 1128.6,208.8 1129.5,213.1 1130.8,216.7 1132.9,219.6 1135.5,221.7 1138.4,223.2 1141.3,224.4 1144.3,225.5 1147.6,226.5 1151.4,227.3 1155.1,227.8 1158.3,228.1 1160.6,228.5 1160.7,228.1 1158.4,227.7 1155.3,226.9 1151.7,226.0 1148.1,224.9 1145.0,223.7 1142.2,222.4 1139.5,221.0 1137.2,219.4 1135.2,217.6 1133.8,215.3 1132.6,212.2 1131.8,208.3 1131.4,204.0 1131.3,199.6 1131.5,195.2 1132.1,191.0 1133.1,186.7 1134.4,182.3 1135.8,177.8 1137.2,173.4 1138.9,168.8 1140.9,163.8 1142.9,159.1 1144.7,155.0 1146.0,152.1" fill="#052805"/><polygon points="1135.9,172.9 1134.1,176.4 1132.8,180.0 1131.8,183.7 1131.2,187.5 1130.9,191.3 1131.2,191.4 1132.9,187.9 1134.3,184.3 1135.3,180.6 1135.9,176.8 1136.1,173.0" fill="#083808"/><polygon points="1121.1,179.1 1120.9,181.7 1120.8,185.5 1120.8,189.8 1121.0,194.0 1121.1,197.5 1120.8,200.4 1120.6,203.3 1120.3,205.9 1120.0,208.2 1119.8,209.8 1120.2,209.9 1120.7,208.4 1121.7,206.3 1122.6,203.7 1123.5,200.8 1123.9,197.6 1123.8,193.9 1123.6,189.6 1122.8,185.3 1122.0,181.6 1121.4,179.1" fill="#041c04"/><polygon points="1089.1,197.7 1091.0,199.2 1093.7,201.3 1096.8,203.8 1100.1,206.4 1103.1,208.7 1106.1,210.8 1109.2,212.6 1112.3,214.5 1115.1,216.4 1117.6,218.5 1119.9,220.9 1122.0,223.6 1124.2,226.3 1126.1,228.9 1127.7,231.2 1128.8,233.4 1129.6,235.6 1130.2,237.6 1130.6,239.4 1130.9,240.7 1131.3,240.6 1131.1,239.3 1131.1,237.5 1130.9,235.3 1130.4,232.9 1129.6,230.3 1128.3,227.6 1126.7,224.6 1124.8,221.5 1122.5,218.6 1120.0,216.0 1117.2,213.6 1114.2,211.6 1111.1,209.6 1107.9,207.8 1104.9,206.0 1101.6,204.1 1098.0,202.1 1094.5,200.2 1091.4,198.6 1089.3,197.4" fill="#052805"/><polygon points="1106.4,210.0 1108.4,212.3 1110.6,214.3 1113.1,216.1 1115.8,217.5 1118.7,218.6 1118.9,218.3 1116.8,216.0 1114.6,214.0 1112.1,212.2 1109.4,210.8 1106.6,209.7" fill="#0c4c0c"/><polygon points="1218.3,277.2 1221.0,275.8 1224.8,273.9 1229.2,271.7 1233.8,269.4 1238.0,267.3 1242.1,265.2 1246.2,262.6 1250.0,259.8 1253.2,257.4 1255.5,255.6 1255.3,255.1 1252.6,256.1 1248.7,257.4 1244.3,259.0 1239.9,261.0 1235.9,263.2 1231.7,265.3 1227.1,267.5 1222.7,269.8 1218.9,271.6 1216.2,273.0" fill="#083808"/><polygon points="1091.4,62.3 1092.6,64.3 1094.1,67.3 1095.8,70.7 1097.9,74.4 1100.1,78.0 1102.5,81.6 1105.1,85.4 1108.0,89.2 1111.3,92.8 1114.5,96.0 1117.9,99.0 1121.5,101.9 1125.1,104.5 1128.8,106.9 1132.5,108.8 1136.4,110.0 1140.3,110.9 1144.1,111.3 1147.7,111.5 1150.8,111.4 1153.6,110.8 1156.0,109.7 1158.0,108.5 1159.5,107.4 1160.8,106.7 1160.5,106.2 1159.2,106.8 1157.5,107.6 1155.4,108.3 1153.2,108.9 1150.7,108.9 1147.9,108.6 1144.7,107.9 1141.3,107.0 1137.8,105.7 1134.6,104.2 1131.3,102.4 1128.0,100.3 1124.6,97.8 1121.3,95.1 1118.1,92.3 1115.0,89.2 1111.9,85.8 1108.9,82.3 1105.8,79.0 1103.0,75.8 1100.3,72.7 1097.7,69.5 1095.3,66.5 1093.3,63.9 1092.0,62.0" fill="#083808"/><polygon points="1108.8,84.4 1110.0,86.5 1111.7,89.5 1113.8,93.0 1116.4,96.2 1119.1,98.9 1122.0,101.2 1125.3,103.1 1128.6,104.6 1131.4,105.7 1133.5,106.6 1133.6,106.3 1131.9,105.0 1129.4,103.2 1126.5,101.0 1123.6,98.9 1120.9,96.8 1118.5,94.3 1115.9,91.3 1113.1,88.4 1110.8,86.0 1109.1,84.2" fill="#0c4c0c"/><polygon points="1123.6,105.4 1125.3,106.6 1127.6,108.4 1130.5,110.4 1134.0,112.4 1138.1,114.0 1143.3,115.1 1149.5,116.2 1155.9,116.7 1161.6,116.9 1165.5,117.1 1165.6,116.8 1161.7,115.9 1156.2,114.6 1149.9,113.4 1143.8,112.4 1138.8,111.3 1135.0,110.0 1131.4,108.7 1128.3,107.2 1125.7,106.0 1123.8,105.1" fill="#083808"/><polygon points="1138.4,112.7 1140.8,113.8 1143.2,114.5 1145.7,115.0 1148.2,115.2 1150.7,115.2 1150.8,115.0 1148.4,113.9 1146.0,113.2 1143.6,112.7 1141.1,112.5 1138.5,112.5" fill="#146d14"/><polygon points="1223.4,63.0 1224.8,64.3 1226.1,64.8 1227.3,64.7 1228.5,63.9 1229.6,62.4 1229.5,61.9 1228.1,60.6 1226.8,60.1 1225.6,60.2 1224.5,61.0 1223.4,62.5" fill="#0c4c0c"/></g><circle cx="1120" cy="169.23" r="6.5" fill="none" stroke="#041c04" stroke-width="3.5" filter="url(#b1)"/></g><g clip-path="url(#cb01)"><rect x="1266.7" y="60" width="216.2" height="215.8" fill="#000100"/><g filter="url(#b4)"><polygon points="1272.8,195.2 1274.8,196.2 1277.5,197.6 1280.8,199.1 1284.3,200.4 1287.6,200.8 1290.6,200.5 1293.5,199.7 1296.1,198.6 1298.5,197.4 1300.5,196.0 1302.2,194.6 1303.6,192.9 1304.7,191.3 1305.5,189.9 1306.2,189.0 1305.9,188.8 1305.2,189.6 1304.0,190.7 1302.6,192.0 1301.1,193.2 1299.3,194.1 1297.3,195.0 1295.0,196.1 1292.6,197.0 1290.1,197.7 1287.6,198.0 1284.9,197.6 1281.5,197.0 1278.1,196.2 1275.0,195.4 1272.9,194.9" fill="#052205"/><polygon points="1291.4,206.3 1293.4,204.8 1296.3,202.8 1299.6,200.6 1303.1,198.6 1306.4,197.3 1309.6,196.7 1312.9,196.6 1316.5,196.7 1320.2,197.0 1324.3,197.6 1329.1,198.4 1334.5,199.4 1339.9,200.6 1344.9,201.8 1348.8,203.2 1351.4,204.8 1353.3,206.9 1354.7,209.0 1355.7,211.0 1356.4,212.4 1356.7,212.2 1356.0,210.8 1355.2,208.8 1354.1,206.3 1352.3,203.9 1349.5,201.8 1345.6,200.0 1340.6,198.3 1335.0,196.9 1329.6,195.8 1324.7,195.0 1320.5,194.5 1316.6,194.1 1312.9,194.0 1309.3,194.4 1305.8,195.3 1302.2,197.0 1298.8,199.5 1295.7,202.1 1293.1,204.5 1291.2,206.0" fill="#052405"/><polygon points="1373.9,197.7 1375.6,196.4 1378.1,194.6 1381.0,192.5 1383.9,190.5 1386.8,188.9 1389.5,187.5 1392.2,186.2 1395.1,185.0 1398.2,184.0 1401.3,182.9 1404.8,181.6 1408.7,180.2 1412.5,178.8 1415.8,177.6 1418.1,176.8 1418.0,176.5 1415.6,176.9 1412.1,177.5 1408.1,178.3 1404.0,179.2 1400.4,180.2 1397.2,181.3 1394.1,182.4 1391.1,183.6 1388.2,184.9 1385.4,186.5 1382.6,188.6 1379.8,191.1 1377.3,193.7 1375.2,195.9 1373.7,197.4" fill="#073007"/></g></g><g clip-path="url(#cb02)"><rect x="1489.7" y="60" width="216.2" height="215.8" fill="#000100"/><g filter="url(#b4)"><polygon points="1487.7,103.1 1488.2,106.1 1488.8,110.4 1489.6,115.5 1490.5,120.7 1491.4,125.3 1492.4,129.6 1493.5,134.0 1494.7,138.2 1496.1,142.1 1498.1,145.5 1500.6,148.3 1503.5,150.5 1506.3,152.3 1508.8,153.6 1510.5,154.7 1510.8,154.3 1509.2,153.0 1507.2,151.1 1504.8,148.9 1502.6,146.4 1501.0,143.7 1499.8,140.6 1498.5,137.0 1497.4,132.9 1496.3,128.7 1495.3,124.5 1494.4,119.9 1493.5,114.9 1492.8,109.9 1492.1,105.5 1491.7,102.5" fill="#052605"/><polygon points="1522.8,92.0 1520.7,92.8 1517.6,93.5 1514.0,94.5 1510.3,96.0 1507.2,98.0 1504.5,100.6 1502.1,103.6 1500.0,107.0 1498.2,110.8 1497.1,114.7 1496.8,118.9 1497.1,123.2 1497.8,127.5 1498.7,131.6 1499.6,135.4 1500.6,138.9 1501.7,142.3 1503.0,145.5 1504.5,148.4 1506.2,151.0 1508.1,153.0 1510.1,154.4 1512.3,155.5 1514.6,156.4 1517.4,157.3 1521.2,158.2 1525.8,159.1 1530.6,159.8 1534.8,160.4 1537.6,160.9 1537.8,160.3 1534.9,159.6 1530.9,158.3 1526.4,156.9 1522.0,155.4 1518.6,154.1 1516.1,152.9 1514.1,151.9 1512.6,150.9 1511.3,149.7 1510.1,148.1 1508.8,146.0 1507.5,143.5 1506.3,140.6 1505.3,137.5 1504.4,134.2 1503.5,130.5 1502.6,126.6 1502.0,122.6 1501.7,118.9 1502.0,115.5 1502.7,112.2 1503.8,108.9 1505.3,105.6 1507.2,102.7 1509.1,100.2 1511.6,98.1 1514.7,96.2 1518.0,94.7 1520.9,93.4 1523.0,92.6" fill="#083608"/><polygon points="1543.9,160.9 1546.3,160.9 1549.7,161.1 1553.8,161.4 1558.1,161.7 1562.2,162.1 1566.3,162.8 1570.8,163.7 1575.4,164.7 1580.1,165.4 1584.6,165.4 1588.8,165.0 1593.0,164.2 1596.9,163.2 1600.7,161.8 1604.0,160.2 1607.1,158.3 1609.8,156.1 1612.1,153.6 1614.2,151.0 1615.9,148.2 1617.2,145.2 1618.3,142.0 1619.0,138.8 1619.6,135.7 1620.2,132.6 1620.6,129.3 1621.0,125.8 1621.2,122.5 1621.4,119.6 1621.7,117.6 1621.1,117.5 1620.8,119.5 1620.2,122.3 1619.4,125.6 1618.6,128.9 1617.7,132.0 1616.8,135.0 1615.8,138.0 1614.8,140.9 1613.6,143.5 1612.1,146.0 1610.4,148.3 1608.6,150.5 1606.6,152.6 1604.3,154.5 1601.8,156.1 1598.9,157.5 1595.5,158.7 1592.0,159.7 1588.2,160.3 1584.4,160.7 1580.4,160.7 1576.0,160.3 1571.4,159.8 1566.8,159.4 1562.4,159.1 1558.1,159.2 1553.8,159.5 1549.7,159.9 1546.3,160.3 1543.8,160.3" fill="#083608"/><polygon points="1562.3,160.8 1565.4,161.6 1569.8,162.8 1574.9,163.9 1580.0,164.5 1584.5,164.6 1588.4,164.1 1591.9,162.9 1595.0,161.6 1597.5,160.4 1599.3,159.6 1599.2,159.2 1597.2,159.6 1594.5,160.2 1591.3,160.8 1587.9,161.2 1584.4,161.6 1580.3,161.4 1575.2,160.9 1570.1,160.6 1565.5,160.5 1562.3,160.4" fill="#0b4a0b"/><polygon points="1616.3,93.1 1618.4,95.7 1621.3,99.6 1624.7,104.0 1628.5,108.6 1632.4,112.8 1636.4,116.7 1640.9,120.4 1645.6,124.0 1650.2,127.4 1654.6,130.5 1658.7,133.2 1662.8,135.8 1666.9,138.0 1671.0,139.8 1675.0,141.2 1679.3,142.0 1683.8,142.4 1688.0,142.4 1691.5,142.3 1694.0,142.4 1694.0,141.9 1691.5,141.6 1688.1,141.1 1684.0,140.4 1679.9,139.5 1676.0,138.2 1672.5,136.5 1668.8,134.4 1665.1,132.0 1661.2,129.5 1657.1,126.8 1652.8,123.8 1648.3,120.5 1643.7,116.9 1639.3,113.3 1635.0,110.0 1630.8,106.3 1626.5,102.4 1622.5,98.5 1619.0,95.2 1616.7,92.7" fill="#083608"/><polygon points="1649.4,136.0 1649.1,138.2 1648.3,141.2 1647.7,144.9 1647.3,148.8 1647.6,152.5 1648.6,155.9 1650.1,159.3 1652.0,162.6 1654.2,165.7 1656.9,168.5 1660.5,170.6 1664.8,172.1 1669.1,173.1 1672.9,173.8 1675.4,174.4 1675.6,173.9 1673.2,172.7 1669.8,171.1 1666.0,169.1 1662.5,167.0 1659.7,165.0 1657.6,162.9 1655.7,160.3 1654.1,157.4 1652.8,154.4 1651.8,151.5 1650.9,148.5 1650.5,144.9 1650.2,141.4 1650.0,138.2 1650.0,136.0" fill="#0b4a0b"/><polygon points="1675.6,174.4 1681.6,175.1 1687.5,175.2 1693.4,174.7 1699.3,174.2 1705.2,173.7 1704.9,169.7 1699.0,170.2 1693.1,170.7 1687.2,171.2 1681.3,172.3 1675.5,173.9" fill="#052605"/><polygon points="1660.7,212.6 1663.4,213.5 1667.2,214.9 1671.7,216.3 1676.4,217.4 1680.8,217.4 1684.6,216.6 1688.0,215.3 1691.2,213.6 1694.2,211.6 1697.0,209.4 1699.8,206.6 1702.4,203.4 1704.7,200.1 1706.6,197.3 1707.9,195.4 1703.5,192.3 1702.1,194.3 1700.3,197.1 1698.1,200.1 1695.8,203.1 1693.4,205.4 1691.1,207.2 1688.5,208.9 1685.8,210.4 1683.0,211.4 1680.2,212.1 1676.6,212.3 1672.3,212.4 1667.7,212.3 1663.7,212.1 1660.8,212.0" fill="#083608"/><polygon points="1496.0,168.2 1497.7,166.9 1500.0,165.1 1502.9,163.2 1505.8,161.4 1508.5,160.3 1511.3,159.8 1514.3,159.6 1517.3,159.7 1520.0,160.2 1522.3,160.9 1524.1,162.1 1525.9,163.8 1527.4,165.8 1528.6,168.0 1529.5,170.0 1530.0,172.0 1530.2,174.2 1530.2,176.5 1529.9,178.8 1529.4,180.8 1528.7,182.5 1527.5,184.2 1526.0,186.0 1524.5,188.2 1523.3,190.6 1522.6,193.0 1522.1,195.5 1521.7,198.1 1521.7,200.9 1521.9,204.0 1522.5,207.4 1523.3,211.3 1524.4,215.3 1525.8,219.2 1527.3,222.8 1528.9,226.3 1530.6,229.7 1532.4,232.9 1534.5,236.0 1536.8,238.9 1539.7,241.6 1543.0,244.0 1546.3,246.2 1549.2,248.0 1551.1,249.4 1551.4,249.0 1549.5,247.6 1546.8,245.4 1543.9,242.9 1540.9,240.2 1538.6,237.4 1536.7,234.6 1535.0,231.5 1533.5,228.3 1532.1,224.9 1530.9,221.5 1529.7,217.9 1528.7,214.0 1527.7,210.2 1526.9,206.6 1526.4,203.4 1526.1,200.7 1526.2,198.3 1526.4,196.2 1526.9,194.1 1527.5,192.2 1528.3,190.4 1529.5,188.7 1531.1,186.9 1532.6,184.7 1533.7,182.2 1534.3,179.6 1534.6,176.8 1534.7,174.0 1534.4,171.2 1533.6,168.5 1532.3,165.9 1530.6,163.4 1528.6,161.2 1526.2,159.2 1523.6,157.8 1520.6,157.1 1517.4,156.8 1514.1,157.0 1510.8,157.5 1507.8,158.4 1504.9,160.0 1502.1,162.1 1499.5,164.4 1497.3,166.5 1495.7,167.8" fill="#083608"/><polygon points="1505.7,186.7 1507.3,187.3 1509.7,188.4 1512.5,189.5 1515.6,189.8 1518.6,189.3 1521.2,187.9 1523.3,185.6 1524.8,183.1 1525.9,180.8 1526.8,179.2 1526.5,178.9 1525.1,180.1 1523.1,181.7 1521.0,183.4 1519.0,185.1 1517.4,186.0 1515.5,186.3 1513.0,186.2 1510.1,186.2 1507.5,186.2 1505.7,186.3" fill="#041b04"/><polygon points="1496.2,190.2 1496.4,193.4 1496.5,197.9 1496.7,203.1 1497.1,208.7 1497.7,213.9 1498.6,219.0 1499.9,224.1 1501.4,229.3 1503.0,234.3 1504.9,239.0 1506.9,243.4 1509.0,247.6 1511.3,251.5 1513.7,255.3 1516.2,259.1 1519.0,263.1 1522.1,267.1 1525.3,271.0 1527.9,274.2 1529.8,276.5 1533.3,273.7 1531.4,271.4 1528.7,268.1 1525.6,264.4 1522.5,260.4 1519.8,256.6 1517.4,252.9 1515.1,249.2 1512.9,245.4 1510.9,241.5 1509.0,237.3 1507.2,232.8 1505.6,227.9 1504.1,222.9 1502.8,217.9 1501.4,213.2 1500.1,208.2 1499.0,202.8 1498.1,197.7 1497.2,193.3 1496.7,190.1" fill="#083608"/><polygon points="1520.2,212.4 1520.8,215.5 1521.5,220.0 1522.4,225.2 1523.4,230.5 1524.5,235.1 1525.7,239.0 1526.8,242.6 1528.0,246.2 1529.3,249.8 1530.7,253.7 1532.4,258.3 1534.4,263.4 1536.4,268.4 1538.1,272.8 1539.3,275.9 1543.5,274.3 1542.2,271.2 1540.5,266.8 1538.5,261.8 1536.5,256.7 1534.9,252.2 1533.5,248.3 1532.2,244.7 1531.1,241.2 1529.9,237.7 1528.7,233.8 1527.2,229.4 1525.3,224.4 1523.5,219.5 1521.8,215.2 1520.7,212.2" fill="#052605"/><polygon points="1553.5,248.1 1554.0,250.4 1554.8,253.6 1555.9,257.2 1557.5,260.7 1559.1,263.8 1560.7,266.8 1562.5,269.8 1564.1,272.7 1565.5,275.1 1566.5,276.8 1570.4,274.6 1569.4,272.8 1568.0,270.4 1566.3,267.6 1564.6,264.6 1563.0,261.7 1561.5,258.7 1559.6,255.4 1557.4,252.3 1555.4,249.7 1553.9,247.9" fill="#083608"/><polygon points="1581.8,246.7 1580.6,249.2 1578.8,252.9 1577.0,257.1 1575.6,261.3 1574.5,264.8 1573.7,267.6 1573.1,270.2 1572.6,272.4 1572.3,274.1 1572.0,275.4 1574.8,276.0 1575.0,274.7 1575.4,272.9 1575.8,270.8 1576.4,268.4 1577.2,265.6 1578.3,262.2 1579.7,258.0 1580.8,253.6 1581.6,249.6 1582.2,246.8" fill="#041d04"/></g><circle cx="1570.68" cy="105.6" r="0.90" fill="#2c9c2c" filter="url(#b2)"/><circle cx="1500.15" cy="115.08" r="1.20" fill="#116011" filter="url(#b1)"/><circle cx="1529.08" cy="171.69" r="1.35" fill="#116011" filter="url(#b1)"/><circle cx="1516.77" cy="158.77" r="1.20" fill="#116011" filter="url(#b1)"/><circle cx="1583.23" cy="162.83" r="1.20" fill="#157115" filter="url(#b1)"/><circle cx="1591.85" cy="161.23" r="1.20" fill="#157115" filter="url(#b1)"/><circle cx="1530.92" cy="248" r="1.35" fill="#116011" filter="url(#b1)"/><circle cx="1501.38" cy="218.46" r="1.12" fill="#116011" filter="url(#b1)"/><circle cx="1695.23" cy="208.62" r="1.35" fill="#116011" filter="url(#b1)"/></g><g clip-path="url(#cb03)"><rect x="1712.7" y="60" width="216.2" height="215.8" fill="#000100"/><g filter="url(#b4)"><polygon points="1794.9,84.5 1796.2,86.2 1797.9,88.8 1799.8,91.6 1801.3,94.5 1802.0,97.0 1801.8,99.4 1801.2,102.2 1800.1,105.1 1799.1,107.8 1797.9,110.0 1796.5,111.8 1794.8,113.5 1792.9,114.9 1791.1,115.8 1789.9,116.2 1789.0,116.2 1788.0,115.8 1786.9,115.0 1785.9,113.9 1785.0,112.8 1784.2,111.1 1783.4,108.8 1782.9,106.2 1782.7,103.8 1782.8,102.0 1783.4,100.7 1784.7,99.5 1786.4,98.4 1788.0,97.4 1789.1,96.9 1788.9,96.3 1787.7,96.9 1785.9,97.4 1783.9,98.1 1781.9,99.3 1780.5,101.1 1779.8,103.5 1779.5,106.4 1779.5,109.4 1779.9,112.3 1780.7,114.9 1781.9,117.1 1783.5,118.9 1785.6,120.3 1788.0,121.2 1790.6,121.3 1793.1,120.6 1795.7,119.2 1798.1,117.4 1800.4,115.2 1802.3,112.8 1803.7,109.9 1805.0,106.7 1805.8,103.2 1806.0,99.6 1805.6,96.2 1804.1,93.1 1801.8,90.2 1799.2,87.7 1796.8,85.7 1795.4,84.1" fill="#073407"/><polygon points="1806.1,91.9 1807.9,92.8 1810.3,94.1 1813.2,95.6 1816.2,97.3 1819.1,99.1 1821.9,101.1 1824.8,103.3 1827.9,105.7 1831.3,107.9 1834.8,109.7 1838.5,111.3 1842.3,112.7 1846.3,113.9 1850.3,114.7 1854.4,114.8 1858.5,114.0 1862.3,112.2 1865.8,110.0 1869.0,108.0 1871.9,106.4 1874.7,105.3 1877.5,104.3 1880.1,103.5 1882.2,102.8 1883.8,102.4 1883.7,101.9 1882.1,102.2 1879.9,102.4 1877.1,102.8 1874.2,103.3 1871.0,104.1 1867.7,105.3 1864.1,106.9 1860.6,108.5 1857.2,109.7 1854.0,110.4 1850.8,110.3 1847.4,109.6 1843.8,108.5 1840.2,107.1 1836.7,105.7 1833.5,104.0 1830.2,102.1 1826.9,100.2 1823.7,98.3 1820.5,96.6 1817.2,95.2 1813.9,94.0 1810.8,93.0 1808.2,92.2 1806.3,91.4" fill="#073407"/><polygon points="1756.8,128.8 1757.9,130.6 1759.5,133.2 1761.1,136.3 1762.4,139.4 1763.0,142.4 1762.9,145.4 1762.3,148.7 1761.3,152.1 1760.0,155.4 1758.7,158.4 1757.2,161.0 1755.4,163.3 1753.4,165.5 1751.0,167.7 1748.3,169.9 1745.1,172.1 1741.5,174.3 1737.7,176.5 1733.9,178.9 1730.3,181.4 1726.8,184.0 1723.2,186.9 1719.9,189.6 1717.1,192.0 1715.0,193.6 1715.3,194.1 1717.5,192.6 1720.7,190.8 1724.4,188.6 1728.3,186.3 1732.0,184.2 1735.8,182.2 1739.8,180.3 1743.8,178.1 1747.6,175.9 1751.0,173.5 1753.9,171.1 1756.5,168.7 1758.8,166.2 1760.9,163.4 1762.7,160.4 1764.2,157.0 1765.2,153.2 1765.9,149.3 1766.1,145.5 1765.8,141.9 1764.6,138.6 1762.7,135.4 1760.5,132.5 1758.4,130.2 1757.2,128.5" fill="#073407"/><polygon points="1837.4,138.6 1838.2,140.7 1839.3,143.8 1840.5,147.3 1841.4,151.0 1841.8,154.6 1841.5,158.1 1840.9,161.9 1840.0,165.7 1838.8,169.6 1837.4,173.3 1835.7,177.0 1833.5,180.7 1831.0,184.3 1828.3,187.9 1825.5,191.1 1822.5,194.1 1819.2,197.0 1815.8,199.9 1812.4,202.5 1809.2,204.9 1805.8,207.1 1802.3,209.1 1798.9,210.9 1796.0,212.3 1793.8,213.3 1794.0,213.8 1796.2,212.9 1799.3,212.0 1803.0,210.7 1806.9,209.2 1810.7,207.4 1814.3,205.3 1818.1,203.0 1821.9,200.4 1825.5,197.4 1828.8,194.1 1831.8,190.7 1834.6,186.9 1837.3,183.0 1839.6,179.0 1841.5,175.0 1843.0,170.9 1844.0,166.7 1844.6,162.4 1844.8,158.3 1844.5,154.3 1843.7,150.5 1842.2,146.7 1840.4,143.3 1838.8,140.5 1837.9,138.4" fill="#0b470b"/><polygon points="1838.2,154.2 1836.1,154.4 1833.0,154.4 1829.5,154.5 1826.0,154.9 1822.9,155.8 1820.4,157.1 1818.1,158.8 1816.1,160.8 1814.4,163.3 1813.1,166.2 1812.3,169.7 1812.1,173.7 1812.1,177.7 1812.0,181.6 1811.8,185.0 1811.4,188.3 1811.0,191.3 1810.6,194.1 1809.9,196.7 1808.8,199.1 1806.6,201.7 1803.5,204.4 1800.2,207.1 1797.2,209.3 1795.0,210.9 1795.3,211.3 1797.5,209.9 1800.9,208.2 1804.7,206.0 1808.3,203.5 1811.1,200.9 1812.9,198.0 1814.1,195.0 1814.7,191.9 1815.1,188.7 1815.5,185.4 1815.8,181.7 1815.8,177.7 1815.8,173.8 1816.0,170.2 1816.6,167.3 1817.6,165.0 1818.8,162.9 1820.3,161.0 1822.0,159.4 1824.0,158.0 1826.5,156.9 1829.8,156.1 1833.1,155.5 1836.1,155.0 1838.3,154.7" fill="#073407"/><polygon points="1907.2,86.9 1911.8,85.1 1916.2,83.0 1920.4,80.5 1924.5,78.0 1928.7,75.6 1927.4,73.4 1923.2,75.8 1919.1,78.3 1914.9,80.7 1910.9,83.5 1907.1,86.6" fill="#031403"/></g><ellipse cx="1787.28" cy="130.71" rx="3" ry="2.3" fill="#188a18" filter="url(#b2)"/><circle cx="1927.09" cy="139.94" r="1.00" fill="#115c11" filter="url(#b2)"/><circle cx="1753.92" cy="166.77" r="1.35" fill="#115c11" filter="url(#b1)"/><circle cx="1813.62" cy="174.77" r="1.35" fill="#115c11" filter="url(#b1)"/><circle cx="1838.23" cy="176" r="1.35" fill="#115c11" filter="url(#b1)"/></g><g clip-path="url(#cb10)"><rect x="1043.7" y="279.7" width="216.2" height="215.8" fill="#000100"/><g filter="url(#b4)"><polygon points="1045.3,309.8 1047.3,308.1 1050.0,305.6 1053.2,302.8 1056.5,300.1 1059.8,297.8 1063.1,295.8 1066.8,294.0 1070.6,292.3 1074.3,290.8 1077.7,289.2 1081.0,287.5 1084.2,285.9 1087.3,284.5 1089.9,283.2 1091.8,282.4 1091.6,281.9 1089.6,282.3 1086.7,282.7 1083.4,283.3 1079.7,284.1 1076.1,285.0 1072.5,286.2 1068.7,287.8 1064.7,289.6 1060.8,291.5 1057.1,293.6 1053.5,296.2 1050.0,299.1 1046.7,302.0 1044.0,304.4 1042.1,306.2" fill="#062d06"/><polygon points="1053.7,308.2 1055.6,307.1 1058.4,305.5 1061.5,303.8 1064.8,302.2 1067.7,301.0 1070.6,300.3 1073.8,299.7 1077.1,299.5 1080.1,299.6 1082.7,299.6 1085.1,300.2 1087.4,301.2 1089.6,302.4 1091.5,303.6 1092.8,304.5 1093.1,304.1 1091.9,303.1 1090.4,301.4 1088.5,299.6 1086.1,297.9 1083.4,296.7 1080.3,296.1 1076.9,296.0 1073.4,296.3 1069.9,296.8 1066.5,297.7 1063.2,299.3 1060.1,301.7 1057.4,304.1 1055.1,306.4 1053.4,307.8" fill="#042004"/><polygon points="1089.1,307.8 1087.0,308.6 1083.8,309.6 1080.2,310.9 1076.6,312.5 1073.6,314.4 1071.3,316.4 1069.4,318.5 1067.7,321.0 1066.3,323.8 1065.0,327.1 1064.1,331.1 1063.5,335.5 1063.0,340.2 1062.7,345.0 1062.5,349.8 1062.6,354.8 1062.9,360.0 1063.4,365.1 1064.0,370.0 1064.4,374.5 1064.6,378.8 1064.6,383.1 1064.5,387.1 1064.5,390.5 1064.4,392.9 1064.9,392.9 1065.1,390.5 1065.7,387.2 1066.4,383.2 1066.9,378.9 1067.3,374.5 1067.4,369.8 1067.3,364.8 1067.1,359.7 1066.8,354.6 1066.7,349.9 1066.9,345.2 1067.2,340.5 1067.6,336.0 1068.3,331.8 1069.1,328.3 1069.9,325.2 1070.9,322.6 1072.1,320.4 1073.5,318.4 1075.3,316.4 1077.8,314.4 1080.9,312.5 1084.3,310.7 1087.2,309.2 1089.3,308.2" fill="#062d06"/><polygon points="1101.4,282.3 1102.4,284.0 1103.8,286.4 1105.6,289.1 1107.9,291.6 1110.3,293.6 1113.1,295.1 1116.1,296.1 1119.2,296.6 1121.8,296.9 1123.6,297.1 1123.8,296.7 1122.2,295.8 1119.9,294.5 1117.3,293.0 1114.7,291.7 1112.4,290.4 1110.3,288.8 1108.0,286.7 1105.5,284.8 1103.3,283.2 1101.7,282.0" fill="#062d06"/><polygon points="1120.4,281.4 1120.8,283.2 1121.4,285.9 1122.1,289.0 1123.0,292.3 1124.3,295.4 1125.9,298.3 1128.1,301.2 1130.7,303.6 1133.0,305.5 1134.6,306.9 1135.0,306.6 1134.1,304.7 1132.8,302.0 1131.2,298.9 1129.5,296.1 1128.1,293.6 1127.0,290.9 1126.2,288.0 1125.5,285.0 1124.9,282.3 1124.5,280.5" fill="#042004"/><polygon points="1126.1,282.4 1129.3,283.8 1133.9,285.9 1139.3,288.2 1144.9,290.6 1150.1,292.8 1155.0,294.7 1160.1,296.5 1165.2,298.3 1170.1,300.0 1174.6,301.6 1178.6,303.1 1182.4,304.6 1186.1,305.8 1189.8,306.7 1193.6,307.2 1197.8,307.1 1202.2,306.6 1206.3,305.8 1209.8,305.0 1212.3,304.6 1212.3,304.0 1209.8,304.2 1206.2,304.3 1202.0,304.4 1197.8,304.3 1194.0,303.9 1190.7,303.0 1187.5,301.7 1184.1,300.2 1180.3,298.7 1176.2,297.2 1171.6,295.6 1166.8,293.9 1161.7,292.1 1156.6,290.3 1151.5,288.7 1146.0,287.2 1140.2,285.6 1134.5,284.1 1129.7,282.9 1126.2,281.9" fill="#062d06"/><polygon points="1155.4,306.7 1154.6,309.1 1153.3,312.5 1151.8,316.5 1150.3,320.7 1148.8,324.6 1147.4,328.4 1145.9,332.4 1144.3,336.4 1142.8,340.4 1141.4,344.3 1140.5,348.3 1139.8,352.5 1139.1,356.4 1138.7,359.7 1138.2,362.1 1138.7,362.2 1139.5,360.0 1140.8,356.8 1142.2,353.2 1143.8,349.3 1145.3,345.6 1146.7,341.9 1148.2,337.9 1149.8,333.9 1151.4,329.9 1152.8,325.9 1153.7,321.7 1154.5,317.2 1155.1,313.0 1155.5,309.4 1155.9,306.8" fill="#042004"/><polygon points="1095.0,339.9 1094.1,342.9 1092.5,347.0 1090.7,351.9 1089.2,357.1 1088.2,362.0 1087.8,366.7 1087.7,371.4 1088.2,376.1 1089.1,380.7 1090.1,385.1 1091.5,389.4 1093.2,393.6 1095.1,397.6 1097.1,401.3 1099.1,404.4 1101.0,407.0 1102.9,409.2 1105.1,411.2 1107.8,412.7 1111.1,413.4 1115.2,413.2 1119.8,412.0 1124.4,410.4 1128.4,408.9 1131.2,408.0 1131.0,407.4 1128.1,407.9 1123.9,408.6 1119.2,409.2 1114.8,409.6 1111.6,409.3 1109.7,408.5 1108.2,407.4 1106.9,405.8 1105.6,403.7 1104.0,401.2 1102.2,398.3 1100.3,394.9 1098.5,391.3 1097.0,387.4 1095.7,383.5 1094.8,379.5 1094.0,375.3 1093.5,370.9 1093.0,366.6 1092.7,362.3 1092.9,357.7 1093.6,352.6 1094.4,347.5 1095.1,343.1 1095.7,340.1" fill="#042004"/><polygon points="1121.0,332.6 1120.2,335.7 1118.8,340.2 1117.4,345.4 1116.2,350.8 1115.5,356.0 1115.6,360.7 1116.1,365.4 1116.9,370.0 1117.9,374.5 1119.2,378.8 1120.9,383.1 1123.1,387.2 1125.5,391.0 1128.0,394.4 1130.1,397.3 1132.1,399.7 1134.0,401.6 1135.8,403.2 1137.3,404.4 1138.3,405.4 1138.6,405.1 1137.7,404.0 1136.5,402.6 1135.1,400.7 1133.6,398.5 1132.0,396.0 1130.4,392.9 1128.5,389.3 1126.6,385.3 1124.8,381.4 1123.2,377.5 1122.0,373.4 1121.0,369.2 1120.3,364.8 1119.8,360.4 1119.6,356.0 1119.5,351.2 1119.9,345.8 1120.5,340.5 1121.1,335.9 1121.5,332.7" fill="#062d06"/><polygon points="1217.3,337.3 1214.2,336.0 1209.9,334.0 1204.8,331.9 1199.3,330.1 1193.8,329.3 1188.5,329.6 1183.0,330.7 1177.6,332.4 1172.6,334.4 1168.1,336.6 1164.1,339.1 1160.5,342.0 1157.3,345.0 1154.7,348.1 1152.7,351.1 1151.1,354.0 1150.0,356.8 1149.4,359.6 1149.2,362.3 1149.6,364.9 1150.7,367.4 1152.6,369.7 1154.8,371.7 1156.8,373.4 1157.9,374.7 1158.4,374.3 1157.2,373.0 1155.6,371.0 1153.9,368.7 1152.6,366.4 1152.0,364.3 1152.0,362.4 1152.5,360.3 1153.3,358.1 1154.5,355.8 1156.2,353.5 1158.4,351.1 1160.9,348.4 1163.7,345.6 1166.9,343.1 1170.4,340.9 1174.5,338.9 1179.3,337.0 1184.3,335.4 1189.2,334.2 1193.9,333.4 1198.7,333.5 1204.0,334.4 1209.3,335.7 1213.9,336.9 1217.1,337.8" fill="#042004"/><polygon points="1158.2,355.0 1160.9,355.1 1164.8,355.3 1169.3,355.5 1173.7,355.9 1177.4,356.5 1180.6,357.7 1183.7,359.6 1186.9,361.8 1190.2,363.8 1193.5,364.8 1196.8,364.8 1199.8,364.0 1202.5,362.9 1204.6,361.7 1206.2,361.1 1206.1,360.7 1204.4,361.1 1202.1,361.7 1199.4,362.2 1196.7,362.4 1194.2,362.0 1191.7,360.7 1188.9,358.9 1185.6,356.7 1182.1,354.5 1178.3,353.1 1174.0,352.5 1169.3,352.8 1164.7,353.5 1160.9,354.2 1158.1,354.6" fill="#062d06"/><polygon points="1164.2,409.1 1165.3,410.0 1166.7,411.6 1168.5,413.3 1170.5,414.9 1172.7,415.9 1175.1,416.4 1177.8,416.6 1180.6,416.5 1183.3,416.1 1185.9,415.3 1188.2,414.2 1190.3,412.8 1192.3,411.0 1194.1,408.7 1195.6,406.0 1196.7,402.6 1197.4,398.7 1198.0,394.6 1198.6,390.7 1199.4,387.2 1200.2,384.0 1201.0,380.8 1201.8,378.0 1203.0,375.4 1204.7,373.1 1207.5,370.8 1211.5,368.6 1215.7,366.5 1219.6,364.8 1222.2,363.6 1222.1,363.2 1219.3,364.1 1215.3,365.3 1210.7,366.8 1206.3,368.7 1202.7,370.9 1200.3,373.6 1198.6,376.6 1197.4,379.8 1196.6,383.0 1195.7,386.3 1194.9,390.0 1194.3,394.1 1193.7,398.1 1193.0,401.7 1192.1,404.5 1190.9,406.7 1189.5,408.5 1188.0,410.0 1186.4,411.3 1184.6,412.4 1182.5,413.3 1180.2,413.9 1177.7,414.3 1175.3,414.4 1173.2,414.2 1171.2,413.6 1169.1,412.4 1167.2,411.0 1165.6,409.7 1164.5,408.8" fill="#042004"/><polygon points="1205.0,391.9 1206.9,391.5 1209.6,391.0 1212.7,390.4 1215.9,390.0 1218.6,390.0 1221.2,390.1 1224.0,390.3 1226.7,390.8 1229.1,391.5 1230.9,392.3 1232.3,393.3 1233.4,394.8 1234.5,396.3 1235.2,397.7 1235.5,398.7 1235.1,399.7 1233.9,401.2 1232.2,402.7 1230.5,404.1 1229.4,405.0 1229.7,405.4 1230.9,404.7 1232.9,403.9 1235.1,402.8 1237.1,401.4 1238.4,399.4 1238.5,397.1 1238.0,394.7 1236.9,392.4 1235.2,390.3 1233.1,388.7 1230.6,387.5 1227.7,386.7 1224.6,386.2 1221.4,385.9 1218.3,386.0 1215.2,386.8 1212.0,388.0 1209.1,389.4 1206.6,390.7 1204.8,391.5" fill="#042004"/><polygon points="1251.4,310.4 1250.9,313.2 1249.8,317.2 1248.8,321.9 1248.0,326.8 1247.8,331.5 1248.3,336.0 1249.4,340.4 1250.7,344.7 1252.0,348.9 1253.0,353.0 1253.9,357.0 1255.0,361.0 1255.9,364.8 1256.4,368.4 1256.4,371.8 1255.8,375.2 1254.6,378.8 1253.1,382.3 1251.3,385.8 1249.4,389.0 1247.5,392.0 1245.5,394.7 1243.2,397.2 1240.7,399.6 1237.8,401.8 1234.5,404.1 1230.8,406.3 1226.7,408.4 1222.3,410.4 1217.9,412.3 1213.0,414.1 1207.4,415.8 1201.9,417.4 1197.2,418.9 1193.8,419.7 1193.9,420.3 1197.3,419.6 1202.3,418.9 1208.0,417.9 1213.8,416.8 1219.0,415.4 1223.7,413.9 1228.4,412.3 1232.8,410.5 1237.1,408.5 1240.9,406.2 1244.2,403.7 1247.1,401.0 1249.6,398.1 1251.9,395.1 1254.0,391.9 1256.0,388.4 1258.0,384.6 1259.7,380.7 1261.0,376.5 1261.8,372.2 1261.8,368.0 1261.2,363.8 1260.2,359.7 1259.0,355.6 1257.8,351.6 1256.3,347.5 1254.7,343.3 1253.0,339.2 1251.6,335.2 1250.7,331.3 1250.4,326.9 1250.6,322.1 1251.1,317.4 1251.5,313.4 1252.0,310.5" fill="#062d06"/><polygon points="1193.7,419.8 1191.2,421.7 1187.4,424.2 1183.1,427.1 1178.7,430.0 1174.7,432.4 1171.0,434.2 1167.1,435.6 1163.2,437.1 1159.4,438.7 1156.0,440.7 1152.9,443.0 1150.3,445.4 1147.9,448.0 1145.6,450.6 1143.3,453.3 1140.9,455.9 1138.5,458.5 1136.1,461.3 1133.8,464.7 1131.9,468.6 1130.4,473.7 1129.2,479.7 1128.2,485.8 1127.5,491.1 1126.9,494.8 1130.3,495.3 1130.9,491.6 1131.7,486.3 1132.6,480.3 1133.8,474.5 1135.2,469.9 1136.9,466.4 1138.9,463.5 1141.1,460.8 1143.5,458.3 1145.9,455.6 1148.2,452.9 1150.5,450.4 1152.7,447.9 1155.2,445.7 1157.9,443.6 1161.0,441.8 1164.5,440.3 1168.3,438.7 1172.2,436.9 1176.0,434.7 1180.0,431.8 1184.2,428.5 1188.1,425.1 1191.5,422.2 1194.0,420.2" fill="#093d09"/><polygon points="1106.5,447.3 1111.1,446.3 1117.6,444.8 1125.1,443.1 1132.5,440.8 1139.0,438.8 1144.8,436.8 1150.4,434.5 1155.7,432.2 1160.0,430.2 1163.1,428.8 1163.0,428.4 1159.7,429.3 1155.1,430.6 1149.6,432.1 1143.7,433.7 1138.0,435.7 1131.5,437.7 1124.2,440.0 1117.0,442.7 1110.8,445.2 1106.4,446.9" fill="#031603"/><polygon points="1175.2,282.3 1175.7,284.5 1176.6,286.5 1177.8,288.2 1179.4,289.7 1181.4,290.9 1181.7,290.7 1181.2,288.4 1180.3,286.4 1179.1,284.7 1177.5,283.3 1175.5,282.0" fill="#031603"/><polygon points="1215.0,282.0 1217.7,284.5 1220.4,287.0 1223.1,289.4 1226.1,291.6 1229.4,293.4 1229.7,293.1 1227.5,290.0 1225.1,287.2 1222.4,284.7 1219.7,282.3 1217.0,279.8" fill="#031603"/><polygon points="1172.9,436.1 1175.8,437.6 1180.0,439.6 1184.7,441.8 1189.5,443.7 1193.3,445.6 1196.2,447.5 1198.9,449.6 1201.4,451.6 1203.4,453.3 1204.8,454.6 1205.0,454.4 1203.8,452.9 1202.2,450.8 1200.1,448.3 1197.5,445.8 1194.4,443.6 1190.4,441.6 1185.6,439.6 1180.6,438.0 1176.1,436.7 1173.0,435.9" fill="#031803"/><polygon points="1093.9,281.1 1094.1,282.9 1094.2,285.5 1094.4,288.6 1094.8,291.9 1095.2,294.9 1095.8,297.9 1096.6,300.8 1097.5,303.6 1098.3,306.3 1099.0,308.8 1099.7,311.1 1100.5,313.2 1101.1,314.9 1101.4,316.2 1101.4,317.4 1100.9,318.7 1100.1,320.3 1099.0,321.9 1097.7,323.2 1096.5,324.2 1095.2,324.9 1093.4,325.6 1091.3,326.0 1089.1,326.2 1087.1,326.2 1085.0,325.8 1082.7,325.0 1080.4,324.1 1078.4,323.2 1077.1,322.5 1076.8,323.0 1078.1,323.8 1079.7,325.3 1081.8,326.8 1084.1,328.2 1086.4,329.2 1088.9,329.8 1091.4,330.0 1094.1,330.0 1096.7,329.6 1099.2,328.8 1101.3,327.2 1103.2,325.3 1104.7,323.1 1105.9,320.8 1106.6,318.3 1106.8,315.8 1106.3,313.4 1105.6,311.3 1104.8,309.3 1104.1,307.2 1103.4,304.8 1102.6,302.1 1101.8,299.3 1101.1,296.6 1100.5,294.0 1100.1,291.2 1099.8,288.2 1099.6,285.2 1099.4,282.6 1099.3,280.7" fill="#062d06"/><polygon points="1096.7,283.4 1096.3,286.9 1096.2,290.4 1096.5,293.8 1097.2,297.3 1098.3,300.6 1098.6,300.6 1099.0,297.1 1099.1,293.6 1098.8,290.2 1098.1,286.7 1097.0,283.4" fill="#105710"/><polygon points="1176.4,365.1 1175.3,366.2 1173.5,367.6 1171.5,369.4 1169.5,371.4 1167.7,373.6 1166.2,375.9 1165.0,378.4 1164.0,381.0 1163.1,383.6 1162.3,386.2 1161.6,388.7 1160.9,391.3 1160.3,394.0 1160.2,396.6 1160.3,399.1 1160.8,401.6 1161.6,403.9 1162.6,406.0 1163.6,407.7 1164.1,409.0 1164.5,408.8 1164.2,407.5 1163.9,405.6 1163.5,403.4 1163.3,401.2 1163.4,399.1 1163.8,397.0 1164.4,394.7 1165.0,392.3 1165.6,389.8 1166.3,387.4 1167.1,384.9 1168.0,382.4 1168.9,380.0 1169.9,377.6 1170.7,375.3 1171.8,373.1 1173.2,370.8 1174.6,368.6 1175.9,366.7 1176.8,365.4" fill="#093d09"/><polygon points="1174.0,368.2 1172.0,370.7 1170.3,373.2 1168.8,375.9 1167.6,378.8 1166.7,381.8 1166.9,381.9 1168.9,379.5 1170.6,376.9 1172.1,374.2 1173.3,371.4 1174.3,368.4" fill="#105710"/><polygon points="1125.9,348.9 1127.4,350.7 1129.4,353.4 1131.7,356.6 1133.8,359.9 1135.4,363.1 1136.5,366.4 1137.3,370.0 1138.2,373.6 1138.8,377.3 1139.2,380.8 1139.3,384.2 1139.0,387.8 1138.4,391.4 1137.7,394.9 1136.9,398.3 1136.1,401.7 1135.2,405.1 1134.2,408.4 1133.1,411.5 1132.1,414.4 1131.1,417.0 1130.0,419.4 1128.9,421.6 1127.9,423.5 1127.1,424.7 1127.7,425.1 1128.5,423.9 1129.9,422.3 1131.6,420.4 1133.3,418.2 1134.9,415.8 1136.5,413.1 1138.2,410.1 1139.8,406.8 1141.3,403.4 1142.5,399.8 1143.4,396.2 1144.2,392.4 1144.8,388.5 1145.1,384.5 1145.1,380.4 1144.6,376.4 1143.9,372.3 1142.6,368.4 1141.0,364.6 1139.1,361.2 1136.7,357.9 1133.7,354.9 1130.8,352.2 1128.1,350.1 1126.4,348.4" fill="#105710"/><polygon points="1126.3,434.8 1128.0,433.0 1129.4,430.9 1130.4,428.7 1131.0,426.3 1131.2,423.8 1130.9,423.6 1129.2,425.5 1127.8,427.6 1126.8,429.8 1126.2,432.2 1126.0,434.7" fill="#093d09"/><polygon points="1106.6,458.3 1107.9,457.8 1109.9,457.2 1112.1,456.5 1114.5,455.7 1116.8,454.8 1119.6,453.9 1123.0,453.1 1126.3,451.8 1129.1,450.6 1131.1,449.7 1131.0,449.3 1128.9,449.4 1125.7,449.6 1122.2,449.9 1118.7,450.8 1115.8,451.7 1113.2,452.7 1111.0,454.2 1109.0,455.7 1107.5,457.1 1106.4,458.0" fill="#093d09"/></g><circle cx="1179.08" cy="300.62" r="1.50" fill="#248124" filter="url(#b1)"/><circle cx="1192.62" cy="304.92" r="1.50" fill="#248124" filter="url(#b1)"/><circle cx="1197.54" cy="362.77" r="1.80" fill="#115d11" filter="url(#b1)"/><circle cx="1227.08" cy="408.92" r="1.65" fill="#115d11" filter="url(#b1)"/><circle cx="1208.62" cy="417.54" r="1.65" fill="#115d11" filter="url(#b1)"/><circle cx="1126.15" cy="450.15" r="1.35" fill="#248124" filter="url(#b1)"/></g><g clip-path="url(#cb11)"><rect x="1266.7" y="279.7" width="216.2" height="215.8" fill="#000100"/><g filter="url(#b4)"><polygon points="1284.9,300.5 1283.6,303.4 1281.6,307.5 1279.4,312.3 1277.4,317.5 1276.1,322.6 1275.7,327.6 1275.9,332.9 1276.5,338.1 1277.4,343.2 1278.4,347.9 1279.8,352.2 1281.5,356.3 1283.5,360.0 1285.7,363.4 1287.8,366.5 1290.1,369.5 1292.6,372.3 1295.0,374.8 1297.1,376.8 1298.5,378.3 1298.9,378.0 1297.5,376.4 1295.8,374.1 1293.8,371.3 1291.7,368.3 1289.9,365.2 1288.2,361.9 1286.5,358.4 1284.9,354.7 1283.3,350.9 1282.0,346.9 1281.0,342.4 1280.2,337.6 1279.6,332.6 1279.4,327.6 1279.4,323.0 1280.1,318.2 1281.4,313.0 1282.9,308.0 1284.3,303.7 1285.4,300.7" fill="#041e04"/><polygon points="1326.9,364.4 1324.5,365.6 1321.0,367.2 1317.0,369.0 1312.9,371.1 1309.0,373.2 1305.3,375.2 1301.5,377.3 1297.7,379.6 1294.1,382.3 1291.0,385.4 1288.2,388.9 1285.7,392.8 1283.6,396.8 1281.9,400.9 1280.7,404.7 1279.9,408.3 1279.8,411.9 1280.2,415.4 1281.1,418.7 1282.6,421.9 1285.1,425.1 1288.4,428.2 1292.0,430.9 1295.2,433.2 1297.3,435.0 1297.6,434.6 1295.6,432.7 1292.9,430.0 1289.8,426.8 1287.0,423.5 1285.2,420.5 1284.3,417.7 1283.8,414.9 1283.8,411.9 1284.1,408.9 1284.7,405.8 1285.8,402.3 1287.4,398.6 1289.4,394.9 1291.6,391.3 1294.1,388.2 1296.9,385.5 1300.1,383.0 1303.6,380.6 1307.1,378.1 1310.6,375.7 1314.1,373.2 1318.0,370.7 1321.7,368.3 1324.8,366.2 1327.1,364.8" fill="#041e04"/><polygon points="1361.4,326.8 1359.3,327.2 1356.2,327.4 1352.7,327.9 1349.1,328.7 1345.8,329.9 1343.1,331.6 1340.6,333.5 1338.3,335.8 1336.3,338.4 1334.6,341.4 1333.2,344.7 1332.0,348.3 1331.1,352.1 1330.4,355.9 1330.1,359.6 1330.2,363.2 1330.6,366.7 1331.6,370.1 1332.8,373.2 1334.0,376.3 1335.7,379.4 1337.7,382.5 1339.7,385.3 1341.6,387.6 1342.7,389.4 1343.3,389.1 1342.2,387.2 1341.0,384.5 1339.6,381.4 1338.2,378.2 1337.2,375.1 1336.5,372.1 1335.8,369.0 1335.4,365.9 1335.1,362.8 1335.0,359.8 1335.3,356.5 1335.9,353.1 1336.7,349.7 1337.8,346.4 1339.0,343.6 1340.5,341.1 1342.0,338.7 1343.6,336.5 1345.5,334.6 1347.5,332.8 1350.1,331.3 1353.2,330.0 1356.5,328.9 1359.5,327.9 1361.5,327.4" fill="#062a06"/><polygon points="1359.0,294.7 1361.1,294.3 1363.9,293.9 1367.3,293.5 1370.6,293.4 1373.6,293.7 1376.5,294.5 1379.6,295.7 1382.5,297.2 1385.1,298.9 1387.2,300.7 1388.9,302.7 1390.2,304.9 1391.3,307.5 1392.1,310.3 1392.9,313.3 1393.3,316.5 1393.3,320.1 1393.3,324.0 1393.2,327.9 1393.5,331.5 1394.0,334.8 1394.6,337.9 1395.4,340.9 1396.3,343.8 1397.4,346.6 1398.9,349.4 1400.8,352.2 1402.8,354.8 1404.5,357.0 1405.6,358.6 1406.0,358.3 1404.9,356.7 1403.5,354.3 1402.0,351.5 1400.5,348.6 1399.4,345.8 1398.6,343.1 1398.1,340.3 1397.7,337.4 1397.4,334.4 1397.1,331.2 1397.0,327.8 1397.0,324.1 1397.1,320.1 1397.0,316.2 1396.5,312.6 1395.8,309.3 1394.8,306.2 1393.6,303.2 1391.9,300.5 1389.8,298.0 1387.1,296.0 1384.0,294.3 1380.6,293.0 1377.2,292.1 1373.9,291.5 1370.6,291.5 1367.1,292.1 1363.7,293.0 1361.0,293.8 1359.0,294.2" fill="#062a06"/><polygon points="1393.3,306.8 1393.2,310.3 1393.1,315.4 1393.1,321.2 1393.5,326.8 1394.0,331.5 1394.7,335.4 1395.7,338.9 1396.7,341.9 1397.6,344.4 1398.2,346.2 1398.5,346.1 1398.2,344.2 1397.9,341.6 1397.5,338.5 1397.0,335.0 1396.6,331.2 1396.1,326.6 1395.7,321.0 1395.0,315.3 1394.2,310.2 1393.6,306.8" fill="#083b08"/><polygon points="1390.9,360.7 1388.1,361.2 1383.9,361.8 1379.2,362.6 1374.4,363.7 1370.3,365.2 1367.0,367.0 1364.1,369.2 1361.6,371.6 1359.3,374.1 1357.1,376.8 1355.2,379.8 1353.8,382.9 1352.5,386.0 1351.3,389.0 1350.0,391.8 1348.0,394.9 1345.5,398.2 1343.0,401.5 1340.7,404.3 1339.1,406.3 1339.5,406.7 1341.4,405.0 1344.2,402.7 1347.4,399.9 1350.5,397.0 1353.2,394.0 1355.3,391.0 1356.8,387.8 1358.1,384.8 1359.3,382.0 1360.9,379.5 1362.8,377.1 1364.9,374.9 1367.1,372.8 1369.6,370.8 1372.3,369.0 1375.7,367.1 1380.0,365.3 1384.4,363.6 1388.3,362.2 1391.1,361.2" fill="#062a06"/><polygon points="1339.1,406.2 1336.6,407.2 1332.9,408.5 1328.7,410.2 1324.4,412.1 1320.5,414.4 1317.3,417.0 1314.6,419.9 1312.2,423.0 1309.9,426.1 1307.5,429.3 1304.8,432.6 1302.0,436.1 1299.1,439.7 1296.6,443.4 1294.4,447.0 1292.3,450.6 1290.4,454.3 1288.6,457.8 1287.3,460.8 1286.1,462.9 1286.7,463.3 1288.1,461.4 1290.2,458.9 1292.7,455.9 1295.4,452.7 1298.0,449.6 1300.8,446.6 1303.7,443.3 1306.5,439.7 1309.4,436.2 1312.1,432.9 1314.6,429.6 1316.9,426.5 1319.1,423.6 1321.3,420.8 1323.6,418.2 1326.6,415.6 1330.2,412.9 1333.9,410.4 1337.1,408.2 1339.5,406.8" fill="#083b08"/><polygon points="1351.5,426.0 1349.4,427.3 1346.2,429.1 1342.7,431.3 1339.0,433.6 1335.8,436.1 1333.1,438.7 1330.5,441.4 1327.9,444.2 1325.5,447.1 1323.4,449.9 1321.4,453.0 1319.6,456.3 1318.0,459.5 1316.8,462.3 1315.8,464.2 1316.1,464.4 1317.3,462.6 1319.1,460.2 1321.2,457.3 1323.4,454.4 1325.7,451.7 1327.9,449.0 1330.2,446.2 1332.7,443.5 1335.2,440.9 1337.9,438.4 1340.7,435.7 1343.9,432.9 1347.1,430.2 1349.8,427.9 1351.7,426.3" fill="#041f04"/><polygon points="1428.9,351.1 1428.5,353.6 1427.8,357.1 1427.1,361.3 1426.5,365.6 1426.3,369.6 1426.5,373.4 1427.2,376.9 1428.1,380.4 1429.0,383.8 1429.8,387.2 1430.5,390.7 1431.3,394.2 1432.1,397.8 1433.0,401.1 1434.0,404.3 1435.0,407.4 1436.1,410.6 1437.2,413.4 1438.2,415.8 1438.8,417.6 1439.2,417.5 1438.8,415.7 1438.3,413.1 1437.8,410.1 1437.2,406.9 1436.6,403.7 1436.1,400.4 1435.6,397.0 1434.9,393.5 1434.2,389.9 1433.4,386.4 1432.6,382.9 1431.7,379.5 1430.9,376.1 1430.2,372.8 1429.6,369.4 1429.3,365.7 1429.2,361.4 1429.2,357.3 1429.3,353.6 1429.4,351.1" fill="#062a06"/><polygon points="1449.8,400.2 1449.0,402.5 1447.8,405.7 1446.4,409.4 1445.2,413.4 1444.1,417.2 1443.3,420.9 1442.7,424.7 1442.3,428.7 1442.2,432.6 1442.5,436.4 1443.2,439.9 1444.2,443.3 1445.5,446.6 1447.4,449.5 1449.6,452.2 1452.6,454.6 1456.0,456.7 1459.5,458.4 1462.6,459.8 1464.7,460.9 1465.0,460.3 1463.1,458.9 1460.6,456.8 1457.7,454.4 1455.0,451.8 1453.0,449.4 1451.6,446.9 1450.4,444.2 1449.3,441.5 1448.4,438.6 1447.8,435.6 1447.6,432.5 1447.7,429.0 1448.0,425.3 1448.5,421.6 1448.6,417.9 1448.9,414.1 1449.3,410.0 1449.7,406.1 1450.0,402.7 1450.4,400.4" fill="#083b08"/><polygon points="1446.3,383.3 1448.2,384.2 1450.7,385.7 1453.7,387.4 1456.6,389.3 1458.9,391.5 1460.8,394.1 1462.7,397.2 1464.5,400.5 1466.4,404.0 1468.1,407.3 1469.9,410.5 1471.5,413.7 1473.1,416.8 1474.5,419.9 1475.7,422.8 1476.6,426.1 1477.2,429.7 1477.6,433.2 1478.0,436.3 1478.2,438.5 1478.6,438.5 1478.6,436.3 1478.9,433.2 1479.1,429.6 1479.0,425.7 1478.6,422.1 1477.7,418.7 1476.5,415.3 1474.9,412.0 1473.2,408.8 1471.4,405.6 1469.7,402.3 1467.8,398.7 1465.8,395.3 1463.5,392.1 1460.9,389.4 1457.9,387.3 1454.5,385.7 1451.3,384.5 1448.4,383.6 1446.5,382.9" fill="#041e04"/><polygon points="1421.5,447.0 1420.8,449.1 1419.6,452.1 1418.4,455.7 1417.4,459.5 1417.1,463.3 1417.9,466.9 1419.2,470.3 1420.7,473.6 1422.1,476.7 1423.4,479.8 1424.5,483.3 1425.6,487.1 1426.7,490.8 1427.6,494.0 1428.2,496.3 1432.5,495.1 1431.9,492.8 1431.0,489.6 1429.9,485.9 1428.7,482.0 1427.6,478.3 1426.2,475.0 1424.7,471.7 1423.3,468.6 1422.1,465.6 1421.5,462.8 1421.1,459.7 1421.2,456.2 1421.5,452.5 1421.8,449.4 1422.0,447.1" fill="#062a06"/><polygon points="1474.5,282.1 1472.2,284.3 1470.3,286.8 1468.8,289.5 1467.8,292.4 1467.1,295.6 1467.5,295.8 1469.8,293.5 1471.7,291.1 1473.2,288.4 1474.2,285.4 1474.9,282.2" fill="#062a06"/><polygon points="1435.4,487.8 1437.2,486.9 1439.8,485.6 1442.6,484.1 1445.3,483.1 1447.4,482.8 1449.6,483.7 1452.3,485.8 1455.3,488.0 1457.9,490.1 1459.8,491.5 1460.0,491.3 1458.6,489.5 1456.5,486.8 1454.0,483.8 1450.9,481.5 1447.8,480.3 1444.6,480.6 1441.6,482.1 1438.9,484.3 1436.8,486.3 1435.2,487.6" fill="#031703"/><polygon points="1277.6,319.1 1277.1,320.9 1276.8,322.6 1277.0,324.3 1277.4,326.0 1278.2,327.7 1278.5,327.7 1279.1,325.9 1279.3,324.2 1279.2,322.4 1278.7,320.7 1277.9,319.1" fill="#062a06"/></g><circle cx="1440.85" cy="410.77" r="2.10" fill="#177b17" filter="url(#b1)"/><circle cx="1471" cy="410.77" r="1.80" fill="#136913" filter="url(#b1)"/></g><g clip-path="url(#cb12)"><rect x="1489.7" y="279.7" width="216.2" height="215.8" fill="#000100"/><g filter="url(#b4)"><polygon points="1488.7,351.1 1490.7,351.9 1493.5,353.0 1496.7,354.2 1500.1,355.7 1503.2,357.2 1506.5,359.0 1510.2,361.1 1514.2,362.7 1517.8,364.0 1520.3,364.9 1520.6,364.3 1518.8,362.5 1516.1,359.7 1512.9,356.7 1509.2,354.3 1505.7,352.4 1502.3,350.8 1498.8,349.3 1495.4,347.9 1492.6,346.9 1490.7,346.1" fill="#052805"/><polygon points="1515.3,283.7 1517.5,285.6 1520.4,288.6 1523.9,292.0 1527.8,295.4 1531.7,298.6 1535.9,301.3 1540.4,303.9 1545.0,306.4 1549.4,308.8 1553.5,311.1 1557.4,312.9 1561.2,314.6 1564.6,316.1 1567.6,317.6 1570.1,319.3 1572.3,321.2 1574.2,323.2 1575.8,325.2 1576.8,327.2 1577.4,329.4 1577.5,332.1 1577.0,335.4 1576.1,339.1 1575.0,342.8 1573.9,346.3 1573.0,349.3 1571.8,352.1 1570.4,355.0 1569.0,358.0 1567.6,361.1 1566.1,364.4 1564.6,367.8 1563.1,371.3 1561.8,374.8 1561.1,378.0 1561.2,380.9 1562.0,383.7 1563.0,386.0 1563.9,387.9 1564.4,389.4 1565.2,389.1 1564.7,387.7 1564.0,385.7 1563.4,383.3 1563.2,380.8 1563.5,378.4 1564.5,375.7 1566.1,372.8 1568.0,369.6 1570.0,366.4 1571.8,363.2 1573.5,360.4 1575.2,357.7 1577.0,354.9 1578.7,351.8 1580.2,348.5 1581.5,344.8 1582.7,340.9 1583.7,336.7 1584.3,332.5 1584.1,328.4 1583.1,324.8 1581.5,321.6 1579.4,318.8 1576.9,316.3 1574.2,313.9 1571.1,311.8 1567.6,310.0 1563.9,308.3 1560.2,306.7 1556.4,304.9 1552.1,303.1 1547.4,301.3 1542.6,299.4 1538.0,297.4 1533.8,295.3 1529.7,292.9 1525.5,290.1 1521.5,287.3 1518.1,284.9 1515.8,283.1" fill="#083808"/><polygon points="1491.0,314.8 1493.7,314.7 1497.5,314.6 1501.8,314.4 1506.2,314.5 1510.2,314.8 1514.0,315.5 1518.1,316.5 1522.0,317.7 1525.7,319.1 1528.8,320.6 1531.5,322.3 1534.0,324.1 1536.0,326.0 1537.5,327.9 1538.4,329.8 1538.6,331.8 1538.5,334.5 1538.0,337.6 1537.4,341.0 1536.9,344.5 1536.5,348.0 1536.1,351.8 1535.6,355.5 1535.3,358.6 1534.9,360.8 1535.6,361.0 1536.2,358.9 1537.4,355.9 1538.7,352.4 1539.9,348.8 1541.0,345.4 1542.0,342.2 1543.3,339.0 1544.4,335.5 1544.9,331.8 1544.4,328.0 1542.9,324.7 1540.7,321.8 1538.0,319.3 1535.1,317.0 1531.8,315.1 1528.2,313.3 1524.1,311.7 1519.7,310.4 1515.4,309.4 1511.0,308.6 1506.5,308.1 1501.8,308.1 1497.2,308.2 1493.5,308.4 1490.8,308.5" fill="#083808"/><polygon points="1486.5,323.9 1487.2,325.8 1488.1,328.7 1489.3,332.2 1490.9,335.9 1493.1,339.5 1495.7,342.8 1498.6,346.0 1501.9,349.1 1505.2,352.1 1508.5,354.9 1511.8,357.5 1515.3,359.9 1518.7,362.1 1521.8,364.2 1524.6,366.1 1527.0,368.0 1529.1,369.7 1531.2,371.5 1533.4,373.2 1535.9,374.9 1538.6,376.5 1541.6,378.3 1544.7,380.0 1548.1,381.2 1551.5,381.5 1554.7,380.6 1557.3,378.8 1559.2,376.4 1560.7,373.6 1561.9,370.4 1562.6,366.7 1562.8,362.6 1562.6,358.2 1562.5,353.9 1562.4,350.0 1562.4,346.2 1562.6,342.3 1562.7,338.5 1562.6,334.8 1562.4,331.3 1561.9,328.0 1561.1,324.8 1560.1,321.9 1559.4,319.5 1559.0,317.8 1558.2,317.9 1558.6,319.7 1559.1,322.2 1559.4,325.1 1559.7,328.3 1559.7,331.4 1559.5,334.7 1559.0,338.2 1558.5,341.9 1557.9,345.8 1557.3,349.7 1556.9,353.8 1556.7,358.1 1556.3,362.2 1555.9,365.8 1555.3,368.6 1554.5,370.8 1553.6,372.6 1552.6,373.9 1551.7,374.5 1551.0,374.8 1549.7,374.6 1547.5,373.8 1544.9,372.4 1542.1,370.7 1539.5,369.1 1537.4,367.7 1535.5,366.2 1533.5,364.5 1531.2,362.7 1528.6,360.6 1525.6,358.6 1522.4,356.5 1519.1,354.3 1515.8,352.1 1512.8,349.7 1509.7,347.0 1506.5,344.2 1503.5,341.3 1500.8,338.3 1498.6,335.6 1497.0,332.8 1495.6,329.7 1494.5,326.5 1493.6,323.7 1492.9,321.7" fill="#0c4c0c"/><polygon points="1594.0,299.5 1594.8,302.1 1595.8,305.9 1597.0,310.3 1598.2,314.7 1599.3,318.7 1600.1,322.3 1600.9,325.7 1601.9,329.1 1602.8,332.4 1603.5,335.8 1604.3,339.2 1605.0,342.7 1605.6,346.1 1605.9,349.3 1605.9,352.1 1605.8,354.7 1605.3,357.4 1604.6,360.0 1603.7,362.5 1602.7,364.9 1601.4,367.1 1599.8,369.2 1598.0,371.3 1596.5,373.1 1595.3,374.2 1595.8,374.7 1597.0,373.7 1599.0,372.4 1601.3,370.9 1603.7,369.0 1605.6,366.8 1607.3,364.5 1608.9,361.9 1610.3,359.1 1611.5,355.9 1612.2,352.5 1612.2,348.9 1611.9,345.2 1611.2,341.6 1610.5,337.9 1609.7,334.4 1608.9,330.9 1608.0,327.4 1607.0,323.9 1605.6,320.5 1604.1,317.0 1602.3,313.2 1600.1,309.0 1597.9,305.1 1595.9,301.7 1594.7,299.2" fill="#083808"/><polygon points="1616.2,337.6 1616.9,340.0 1617.6,343.4 1618.5,347.4 1619.3,351.4 1619.7,355.0 1619.9,358.4 1620.0,361.9 1619.8,365.2 1619.4,368.4 1618.8,371.4 1617.9,374.3 1616.8,377.2 1615.3,380.0 1613.7,382.7 1611.9,385.1 1610.0,387.3 1607.9,389.3 1605.6,391.1 1603.2,392.7 1600.5,394.2 1597.7,395.4 1594.6,396.6 1591.2,397.7 1587.7,398.7 1584.1,399.8 1580.1,400.9 1575.6,402.1 1571.2,403.3 1567.4,404.3 1564.7,404.9 1564.8,405.5 1567.6,405.2 1571.5,404.9 1576.0,404.4 1580.7,403.9 1584.8,403.3 1588.6,402.7 1592.3,402.1 1596.0,401.4 1599.5,400.5 1602.9,399.0 1605.9,397.3 1608.8,395.4 1611.4,393.3 1613.9,391.0 1616.1,388.5 1618.1,385.7 1620.0,382.7 1621.6,379.4 1623.0,376.1 1624.0,372.6 1624.5,369.0 1624.5,365.3 1624.2,361.7 1623.7,358.1 1623.0,354.5 1622.0,350.7 1620.6,346.7 1619.0,343.0 1617.6,339.8 1616.8,337.4" fill="#083808"/><polygon points="1627.0,384.2 1625.9,387.1 1624.1,391.2 1622.1,395.9 1620.0,400.2 1618.0,403.4 1616.0,405.6 1614.0,407.7 1612.0,409.5 1609.8,411.0 1607.4,412.2 1604.8,413.0 1601.4,413.4 1597.6,413.6 1593.6,413.8 1589.8,414.6 1586.6,415.8 1583.7,417.0 1580.9,418.3 1578.5,420.0 1576.4,422.3 1575.4,425.1 1575.4,428.1 1575.9,430.9 1576.5,433.2 1576.5,434.8 1577.6,434.8 1577.6,433.1 1578.0,430.8 1578.5,428.3 1579.3,426.3 1580.2,425.1 1581.4,424.5 1583.3,424.0 1585.7,423.6 1588.5,423.2 1591.4,422.9 1594.5,422.7 1598.1,422.5 1602.2,422.2 1606.6,421.7 1610.7,420.4 1614.3,418.6 1617.5,416.5 1620.4,413.9 1622.9,410.8 1624.8,407.1 1626.2,402.5 1627.1,397.3 1627.5,392.0 1627.7,387.5 1628.1,384.4" fill="#052805"/><polygon points="1637.0,352.2 1636.0,354.5 1634.3,357.6 1632.5,361.3 1630.6,365.1 1628.7,368.6 1627.0,372.0 1625.4,375.5 1623.9,378.8 1622.4,382.0 1620.8,384.8 1618.9,387.4 1616.8,389.9 1614.6,392.2 1612.2,394.2 1609.7,396.0 1606.9,397.4 1603.7,398.8 1600.3,400.3 1596.7,401.7 1593.5,403.2 1590.6,405.0 1587.8,406.8 1585.4,408.6 1583.4,410.1 1581.8,411.0 1582.2,411.8 1583.8,411.0 1586.2,410.2 1589.0,409.2 1592.1,408.1 1595.1,407.2 1598.3,406.5 1601.9,405.9 1605.8,405.1 1609.8,404.0 1613.4,402.2 1616.6,400.0 1619.5,397.5 1622.2,394.8 1624.6,391.9 1626.9,388.7 1628.9,385.3 1630.6,381.6 1631.8,377.9 1632.8,374.1 1633.7,370.5 1634.7,366.6 1635.7,362.4 1636.5,358.3 1637.1,354.8 1637.8,352.5" fill="#083808"/><polygon points="1569.8,384.6 1571.9,384.2 1574.8,383.6 1578.2,383.0 1581.7,382.5 1585.0,382.0 1588.3,381.6 1592.1,381.3 1596.0,381.2 1599.8,381.0 1603.1,380.4 1606.0,379.6 1608.6,378.9 1610.8,378.2 1612.7,377.6 1614.0,377.2 1614.0,376.6 1612.6,376.6 1610.6,376.4 1608.3,376.3 1605.6,376.1 1602.8,375.9 1599.5,375.7 1595.8,375.8 1591.8,375.9 1587.8,376.2 1584.0,376.7 1580.4,378.0 1577.0,379.6 1573.9,381.4 1571.4,383.0 1569.6,384.0" fill="#083808"/><polygon points="1535.5,420.4 1537.6,418.9 1540.7,417.2 1544.2,415.2 1547.9,413.0 1551.5,411.1 1554.9,409.4 1558.4,407.7 1561.9,406.0 1565.3,404.1 1568.7,402.5 1572.3,401.2 1576.1,400.0 1580.1,398.9 1584.2,397.8 1588.2,396.5 1591.9,394.9 1595.5,393.0 1599.0,391.1 1602.2,389.2 1605.1,387.3 1607.6,385.3 1609.8,383.2 1611.6,381.2 1613.1,379.5 1614.3,378.5 1613.7,377.8 1612.5,378.8 1610.6,380.0 1608.4,381.3 1605.9,382.6 1603.2,383.8 1600.2,384.9 1596.8,386.0 1593.1,387.1 1589.4,388.2 1585.7,389.4 1582.0,390.6 1578.1,391.7 1574.0,392.8 1569.8,394.1 1565.8,395.6 1561.9,397.4 1558.2,399.4 1554.8,401.7 1551.6,404.2 1548.5,406.7 1545.4,409.4 1542.2,412.4 1539.2,415.4 1536.8,418.0 1535.0,419.6" fill="#0c4c0c"/><polygon points="1545.3,413.0 1548.6,411.4 1553.4,409.2 1558.8,406.7 1564.2,404.3 1568.7,402.1 1572.4,400.6 1576.1,399.5 1579.9,398.6 1583.9,397.5 1588.1,396.1 1592.6,393.7 1597.2,390.8 1601.6,387.9 1605.3,385.2 1608.0,383.4 1607.7,382.7 1604.6,383.8 1600.3,385.1 1595.2,386.7 1590.2,388.4 1585.7,389.8 1582.0,391.0 1578.2,392.0 1574.3,393.0 1570.2,394.2 1565.8,396.0 1561.0,398.7 1556.2,402.5 1551.5,406.4 1547.7,409.9 1544.9,412.3" fill="#1f8c1f"/><polygon points="1588.2,406.6 1590.3,406.1 1593.3,405.3 1596.6,404.2 1599.7,402.8 1602.3,401.6 1604.4,400.4 1606.4,399.1 1608.0,397.9 1609.4,396.9 1610.4,396.2 1610.2,395.8 1609.1,396.2 1607.4,396.7 1605.5,397.4 1603.3,398.1 1601.1,399.0 1598.5,400.2 1595.4,401.7 1592.4,403.4 1589.9,405.1 1588.1,406.3" fill="#48bb48"/><polygon points="1564.6,406.8 1565.8,407.3 1567.4,408.1 1569.0,409.2 1570.2,410.4 1570.7,411.8 1570.6,413.9 1569.9,416.9 1569.0,420.3 1568.1,424.0 1568.0,427.5 1568.4,430.5 1568.9,433.3 1569.7,435.9 1570.7,438.5 1572.1,441.1 1573.8,443.8 1575.9,446.4 1578.0,448.9 1580.4,451.2 1582.6,453.4 1585.0,456.0 1587.7,458.9 1590.3,461.6 1592.5,464.0 1594.0,465.7 1594.6,465.3 1593.4,463.4 1591.9,460.4 1590.1,457.1 1588.2,453.7 1586.3,450.6 1584.4,447.7 1582.4,445.1 1580.4,442.7 1578.6,440.4 1577.1,438.2 1576.1,436.1 1575.2,434.0 1574.6,431.9 1574.1,429.6 1573.8,427.3 1573.9,424.5 1574.0,421.1 1574.2,417.4 1574.2,414.0 1573.6,411.0 1572.0,408.8 1569.9,407.6 1567.8,406.9 1566.0,406.6 1564.9,406.1" fill="#0c4c0c"/><polygon points="1613.7,434.9 1614.6,436.9 1615.8,439.8 1617.0,443.0 1617.9,446.1 1618.2,448.5 1617.8,450.3 1617.0,452.1 1615.9,453.9 1614.4,455.7 1612.9,457.4 1611.2,459.1 1609.2,460.8 1607.0,462.4 1604.7,464.0 1602.6,465.3 1600.8,466.2 1599.2,466.9 1597.6,467.4 1595.7,468.0 1593.3,468.7 1590.6,469.7 1587.7,470.9 1585.1,472.0 1582.5,472.8 1580.0,473.0 1576.8,472.2 1572.8,470.5 1568.7,468.5 1565.0,466.6 1562.5,465.2 1562.1,465.9 1564.4,467.6 1567.5,470.3 1571.2,473.4 1575.1,476.0 1579.0,477.8 1582.9,478.2 1586.7,477.8 1590.0,476.8 1592.9,475.6 1595.3,474.7 1597.5,474.1 1599.5,473.5 1601.5,472.8 1603.6,471.9 1605.7,470.7 1608.1,469.3 1610.6,467.6 1613.2,465.7 1615.6,463.6 1617.6,461.4 1619.1,459.0 1620.5,456.6 1621.5,453.9 1622.1,451.1 1622.1,448.1 1621.1,445.0 1619.4,441.8 1617.3,438.9 1615.4,436.4 1614.3,434.6" fill="#0c4c0c"/><polygon points="1569.6,455.8 1571.2,456.8 1573.4,458.3 1576.1,459.9 1578.9,461.5 1581.5,462.8 1584.2,464.1 1587.1,465.4 1590.0,466.6 1592.5,467.5 1594.3,468.1 1594.4,467.9 1592.8,466.9 1590.6,465.4 1587.9,463.8 1585.1,462.2 1582.5,460.9 1579.8,459.6 1576.9,458.2 1574.0,457.1 1571.5,456.2 1569.7,455.6" fill="#0c4c0c"/><polygon points="1665.3,317.8 1664.9,320.2 1663.9,323.5 1662.9,327.4 1662.2,331.5 1662.1,335.4 1662.4,338.9 1663.2,342.4 1664.5,345.7 1666.3,348.9 1668.4,351.8 1671.0,354.3 1674.0,356.6 1677.4,358.6 1681.0,360.2 1684.9,361.3 1689.3,361.7 1694.1,361.5 1698.7,361.0 1702.7,360.5 1705.4,360.1 1704.7,354.3 1701.9,354.7 1698.0,355.2 1693.6,355.7 1689.4,355.9 1685.9,355.6 1683.0,354.7 1680.1,353.4 1677.3,351.8 1674.8,349.9 1672.8,347.9 1671.2,345.7 1669.8,343.3 1668.7,340.5 1667.7,337.7 1666.8,334.8 1666.3,331.5 1666.0,327.7 1666.0,323.7 1665.9,320.3 1666.0,317.9" fill="#083808"/><polygon points="1648.1,416.5 1649.4,418.9 1651.1,422.5 1652.9,426.6 1654.8,430.7 1656.2,434.4 1657.0,437.7 1657.5,441.1 1658.0,444.6 1658.9,448.3 1660.3,452.1 1662.2,455.8 1664.4,459.5 1666.8,463.1 1669.3,466.6 1671.8,470.0 1674.6,473.2 1677.5,476.4 1680.4,479.4 1683.1,482.2 1685.4,484.8 1687.5,487.5 1689.5,490.3 1691.2,492.9 1692.7,495.2 1693.8,496.8 1699.1,493.3 1698.0,491.7 1696.5,489.4 1694.7,486.7 1692.6,483.7 1690.3,480.8 1687.7,477.9 1684.9,475.0 1682.1,472.0 1679.3,469.1 1676.8,466.0 1674.4,462.8 1672.0,459.5 1669.8,456.1 1667.8,452.7 1666.1,449.5 1664.9,446.4 1664.1,443.2 1663.2,439.8 1662.0,436.2 1660.4,432.6 1658.2,428.9 1655.6,425.1 1652.8,421.4 1650.3,418.4 1648.8,416.1" fill="#083808"/><polygon points="1705.7,424.7 1702.4,424.7 1699.0,424.7 1695.7,424.7 1692.4,425.5 1689.1,427.1 1689.1,427.7 1692.4,429.3 1695.7,430.1 1699.0,430.1 1702.4,430.1 1705.7,430.1" fill="#083808"/><polygon points="1703.2,379.2 1701.4,380.9 1698.9,383.2 1695.9,386.0 1692.9,388.9 1690.2,391.6 1687.8,394.0 1685.4,396.4 1683.0,398.9 1680.7,401.6 1678.6,404.5 1676.9,407.7 1675.5,410.9 1674.3,414.1 1673.2,417.1 1672.1,419.9 1671.1,422.7 1670.3,425.6 1669.6,428.4 1669.0,431.2 1668.4,434.1 1667.9,437.2 1667.4,440.4 1667.1,443.6 1666.9,446.3 1666.5,448.2 1667.3,448.4 1667.9,446.6 1669.1,444.1 1670.3,441.2 1671.6,438.2 1672.8,435.5 1674.0,432.9 1675.3,430.4 1676.5,427.9 1677.8,425.3 1678.9,422.5 1680.0,419.5 1681.1,416.5 1682.2,413.6 1683.4,410.9 1684.8,408.4 1686.4,406.1 1688.4,403.8 1690.6,401.5 1692.9,399.1 1695.3,396.7 1698.0,394.1 1700.9,391.3 1703.8,388.5 1706.4,386.2 1708.2,384.5" fill="#0c4c0c"/><polygon points="1704.4,406.2 1702.8,406.9 1700.5,408.0 1697.8,409.3 1694.9,410.8 1692.2,412.6 1689.7,414.6 1687.3,416.8 1684.9,419.2 1682.6,421.7 1680.5,424.4 1678.8,427.5 1677.5,431.1 1676.5,434.5 1675.8,437.5 1675.2,439.5 1675.9,439.9 1677.1,438.1 1679.0,435.8 1681.2,433.0 1683.4,430.3 1685.4,427.9 1687.2,425.7 1689.3,423.4 1691.4,421.2 1693.7,419.3 1695.8,417.5 1698.0,416.0 1700.6,414.7 1703.1,413.5 1705.4,412.4 1707.0,411.7" fill="#0c4c0c"/><polygon points="1532.9,492.8 1534.3,492.1 1536.2,491.0 1538.3,489.9 1540.2,488.9 1541.8,488.2 1543.6,488.0 1546.0,488.1 1548.5,488.0 1550.8,488.0 1552.4,487.9 1552.5,487.5 1551.0,486.8 1548.9,485.8 1546.4,484.9 1543.6,484.5 1541.0,484.8 1538.5,485.8 1536.4,487.4 1534.8,489.4 1533.5,491.2 1532.6,492.5" fill="#052805"/><polygon points="1489.4,441.8 1490.4,443.5 1491.8,445.9 1493.4,448.8 1495.2,451.7 1496.9,454.3 1498.7,456.6 1501.0,458.8 1503.3,460.7 1505.3,462.1 1506.8,463.2 1507.1,462.9 1506.1,461.4 1504.8,459.3 1503.2,456.8 1501.4,454.4 1499.7,452.2 1498.1,449.8 1496.4,447.0 1494.8,444.2 1493.4,441.8 1492.4,440.0" fill="#041e04"/></g><circle cx="1568.22" cy="299.38" r="0.90" fill="#2da22d" filter="url(#b2)"/><circle cx="1638.62" cy="294.22" r="0.90" fill="#126412" filter="url(#b2)"/><circle cx="1702.62" cy="288.92" r="1.00" fill="#126412" filter="url(#b2)"/><circle cx="1698.92" cy="305.54" r="0.80" fill="#126412" filter="url(#b2)"/><circle cx="1597.38" cy="336.92" r="1.35" fill="#126412" filter="url(#b1)"/><circle cx="1518.62" cy="339.38" r="0.90" fill="#126412" filter="url(#b2)"/><circle cx="1567.23" cy="343.69" r="0.80" fill="#126412" filter="url(#b2)"/><circle cx="1634.31" cy="343.08" r="0.80" fill="#126412" filter="url(#b2)"/><circle cx="1533.38" cy="373.85" r="0.90" fill="#2da22d" filter="url(#b2)"/><circle cx="1546.06" cy="402.4" r="0.90" fill="#2da22d" filter="url(#b2)"/><circle cx="1596.77" cy="376.31" r="0.80" fill="#2da22d" filter="url(#b2)"/><circle cx="1588.15" cy="440.92" r="0.80" fill="#126412" filter="url(#b2)"/><circle cx="1692.77" cy="460" r="0.80" fill="#126412" filter="url(#b2)"/><circle cx="1697.69" cy="495.08" r="1.20" fill="#2da22d" filter="url(#b2)"/><circle cx="1524.15" cy="360.92" r="1.80" fill="#1e8c1e" filter="url(#b1)"/><circle cx="1534" cy="367.08" r="1.80" fill="#1e8c1e" filter="url(#b1)"/><circle cx="1570.92" cy="400.31" r="2.25" fill="#2da22d" filter="url(#b1)"/><circle cx="1616.46" cy="454.46" r="1.95" fill="#1e8c1e" filter="url(#b1)"/><circle cx="1606.62" cy="467.38" r="1.95" fill="#1e8c1e" filter="url(#b1)"/><circle cx="1593.08" cy="466.15" r="1.50" fill="#1e8c1e" filter="url(#b1)"/><circle cx="1694" cy="415.08" r="1.80" fill="#1e8c1e" filter="url(#b1)"/><circle cx="1675.54" cy="433.54" r="1.95" fill="#1e8c1e" filter="url(#b1)"/><circle cx="1682.92" cy="428.62" r="1.35" fill="#1e8c1e" filter="url(#b1)"/><circle cx="1530.31" cy="319.69" r="1.35" fill="#167516" filter="url(#b1)"/><circle cx="1604.77" cy="333.85" r="1.50" fill="#167516" filter="url(#b1)"/></g><g clip-path="url(#cb13)"><rect x="1712.7" y="279.7" width="216.2" height="215.8" fill="#000100"/><g filter="url(#b4)"><polygon points="1713.8,324.1 1715.5,323.7 1717.9,323.1 1720.4,322.6 1722.6,322.4 1724.1,322.7 1725.3,323.5 1726.8,324.8 1728.1,326.5 1729.2,328.5 1729.9,330.7 1730.2,333.3 1730.1,336.7 1729.8,340.3 1729.2,343.8 1728.6,346.8 1728.1,349.4 1727.6,351.8 1726.9,354.0 1726.1,355.9 1725.2,357.4 1724.0,358.7 1722.3,359.8 1720.4,360.7 1718.8,361.5 1717.5,361.9 1717.7,362.4 1718.9,362.1 1720.8,361.9 1723.0,361.5 1725.2,360.8 1727.3,359.5 1728.9,357.8 1730.4,355.7 1731.7,353.4 1732.8,350.8 1733.7,347.9 1734.3,344.7 1734.9,340.9 1735.3,337.0 1735.3,333.1 1734.9,329.6 1733.9,326.5 1732.4,323.8 1730.6,321.4 1728.4,319.4 1725.9,317.9 1722.9,317.3 1719.7,317.5 1716.8,318.1 1714.4,318.7 1712.8,319.0" fill="#052305"/><polygon points="1817.4,304.6 1818.8,303.9 1820.9,303.0 1823.2,302.2 1825.4,301.6 1827.0,301.7 1828.4,302.4 1829.9,303.4 1831.2,304.8 1832.2,306.5 1832.7,308.4 1832.7,310.8 1832.2,313.8 1831.6,317.2 1830.8,320.9 1829.8,324.6 1828.7,328.4 1827.3,332.4 1825.8,336.4 1824.2,340.3 1822.6,343.9 1821.2,347.3 1819.7,350.6 1818.1,353.6 1816.6,356.4 1815.1,359.0 1813.7,361.4 1812.1,363.5 1810.7,365.4 1809.5,367.0 1808.5,368.1 1808.9,368.5 1809.9,367.4 1811.4,366.1 1813.2,364.5 1815.1,362.5 1817.0,360.4 1818.9,358.0 1820.9,355.3 1822.9,352.4 1824.9,349.3 1826.8,345.9 1828.5,342.2 1830.1,338.1 1831.7,334.0 1833.2,329.8 1834.3,325.9 1835.3,322.0 1836.2,318.1 1836.8,314.4 1836.8,310.8 1836.4,307.6 1835.3,304.9 1833.6,302.8 1831.6,301.2 1829.5,300.1 1827.3,299.5 1825.0,299.8 1822.6,300.8 1820.4,302.1 1818.6,303.4 1817.2,304.1" fill="#052305"/><polygon points="1830.7,280.5 1830.0,283.0 1829.3,285.4 1828.5,287.9 1828.2,290.5 1828.2,293.2 1828.5,293.3 1830.1,291.1 1831.2,288.7 1831.9,286.2 1832.7,283.8 1833.4,281.3" fill="#031803"/><polygon points="1928.2,334.6 1926.0,335.2 1922.7,336.0 1918.9,337.1 1915.0,338.3 1911.4,339.6 1908.2,341.1 1905.2,342.8 1902.2,344.6 1899.3,346.5 1896.4,348.4 1893.3,350.6 1890.0,353.2 1886.9,355.7 1884.3,358.0 1882.4,359.5 1882.7,359.9 1884.8,358.7 1887.8,357.1 1891.3,355.1 1895.0,353.2 1898.3,351.3 1901.2,349.5 1904.1,347.6 1906.9,345.9 1909.8,344.3 1912.8,342.8 1916.1,341.6 1919.9,340.4 1923.6,339.4 1926.8,338.6 1929.1,338.0" fill="#031803"/><polygon points="1765.6,407.5 1763.4,407.3 1760.2,406.8 1756.5,406.4 1752.8,406.2 1749.4,406.3 1746.5,406.6 1743.6,407.1 1740.8,408.1 1738.2,409.5 1736.0,411.5 1734.3,414.0 1733.0,416.9 1732.0,420.1 1731.3,423.5 1730.7,427.1 1730.4,431.4 1730.4,436.3 1730.6,441.1 1730.9,445.4 1730.9,448.3 1731.4,448.3 1731.7,445.4 1732.2,441.2 1732.7,436.4 1733.4,431.6 1734.1,427.6 1734.7,424.2 1735.4,421.0 1736.3,418.1 1737.3,415.7 1738.6,413.8 1740.2,412.4 1742.2,411.3 1744.6,410.5 1747.1,409.8 1749.8,409.1 1752.9,408.6 1756.5,408.3 1760.2,408.1 1763.4,407.9 1765.6,407.9" fill="#031803"/><polygon points="1771.5,401.4 1770.5,402.5 1769.0,404.1 1767.4,406.1 1766.2,408.4 1765.5,410.9 1765.3,413.6 1765.4,416.3 1766.3,418.8 1767.2,421.0 1767.8,422.5 1768.4,422.4 1768.8,420.9 1769.5,418.7 1770.2,416.2 1770.4,413.8 1770.6,411.8 1771.1,409.9 1771.6,407.7 1771.8,405.3 1771.9,403.2 1772.1,401.7" fill="#052305"/><polygon points="1869.2,403.8 1868.0,402.5 1866.5,400.4 1864.8,398.1 1863.4,395.8 1862.8,393.9 1862.9,392.2 1863.5,390.3 1864.4,388.5 1865.6,386.8 1866.7,385.7 1867.8,385.0 1869.1,384.5 1870.6,384.2 1872.1,384.1 1873.6,384.2 1875.3,384.5 1877.3,385.1 1879.2,386.0 1880.8,387.0 1881.8,388.1 1882.4,389.4 1882.7,391.4 1882.9,394.0 1883.2,396.9 1884.0,399.9 1885.4,402.7 1887.0,405.3 1888.7,407.7 1890.4,410.0 1891.9,412.2 1893.1,414.6 1894.2,417.1 1895.2,419.7 1896.4,422.1 1897.7,424.2 1899.4,426.0 1901.3,427.4 1903.1,428.5 1904.7,429.3 1905.8,430.1 1906.1,429.6 1905.0,428.9 1903.6,427.8 1902.1,426.4 1900.6,424.8 1899.4,423.1 1898.5,421.1 1897.8,418.8 1897.1,416.1 1896.3,413.3 1895.3,410.5 1894.0,407.8 1892.5,405.2 1890.9,402.7 1889.5,400.4 1888.4,398.3 1887.8,396.1 1887.6,393.6 1887.4,390.9 1886.9,388.1 1885.7,385.5 1883.7,383.4 1881.4,381.9 1879.0,380.7 1876.5,380.0 1874.2,379.5 1872.0,379.4 1869.7,379.7 1867.6,380.4 1865.6,381.5 1864.0,382.9 1862.6,384.8 1861.5,387.0 1860.6,389.4 1860.2,391.9 1860.4,394.4 1861.6,396.8 1863.5,399.1 1865.6,401.1 1867.6,402.9 1868.8,404.2" fill="#052305"/><polygon points="1927.3,420.3 1925.5,421.4 1922.9,423.0 1919.9,424.9 1916.9,427.0 1914.1,429.1 1911.8,431.3 1909.7,433.6 1907.7,435.9 1905.9,438.2 1903.9,440.5 1902.0,443.3 1900.2,446.5 1898.4,449.6 1896.9,452.4 1895.8,454.3 1896.3,454.7 1897.9,453.1 1900.2,451.1 1902.9,448.7 1905.5,446.2 1907.9,443.8 1909.8,441.4 1911.7,439.2 1913.5,437.0 1915.4,434.9 1917.4,433.0 1919.9,431.1 1922.7,429.2 1925.7,427.4 1928.2,425.8 1930.1,424.6" fill="#052305"/><polygon points="1910.8,442.3 1914.1,444.2 1917.6,445.6 1921.1,446.6 1924.7,447.6 1928.3,448.5 1929.1,445.6 1925.5,444.6 1922.0,443.6 1918.4,442.7 1914.7,442.1 1910.9,442.0" fill="#052305"/><polygon points="1874.0,449.2 1871.2,448.7 1867.4,447.7 1862.8,446.7 1858.1,446.0 1853.8,446.1 1850.0,447.0 1846.6,448.7 1843.4,450.6 1840.5,452.8 1837.8,455.1 1835.3,457.7 1833.0,460.5 1831.0,463.4 1829.4,466.5 1827.9,469.6 1826.6,472.9 1825.5,476.5 1824.5,480.0 1823.8,483.1 1823.2,485.1 1823.7,485.3 1824.6,483.4 1826.1,480.6 1827.7,477.4 1829.5,474.2 1831.3,471.4 1833.2,468.7 1835.1,466.1 1837.0,463.4 1838.9,460.9 1841.1,458.7 1843.6,456.6 1846.2,454.7 1848.9,453.0 1851.8,451.6 1854.6,450.5 1858.2,449.8 1862.6,449.6 1867.1,449.7 1871.1,449.7 1873.9,449.8" fill="#052305"/><polygon points="1892.4,470.8 1895.0,471.7 1898.8,472.9 1903.3,474.2 1907.9,474.6 1912.2,474.6 1916.2,474.3 1920.2,473.7 1923.9,473.1 1927.0,472.5 1929.2,472.1 1928.2,466.4 1925.9,466.8 1922.9,467.3 1919.3,468.0 1915.5,468.5 1912.0,468.8 1908.1,468.7 1903.7,468.6 1899.2,469.1 1895.2,469.7 1892.4,470.1" fill="#073107"/><polygon points="1904.7,367.8 1907.3,368.9 1909.9,369.6 1912.7,370.0 1915.4,370.0 1918.2,369.7 1918.2,369.4 1915.6,368.4 1913.0,367.6 1910.3,367.3 1907.5,367.2 1904.7,367.6" fill="#031303"/></g><circle cx="1779.77" cy="399.08" r="8.5" fill="#073107" filter="url(#b1)"/><circle cx="1780.38" cy="399.69" r="3.5" fill="none" stroke="#073207" stroke-width="1.5" filter="url(#b2)"/><rect x="1883.5" y="488.6" width="42" height="2.4" fill="#fff"/></g>
<text x="169.2" y="41.8" font-size="27" text-anchor="middle">WT</text><text x="392.7" y="41.8" font-size="27" text-anchor="middle">WT + NAC</text><text x="617.2" y="41.8" font-size="27" text-anchor="middle"><tspan font-style="italic">efk-1</tspan></text><text x="841.1" y="41.8" font-size="27" text-anchor="middle"><tspan font-style="italic">efk-1</tspan> + NAC</text><text x="1152.6" y="42.6" font-size="27" text-anchor="middle">WT</text><text x="1372.9" y="42.6" font-size="27" text-anchor="middle">WT + NAC</text><text x="1594.1" y="42.6" font-size="27" text-anchor="middle"><tspan font-style="italic">efk-1</tspan></text><text x="1814.6" y="42.6" font-size="27" text-anchor="middle"><tspan font-style="italic">efk-1</tspan> + NAC</text><text transform="translate(36.6 170.3) rotate(-90)" font-size="27" text-anchor="middle">Hatched</text><text transform="translate(36.6 390.3) rotate(-90)" font-size="27" text-anchor="middle">Day 6 starved</text><text transform="translate(1018.2 170.6) rotate(-90)" font-size="27" text-anchor="middle">Hatched</text><text transform="translate(1018.2 387.5) rotate(-90)" font-size="27" text-anchor="middle">Day 6 starved</text>
<text transform="translate(11.96 33.7) scale(1.0830 0.9276)" font-size="40" class="pl">A</text><text transform="translate(971.69 33.9) scale(1.1024 0.9414)" font-size="40" class="pl">B</text><text transform="translate(7.48 582.45) scale(1.0894 0.9049)" font-size="40" class="pl">C</text><text transform="translate(642.33 582.7) scale(1.1673 0.9345)" font-size="40" class="pl">D</text><text transform="translate(1340.53 582.7) scale(1.0432 0.9017)" font-size="40" class="pl">E</text><text transform="translate(11.51 1145.5) scale(1.0970 0.8983)" font-size="40" class="pl">F</text><text transform="translate(642.34 1145.46) scale(1.1440 0.8885)" font-size="40" class="pl">G</text><text transform="translate(1336.66 1145.7) scale(1.1591 0.9103)" font-size="40" class="pl">H</text><text transform="translate(10 1724.3) scale(1.0250 0.8814)" font-size="40" class="pl">I</text>
<g><path d="M94.5 618.1V1007.5M94.5 998H569.55M85 903.35H94.5M85 808.7H94.5M85 714.05H94.5M85 619.4H94.5M189.25 998V1007.5M284 998V1007.5M378.75 998V1007.5M473.5 998V1007.5M568.25 998V1007.5" stroke="#000" stroke-width="2.6" fill="none"/><g stroke="#90104F" fill="none"><path d="M94.5 656.12V667.48M87.5 656.12H101.5M87.5 667.48H101.5M132.4 668.62V679.98M125.4 668.62H139.4M125.4 679.98H139.4M170.3 670.89V695.88M163.3 670.89H177.3M163.3 695.88H177.3M208.2 686.03V723.89M201.2 686.03H215.2M201.2 723.89H215.2M265.05 719.35V736.01M258.05 719.35H272.05M258.05 736.01H272.05M302.95 723.51V829.52M295.95 723.51H309.95M295.95 829.52H309.95M340.85 758.35V870.41M333.85 758.35H347.85M333.85 870.41H347.85M378.75 836.34V898.43M371.75 836.34H385.75M371.75 898.43H385.75M435.6 895.4V978.69M428.6 895.4H442.6M428.6 978.69H442.6M492.45 985.51V996.86M485.45 985.51H499.45M485.45 996.86H499.45" stroke-width="2.3"/><polyline points="94.5,661.8 132.4,674.3 170.3,683.38 208.2,704.96 265.05,727.68 302.95,776.52 340.85,814.38 378.75,867.38 435.6,937.05 492.45,991.19 530.35,998" stroke-width="2.5" stroke-linejoin="round"/></g><rect x="88.7" y="656" width="11.6" height="11.6" fill="none" stroke="#90104F" stroke-width="2.2"/><rect x="126.6" y="668.5" width="11.6" height="11.6" fill="none" stroke="#90104F" stroke-width="2.2"/><rect x="164.5" y="677.58" width="11.6" height="11.6" fill="none" stroke="#90104F" stroke-width="2.2"/><rect x="202.4" y="699.16" width="11.6" height="11.6" fill="none" stroke="#90104F" stroke-width="2.2"/><rect x="259.25" y="721.88" width="11.6" height="11.6" fill="none" stroke="#90104F" stroke-width="2.2"/><rect x="297.15" y="770.72" width="11.6" height="11.6" fill="none" stroke="#90104F" stroke-width="2.2"/><rect x="335.05" y="808.58" width="11.6" height="11.6" fill="none" stroke="#90104F" stroke-width="2.2"/><rect x="372.95" y="861.58" width="11.6" height="11.6" fill="none" stroke="#90104F" stroke-width="2.2"/><rect x="429.8" y="931.25" width="11.6" height="11.6" fill="none" stroke="#90104F" stroke-width="2.2"/><rect x="486.65" y="985.39" width="11.6" height="11.6" fill="none" stroke="#90104F" stroke-width="2.2"/><rect x="524.55" y="992.2" width="11.6" height="11.6" fill="none" stroke="#90104F" stroke-width="2.2"/><g stroke="#F22CA4" fill="none"><path d="M94.5 667.86V690.58M87.5 667.86H101.5M87.5 690.58H101.5M132.4 713.29V740.55M125.4 713.29H139.4M125.4 740.55H139.4M170.3 722V762.13M163.3 722H177.3M163.3 762.13H177.3M208.2 755.7V839.75M201.2 755.7H215.2M201.2 839.75H215.2M265.05 805.29V898.43M258.05 805.29H272.05M258.05 898.43H272.05M302.95 877.61V950.3M295.95 877.61H309.95M295.95 950.3H309.95M340.85 933.64V976.8M333.85 933.64H347.85M333.85 976.8H347.85" stroke-width="2.3"/><polyline points="94.5,679.22 132.4,726.92 170.3,742.07 208.2,797.72 265.05,851.86 302.95,913.95 340.85,955.22 378.75,990.43 435.6,998 492.45,998 530.35,998" stroke-width="2.5" stroke-linejoin="round"/></g><rect x="88.3" y="673.02" width="12.4" height="12.4" fill="#F22CA4"/><rect x="126.2" y="720.72" width="12.4" height="12.4" fill="#F22CA4"/><rect x="164.1" y="735.87" width="12.4" height="12.4" fill="#F22CA4"/><rect x="202" y="791.52" width="12.4" height="12.4" fill="#F22CA4"/><rect x="258.85" y="845.66" width="12.4" height="12.4" fill="#F22CA4"/><rect x="296.75" y="907.75" width="12.4" height="12.4" fill="#F22CA4"/><rect x="334.65" y="949.02" width="12.4" height="12.4" fill="#F22CA4"/><rect x="372.55" y="984.23" width="12.4" height="12.4" fill="#F22CA4"/><rect x="429.4" y="991.8" width="12.4" height="12.4" fill="#F22CA4"/><rect x="486.25" y="991.8" width="12.4" height="12.4" fill="#F22CA4"/><rect x="524.15" y="991.8" width="12.4" height="12.4" fill="#F22CA4"/><g stroke="#808080" fill="none"><path d="M94.5 638.33V666.35M87.5 638.33H101.5M87.5 666.35H101.5M132.4 642.87V694.36M125.4 642.87H139.4M125.4 694.36H139.4M170.3 654.23V687.55M163.3 654.23H177.3M163.3 687.55H177.3M208.2 671.65V703.45M201.2 671.65H215.2M201.2 703.45H215.2M265.05 689.82V727.68M258.05 689.82H272.05M258.05 727.68H272.05M302.95 722.76V760.62M295.95 722.76H309.95M295.95 760.62H309.95M340.85 754.18V835.2M333.85 754.18H347.85M333.85 835.2H347.85M378.75 799.61V907.89M371.75 799.61H385.75M371.75 907.89H385.75M435.6 876.09V965.44M428.6 876.09H442.6M428.6 965.44H442.6M492.45 954.08V999M485.45 954.08H499.45" stroke-width="2.3"/><polyline points="94.5,652.34 132.4,668.62 170.3,670.89 208.2,687.55 265.05,708.75 302.95,741.69 340.85,794.69 378.75,853.75 435.6,920.77 492.45,979.45 530.35,993.08" stroke-width="2.5" stroke-linejoin="round"/></g><circle cx="94.5" cy="652.34" r="5.8" fill="none" stroke="#808080" stroke-width="2.2"/><circle cx="132.4" cy="668.62" r="5.8" fill="none" stroke="#808080" stroke-width="2.2"/><circle cx="170.3" cy="670.89" r="5.8" fill="none" stroke="#808080" stroke-width="2.2"/><circle cx="208.2" cy="687.55" r="5.8" fill="none" stroke="#808080" stroke-width="2.2"/><circle cx="265.05" cy="708.75" r="5.8" fill="none" stroke="#808080" stroke-width="2.2"/><circle cx="302.95" cy="741.69" r="5.8" fill="none" stroke="#808080" stroke-width="2.2"/><circle cx="340.85" cy="794.69" r="5.8" fill="none" stroke="#808080" stroke-width="2.2"/><circle cx="378.75" cy="853.75" r="5.8" fill="none" stroke="#808080" stroke-width="2.2"/><circle cx="435.6" cy="920.77" r="5.8" fill="none" stroke="#808080" stroke-width="2.2"/><circle cx="492.45" cy="979.45" r="5.8" fill="none" stroke="#808080" stroke-width="2.2"/><circle cx="530.35" cy="993.08" r="5.8" fill="none" stroke="#808080" stroke-width="2.2"/><g stroke="#000" fill="none"><path d="M94.5 642.12V658.02M87.5 642.12H101.5M87.5 658.02H101.5M132.4 656.5V689.06M125.4 656.5H139.4M125.4 689.06H139.4M170.3 665.59V693.61M163.3 665.59H177.3M163.3 693.61H177.3M208.2 678.84V706.86M201.2 678.84H215.2M201.2 706.86H215.2M265.05 702.31V731.84M258.05 702.31H272.05M258.05 731.84H272.05M302.95 722V787.88M295.95 722H309.95M295.95 787.88H309.95M340.85 747.75V841.64M333.85 747.75H347.85M333.85 841.64H347.85M378.75 839.37V909.03M371.75 839.37H385.75M371.75 909.03H385.75M435.6 894.26V988.16M428.6 894.26H442.6M428.6 988.16H442.6M492.45 968.85V999M485.45 968.85H499.45" stroke-width="2.3"/><polyline points="94.5,650.07 132.4,672.78 170.3,679.6 208.2,692.85 265.05,717.08 302.95,754.94 340.85,794.69 378.75,874.2 435.6,941.21 492.45,987.02 530.35,997.24" stroke-width="2.5" stroke-linejoin="round"/></g><circle cx="94.5" cy="650.07" r="6.2" fill="#000"/><circle cx="132.4" cy="672.78" r="6.2" fill="#000"/><circle cx="170.3" cy="679.6" r="6.2" fill="#000"/><circle cx="208.2" cy="692.85" r="6.2" fill="#000"/><circle cx="265.05" cy="717.08" r="6.2" fill="#000"/><circle cx="302.95" cy="754.94" r="6.2" fill="#000"/><circle cx="340.85" cy="794.69" r="6.2" fill="#000"/><circle cx="378.75" cy="874.2" r="6.2" fill="#000"/><circle cx="435.6" cy="941.21" r="6.2" fill="#000"/><circle cx="492.45" cy="987.02" r="6.2" fill="#000"/><circle cx="530.35" cy="997.24" r="6.2" fill="#000"/><text x="79.5" y="1006.1" font-size="22.8" text-anchor="end">0</text><text x="79.5" y="911.45" font-size="22.8" text-anchor="end">25</text><text x="79.5" y="816.8" font-size="22.8" text-anchor="end">50</text><text x="79.5" y="722.15" font-size="22.8" text-anchor="end">75</text><text x="79.5" y="627.5" font-size="22.8" text-anchor="end">100</text><text x="94.5" y="1033.6" font-size="22.8" text-anchor="middle">0</text><text x="189.25" y="1033.6" font-size="22.8" text-anchor="middle">5</text><text x="284" y="1033.6" font-size="22.8" text-anchor="middle">10</text><text x="378.75" y="1033.6" font-size="22.8" text-anchor="middle">15</text><text x="473.5" y="1033.6" font-size="22.8" text-anchor="middle">20</text><text x="568.25" y="1033.6" font-size="22.8" text-anchor="middle">25</text><text x="331.38" y="1068.6" font-size="22.8" text-anchor="middle">Days of L1 starvation</text><text transform="translate(31.3 805.7) rotate(-90)" font-size="22.8" text-anchor="middle">% recovered to L4</text><path d="M367.1 631.2H393.1" stroke="#000" stroke-width="2.5" stroke-linecap="round"/><circle cx="380.1" cy="631.2" r="6.2" fill="#000"/><text x="407.9" y="639.5" font-size="22.8" text-anchor="start">WT</text><path d="M367.1 666.8H393.1" stroke="#808080" stroke-width="2.5" stroke-linecap="round"/><circle cx="380.1" cy="666.8" r="5.8" fill="none" stroke="#808080" stroke-width="2.2"/><text x="407.9" y="675.1" font-size="22.8" text-anchor="start">WT + 5 mM NAC</text><path d="M367.1 702.7H393.1" stroke="#F22CA4" stroke-width="2.5" stroke-linecap="round"/><rect x="373.9" y="696.5" width="12.4" height="12.4" fill="#F22CA4"/><text x="407.9" y="711" font-size="22.8" text-anchor="start"><tspan font-style="italic">efk-1</tspan> **</text><path d="M367.1 738.3H393.1" stroke="#90104F" stroke-width="2.5" stroke-linecap="round"/><rect x="374.3" y="732.5" width="11.6" height="11.6" fill="none" stroke="#90104F" stroke-width="2.2"/><text x="407.9" y="746.6" font-size="22.8" text-anchor="start"><tspan font-style="italic">efk-1</tspan> + 5 mM NAC</text><path d="M587.6 631.2H603.4V668.5H587.6" stroke="#000" stroke-width="1.45" fill="none"/><text x="611.5" y="654.8" font-size="16" text-anchor="start">ns</text><path d="M602.6 702.7H621.5V739.3H602.6" stroke="#000" stroke-width="1.45" fill="none"/><text x="628.9" y="730.2" class="bs">**</text></g><g><path d="M795 617.4V1006.9M795 997.4H1269.95M785.5 902.7H795M785.5 808H795M785.5 713.3H795M785.5 618.6H795M889.75 997.4V1006.9M984.5 997.4V1006.9M1079.25 997.4V1006.9M1174 997.4V1006.9M1268.75 997.4V1006.9" stroke="#000" stroke-width="2.4" fill="none"/><g stroke="#90104F" fill="none"><path d="M795 647.01V666.71M788 647.01H802M788 666.71H802M832.9 676.94V688.3M825.9 676.94H839.9M825.9 688.3H839.9M870.8 682.62V700.8M863.8 682.62H877.8M863.8 700.8H877.8M908.7 708.38V715.95M901.7 708.38H915.7M901.7 715.95H915.7M965.55 737.54V771.64M958.55 737.54H972.55M958.55 771.64H972.55M1003.45 822.02V863.68M996.45 822.02H1010.45M996.45 863.68H1010.45M1041.35 848.91V925.43M1034.35 848.91H1048.35M1034.35 925.43H1048.35M1079.25 941.72V982.63M1072.25 941.72H1086.25M1072.25 982.63H1086.25M1136.1 987.55V996.64M1129.1 987.55H1143.1M1129.1 996.64H1143.1" stroke-width="2.1"/><polyline points="795,656.86 832.9,682.62 870.8,691.71 908.7,712.16 965.55,754.59 1003.45,842.85 1041.35,887.17 1079.25,962.17 1136.1,992.1 1192.95,996.64 1230.85,997.4" stroke-width="2.3" stroke-linejoin="round"/></g><rect x="789.2" y="651.06" width="11.6" height="11.6" fill="none" stroke="#90104F" stroke-width="2.2"/><rect x="827.1" y="676.82" width="11.6" height="11.6" fill="none" stroke="#90104F" stroke-width="2.2"/><rect x="865" y="685.91" width="11.6" height="11.6" fill="none" stroke="#90104F" stroke-width="2.2"/><rect x="902.9" y="706.36" width="11.6" height="11.6" fill="none" stroke="#90104F" stroke-width="2.2"/><rect x="959.75" y="748.79" width="11.6" height="11.6" fill="none" stroke="#90104F" stroke-width="2.2"/><rect x="997.65" y="837.05" width="11.6" height="11.6" fill="none" stroke="#90104F" stroke-width="2.2"/><rect x="1035.55" y="881.37" width="11.6" height="11.6" fill="none" stroke="#90104F" stroke-width="2.2"/><rect x="1073.45" y="956.37" width="11.6" height="11.6" fill="none" stroke="#90104F" stroke-width="2.2"/><rect x="1130.3" y="986.3" width="11.6" height="11.6" fill="none" stroke="#90104F" stroke-width="2.2"/><rect x="1187.15" y="990.84" width="11.6" height="11.6" fill="none" stroke="#90104F" stroke-width="2.2"/><rect x="1225.05" y="991.6" width="11.6" height="11.6" fill="none" stroke="#90104F" stroke-width="2.2"/><g stroke="#F22CA4" fill="none"><path d="M795 667.09V689.81M788 667.09H802M788 689.81H802M832.9 712.54V739.82M825.9 712.54H839.9M825.9 739.82H839.9M870.8 721.25V761.41M863.8 721.25H877.8M863.8 761.41H877.8M908.7 754.97V839.06M901.7 754.97H915.7M901.7 839.06H915.7M965.55 804.59V897.78M958.55 804.59H972.55M958.55 897.78H972.55M1003.45 876.94V949.67M996.45 876.94H1010.45M996.45 949.67H1010.45M1041.35 933V976.19M1034.35 933H1048.35M1034.35 976.19H1048.35" stroke-width="2.1"/><polyline points="795,678.45 832.9,726.18 870.8,741.33 908.7,797.01 965.55,851.18 1003.45,913.31 1041.35,954.6 1079.25,989.82 1136.1,997.4 1192.95,997.4 1230.85,997.4" stroke-width="2.3" stroke-linejoin="round"/></g><rect x="788.8" y="672.25" width="12.4" height="12.4" fill="#F22CA4"/><rect x="826.7" y="719.98" width="12.4" height="12.4" fill="#F22CA4"/><rect x="864.6" y="735.13" width="12.4" height="12.4" fill="#F22CA4"/><rect x="902.5" y="790.81" width="12.4" height="12.4" fill="#F22CA4"/><rect x="959.35" y="844.98" width="12.4" height="12.4" fill="#F22CA4"/><rect x="997.25" y="907.11" width="12.4" height="12.4" fill="#F22CA4"/><rect x="1035.15" y="948.4" width="12.4" height="12.4" fill="#F22CA4"/><rect x="1073.05" y="983.62" width="12.4" height="12.4" fill="#F22CA4"/><rect x="1129.9" y="991.2" width="12.4" height="12.4" fill="#F22CA4"/><rect x="1186.75" y="991.2" width="12.4" height="12.4" fill="#F22CA4"/><rect x="1224.65" y="991.2" width="12.4" height="12.4" fill="#F22CA4"/><g stroke="#808080" fill="none"><path d="M795 642.84V662.54M788 642.84H802M788 662.54H802M832.9 654.21V674.66M825.9 654.21H839.9M825.9 674.66H839.9M870.8 659.51V695.88M863.8 659.51H877.8M863.8 695.88H877.8M908.7 686.03V705.72M901.7 686.03H915.7M901.7 705.72H915.7M965.55 709.89V732.62M958.55 709.89H972.55M958.55 732.62H972.55M1003.45 744.74V785.65M996.45 744.74H1010.45M996.45 785.65H1010.45M1041.35 787.54V827.7M1034.35 787.54H1048.35M1034.35 827.7H1048.35M1079.25 850.43V917.09M1072.25 850.43H1086.25M1072.25 917.09H1086.25M1136.1 924.67V998.4M1129.1 924.67H1143.1" stroke-width="2.1"/><polyline points="795,652.69 832.9,664.43 870.8,677.69 908.7,695.88 965.55,721.25 1003.45,765.2 1041.35,807.62 1079.25,883.76 1136.1,964.07 1192.95,995.13 1230.85,997.4" stroke-width="2.3" stroke-linejoin="round"/></g><circle cx="795" cy="652.69" r="5.8" fill="none" stroke="#808080" stroke-width="2.2"/><circle cx="832.9" cy="664.43" r="5.8" fill="none" stroke="#808080" stroke-width="2.2"/><circle cx="870.8" cy="677.69" r="5.8" fill="none" stroke="#808080" stroke-width="2.2"/><circle cx="908.7" cy="695.88" r="5.8" fill="none" stroke="#808080" stroke-width="2.2"/><circle cx="965.55" cy="721.25" r="5.8" fill="none" stroke="#808080" stroke-width="2.2"/><circle cx="1003.45" cy="765.2" r="5.8" fill="none" stroke="#808080" stroke-width="2.2"/><circle cx="1041.35" cy="807.62" r="5.8" fill="none" stroke="#808080" stroke-width="2.2"/><circle cx="1079.25" cy="883.76" r="5.8" fill="none" stroke="#808080" stroke-width="2.2"/><circle cx="1136.1" cy="964.07" r="5.8" fill="none" stroke="#808080" stroke-width="2.2"/><circle cx="1192.95" cy="995.13" r="5.8" fill="none" stroke="#808080" stroke-width="2.2"/><circle cx="1230.85" cy="997.4" r="5.8" fill="none" stroke="#808080" stroke-width="2.2"/><g stroke="#000" fill="none"><path d="M795 641.33V657.24M788 641.33H802M788 657.24H802M832.9 655.72V688.3M825.9 655.72H839.9M825.9 688.3H839.9M870.8 664.81V692.84M863.8 664.81H877.8M863.8 692.84H877.8M908.7 678.07V706.1M901.7 678.07H915.7M901.7 706.1H915.7M965.55 701.56V731.1M958.55 701.56H972.55M958.55 731.1H972.55M1003.45 721.25V787.17M996.45 721.25H1010.45M996.45 787.17H1010.45M1041.35 747.01V840.96M1034.35 747.01H1048.35M1034.35 840.96H1048.35M1079.25 838.68V908.38M1072.25 838.68H1086.25M1072.25 908.38H1086.25M1136.1 893.61V987.55M1129.1 893.61H1143.1M1129.1 987.55H1143.1M1192.95 968.23V998.4M1185.95 968.23H1199.95" stroke-width="2.1"/><polyline points="795,649.28 832.9,672.01 870.8,678.83 908.7,692.09 965.55,716.33 1003.45,754.21 1041.35,793.98 1079.25,873.53 1136.1,940.58 1192.95,986.41 1230.85,996.64" stroke-width="2.3" stroke-linejoin="round"/></g><circle cx="795" cy="649.28" r="6.2" fill="#000"/><circle cx="832.9" cy="672.01" r="6.2" fill="#000"/><circle cx="870.8" cy="678.83" r="6.2" fill="#000"/><circle cx="908.7" cy="692.09" r="6.2" fill="#000"/><circle cx="965.55" cy="716.33" r="6.2" fill="#000"/><circle cx="1003.45" cy="754.21" r="6.2" fill="#000"/><circle cx="1041.35" cy="793.98" r="6.2" fill="#000"/><circle cx="1079.25" cy="873.53" r="6.2" fill="#000"/><circle cx="1136.1" cy="940.58" r="6.2" fill="#000"/><circle cx="1192.95" cy="986.41" r="6.2" fill="#000"/><circle cx="1230.85" cy="996.64" r="6.2" fill="#000"/><text x="780" y="1005.5" font-size="22.8" text-anchor="end">0</text><text x="780" y="910.8" font-size="22.8" text-anchor="end">25</text><text x="780" y="816.1" font-size="22.8" text-anchor="end">50</text><text x="780" y="721.4" font-size="22.8" text-anchor="end">75</text><text x="780" y="626.7" font-size="22.8" text-anchor="end">100</text><text x="795" y="1033" font-size="22.8" text-anchor="middle">0</text><text x="889.75" y="1033" font-size="22.8" text-anchor="middle">5</text><text x="984.5" y="1033" font-size="22.8" text-anchor="middle">10</text><text x="1079.25" y="1033" font-size="22.8" text-anchor="middle">15</text><text x="1174" y="1033" font-size="22.8" text-anchor="middle">20</text><text x="1268.75" y="1033" font-size="22.8" text-anchor="middle">25</text><text x="1031.88" y="1068" font-size="22.8" text-anchor="middle">Days of L1 starvation</text><text transform="translate(731.8 805) rotate(-90)" font-size="22.8" text-anchor="middle">% recovered to L4</text><path d="M1067.1 630.7H1093.1" stroke="#000" stroke-width="2.3" stroke-linecap="round"/><circle cx="1080.1" cy="630.7" r="6.2" fill="#000"/><text x="1107.9" y="639" font-size="22.8" text-anchor="start">WT</text><path d="M1067.1 666.4H1093.1" stroke="#808080" stroke-width="2.3" stroke-linecap="round"/><circle cx="1080.1" cy="666.4" r="5.8" fill="none" stroke="#808080" stroke-width="2.2"/><text x="1107.9" y="674.7" font-size="22.8" text-anchor="start">WT + 2.5 mM VitC</text><path d="M1067.1 702.7H1093.1" stroke="#F22CA4" stroke-width="2.3" stroke-linecap="round"/><rect x="1073.9" y="696.5" width="12.4" height="12.4" fill="#F22CA4"/><text x="1107.9" y="711" font-size="22.8" text-anchor="start"><tspan font-style="italic">efk-1</tspan> **</text><path d="M1067.1 738.8H1093.1" stroke="#90104F" stroke-width="2.3" stroke-linecap="round"/><rect x="1074.3" y="733" width="11.6" height="11.6" fill="none" stroke="#90104F" stroke-width="2.2"/><text x="1107.9" y="747.1" font-size="22.8" text-anchor="start"><tspan font-style="italic">efk-1</tspan> + 2.5 mM VitC</text><path d="M1303.4 630.7H1319.1V667.6H1303.4" stroke="#000" stroke-width="1.45" fill="none"/><text x="1326.8" y="654.5" font-size="16" text-anchor="start">ns</text><path d="M1318.3 701.9H1337.7V738.8H1318.3" stroke="#000" stroke-width="1.45" fill="none"/><text x="1345.1" y="731" class="bs">*</text></g><g><path d="M1461.3 618.2V1007.5M1461.3 998H1936.5M1451.8 903.35H1461.3M1451.8 808.7H1461.3M1451.8 714.05H1461.3M1451.8 619.4H1461.3M1556.1 998V1007.5M1650.9 998V1007.5M1745.7 998V1007.5M1840.5 998V1007.5M1935.3 998V1007.5" stroke="#000" stroke-width="2.4" fill="none"/><g stroke="#044C9C" fill="none"><path d="M1461.3 642.12V657.26M1454.3 642.12H1468.3M1454.3 657.26H1468.3M1499.22 655.37V666.73M1492.22 655.37H1506.22M1492.22 666.73H1506.22M1537.14 652.34V684.14M1530.14 652.34H1544.14M1530.14 684.14H1544.14M1575.06 690.58V723.89M1568.06 690.58H1582.06M1568.06 723.89H1582.06M1631.94 713.29V776.9M1624.94 713.29H1638.94M1624.94 776.9H1638.94M1669.86 810.59V840.12M1662.86 810.59H1676.86M1662.86 840.12H1676.86M1707.78 836.72V942.72M1700.78 836.72H1714.78M1700.78 942.72H1714.78M1745.7 888.96V957.11M1738.7 888.96H1752.7M1738.7 957.11H1752.7M1802.58 938.56V965.82M1795.58 938.56H1809.58M1795.58 965.82H1809.58M1859.46 972.63V991.56M1852.46 972.63H1866.46M1852.46 991.56H1866.46" stroke-width="2.1"/><polyline points="1461.3,649.69 1499.22,661.05 1537.14,668.24 1575.06,707.24 1631.94,745.1 1669.86,825.36 1707.78,889.72 1745.7,923.04 1802.58,952.19 1859.46,982.1 1897.38,995.35 1935.3,998" stroke-width="2.3" stroke-linejoin="round"/></g><polygon points="1461.3,643.99 1455.4,655.74 1467.2,655.74" fill="none" stroke="#044C9C" stroke-width="2.3" stroke-linejoin="round"/><polygon points="1499.22,655.35 1493.32,667.1 1505.12,667.1" fill="none" stroke="#044C9C" stroke-width="2.3" stroke-linejoin="round"/><polygon points="1537.14,662.54 1531.24,674.29 1543.04,674.29" fill="none" stroke="#044C9C" stroke-width="2.3" stroke-linejoin="round"/><polygon points="1575.06,701.54 1569.16,713.29 1580.96,713.29" fill="none" stroke="#044C9C" stroke-width="2.3" stroke-linejoin="round"/><polygon points="1631.94,739.4 1626.04,751.15 1637.84,751.15" fill="none" stroke="#044C9C" stroke-width="2.3" stroke-linejoin="round"/><polygon points="1669.86,819.66 1663.96,831.41 1675.76,831.41" fill="none" stroke="#044C9C" stroke-width="2.3" stroke-linejoin="round"/><polygon points="1707.78,884.02 1701.88,895.77 1713.68,895.77" fill="none" stroke="#044C9C" stroke-width="2.3" stroke-linejoin="round"/><polygon points="1745.7,917.34 1739.8,929.09 1751.6,929.09" fill="none" stroke="#044C9C" stroke-width="2.3" stroke-linejoin="round"/><polygon points="1802.58,946.49 1796.68,958.24 1808.48,958.24" fill="none" stroke="#044C9C" stroke-width="2.3" stroke-linejoin="round"/><polygon points="1859.46,976.4 1853.56,988.15 1865.36,988.15" fill="none" stroke="#044C9C" stroke-width="2.3" stroke-linejoin="round"/><polygon points="1897.38,989.65 1891.48,1001.4 1903.28,1001.4" fill="none" stroke="#044C9C" stroke-width="2.3" stroke-linejoin="round"/><polygon points="1935.3,992.3 1929.4,1004.05 1941.2,1004.05" fill="none" stroke="#044C9C" stroke-width="2.3" stroke-linejoin="round"/><g stroke="#00ADF5" fill="none"><path d="M1461.3 637.95V660.67M1454.3 637.95H1468.3M1454.3 660.67H1468.3M1499.22 654.23V672.4M1492.22 654.23H1506.22M1492.22 672.4H1506.22M1537.14 663.7V728.82M1530.14 663.7H1544.14M1530.14 728.82H1544.14M1575.06 739.42V799.99M1568.06 739.42H1582.06M1568.06 799.99H1582.06M1631.94 781.82V844.67M1624.94 781.82H1638.94M1624.94 844.67H1638.94M1669.86 841.26V926.82M1662.86 841.26H1676.86M1662.86 926.82H1676.86M1707.78 905.24V987.78M1700.78 905.24H1714.78M1700.78 987.78H1714.78M1745.7 954.08V999M1738.7 954.08H1752.7M1802.58 982.48V999M1795.58 982.48H1809.58" stroke-width="2.1"/><polyline points="1461.3,649.31 1499.22,663.32 1537.14,696.26 1575.06,769.7 1631.94,813.24 1669.86,884.04 1707.78,946.51 1745.7,978.31 1802.58,992.32 1859.46,998 1897.38,998 1935.3,998" stroke-width="2.3" stroke-linejoin="round"/></g><polygon points="1461.3,643.06 1455,655.66 1467.6,655.66" fill="#00ADF5"/><polygon points="1499.22,657.07 1492.92,669.67 1505.52,669.67" fill="#00ADF5"/><polygon points="1537.14,690.01 1530.84,702.61 1543.44,702.61" fill="#00ADF5"/><polygon points="1575.06,763.45 1568.76,776.05 1581.36,776.05" fill="#00ADF5"/><polygon points="1631.94,806.99 1625.64,819.59 1638.24,819.59" fill="#00ADF5"/><polygon points="1669.86,877.79 1663.56,890.39 1676.16,890.39" fill="#00ADF5"/><polygon points="1707.78,940.26 1701.48,952.86 1714.08,952.86" fill="#00ADF5"/><polygon points="1745.7,972.06 1739.4,984.66 1752,984.66" fill="#00ADF5"/><polygon points="1802.58,986.07 1796.28,998.67 1808.88,998.67" fill="#00ADF5"/><polygon points="1859.46,991.75 1853.16,1004.35 1865.76,1004.35" fill="#00ADF5"/><polygon points="1897.38,991.75 1891.08,1004.35 1903.68,1004.35" fill="#00ADF5"/><polygon points="1935.3,991.75 1929,1004.35 1941.6,1004.35" fill="#00ADF5"/><g stroke="#808080" fill="none"><path d="M1461.3 640.22V656.12M1454.3 640.22H1468.3M1454.3 656.12H1468.3M1499.22 640.22V653.85M1492.22 640.22H1506.22M1492.22 653.85H1506.22M1537.14 648.55V671.27M1530.14 648.55H1544.14M1530.14 671.27H1544.14M1575.06 683.38V725.03M1568.06 683.38H1582.06M1568.06 725.03H1582.06M1631.94 717.84V757.21M1624.94 717.84H1638.94M1624.94 757.21H1638.94M1669.86 743.58V830.66M1662.86 743.58H1676.86M1662.86 830.66H1676.86M1707.78 832.93V899.56M1700.78 832.93H1714.78M1700.78 899.56H1714.78M1745.7 879.12V942.72M1738.7 879.12H1752.7M1738.7 942.72H1752.7M1802.58 927.96V968.85M1795.58 927.96H1809.58M1795.58 968.85H1809.58M1859.46 955.22V989.29M1852.46 955.22H1866.46M1852.46 989.29H1866.46M1897.38 991.94V998M1890.38 991.94H1904.38M1890.38 998H1904.38" stroke-width="2.1"/><polyline points="1461.3,648.17 1499.22,647.04 1537.14,659.91 1575.06,704.21 1631.94,737.52 1669.86,787.12 1707.78,866.25 1745.7,910.92 1802.58,948.4 1859.46,972.26 1897.38,994.97 1935.3,996.86" stroke-width="2.3" stroke-linejoin="round"/></g><circle cx="1461.3" cy="648.17" r="5.8" fill="none" stroke="#808080" stroke-width="2.2"/><circle cx="1499.22" cy="647.04" r="5.8" fill="none" stroke="#808080" stroke-width="2.2"/><circle cx="1537.14" cy="659.91" r="5.8" fill="none" stroke="#808080" stroke-width="2.2"/><circle cx="1575.06" cy="704.21" r="5.8" fill="none" stroke="#808080" stroke-width="2.2"/><circle cx="1631.94" cy="737.52" r="5.8" fill="none" stroke="#808080" stroke-width="2.2"/><circle cx="1669.86" cy="787.12" r="5.8" fill="none" stroke="#808080" stroke-width="2.2"/><circle cx="1707.78" cy="866.25" r="5.8" fill="none" stroke="#808080" stroke-width="2.2"/><circle cx="1745.7" cy="910.92" r="5.8" fill="none" stroke="#808080" stroke-width="2.2"/><circle cx="1802.58" cy="948.4" r="5.8" fill="none" stroke="#808080" stroke-width="2.2"/><circle cx="1859.46" cy="972.26" r="5.8" fill="none" stroke="#808080" stroke-width="2.2"/><circle cx="1897.38" cy="994.97" r="5.8" fill="none" stroke="#808080" stroke-width="2.2"/><circle cx="1935.3" cy="996.86" r="5.8" fill="none" stroke="#808080" stroke-width="2.2"/><g stroke="#000" fill="none"><path d="M1461.3 639.09V650.45M1454.3 639.09H1468.3M1454.3 650.45H1468.3M1499.22 649.31V656.88M1492.22 649.31H1506.22M1492.22 656.88H1506.22M1537.14 656.5V670.13M1530.14 656.5H1544.14M1530.14 670.13H1544.14M1575.06 673.16V716.32M1568.06 673.16H1582.06M1568.06 716.32H1582.06M1631.94 709.89V750.77M1624.94 709.89H1638.94M1624.94 750.77H1638.94M1669.86 754.18V816.27M1662.86 754.18H1676.86M1662.86 816.27H1676.86M1707.78 792.8V898.05M1700.78 792.8H1714.78M1700.78 898.05H1714.78M1745.7 866.63V927.2M1738.7 866.63H1752.7M1738.7 927.2H1752.7M1802.58 924.55V969.98M1795.58 924.55H1809.58M1795.58 969.98H1809.58M1859.46 955.6V997.24M1852.46 955.6H1866.46M1852.46 997.24H1866.46M1897.38 987.4V997.24M1890.38 987.4H1904.38M1890.38 997.24H1904.38" stroke-width="2.1"/><polyline points="1461.3,644.77 1499.22,653.1 1537.14,663.32 1575.06,694.74 1631.94,730.33 1669.86,785.23 1707.78,845.42 1745.7,896.91 1802.58,947.27 1859.46,976.42 1897.38,992.32 1935.3,997.62" stroke-width="2.3" stroke-linejoin="round"/></g><circle cx="1461.3" cy="644.77" r="6.2" fill="#000"/><circle cx="1499.22" cy="653.1" r="6.2" fill="#000"/><circle cx="1537.14" cy="663.32" r="6.2" fill="#000"/><circle cx="1575.06" cy="694.74" r="6.2" fill="#000"/><circle cx="1631.94" cy="730.33" r="6.2" fill="#000"/><circle cx="1669.86" cy="785.23" r="6.2" fill="#000"/><circle cx="1707.78" cy="845.42" r="6.2" fill="#000"/><circle cx="1745.7" cy="896.91" r="6.2" fill="#000"/><circle cx="1802.58" cy="947.27" r="6.2" fill="#000"/><circle cx="1859.46" cy="976.42" r="6.2" fill="#000"/><circle cx="1897.38" cy="992.32" r="6.2" fill="#000"/><circle cx="1935.3" cy="997.62" r="6.2" fill="#000"/><text x="1446.3" y="1006.1" font-size="22.8" text-anchor="end">0</text><text x="1446.3" y="911.45" font-size="22.8" text-anchor="end">25</text><text x="1446.3" y="816.8" font-size="22.8" text-anchor="end">50</text><text x="1446.3" y="722.15" font-size="22.8" text-anchor="end">75</text><text x="1446.3" y="627.5" font-size="22.8" text-anchor="end">100</text><text x="1461.3" y="1033.6" font-size="22.8" text-anchor="middle">0</text><text x="1556.1" y="1033.6" font-size="22.8" text-anchor="middle">5</text><text x="1650.9" y="1033.6" font-size="22.8" text-anchor="middle">10</text><text x="1745.7" y="1033.6" font-size="22.8" text-anchor="middle">15</text><text x="1840.5" y="1033.6" font-size="22.8" text-anchor="middle">20</text><text x="1935.3" y="1033.6" font-size="22.8" text-anchor="middle">25</text><text x="1698.3" y="1068.6" font-size="22.8" text-anchor="middle">Days of L1 starvation</text><text transform="translate(1398.1 805.7) rotate(-90)" font-size="22.8" text-anchor="middle">% recovered to L4</text><path d="M1728.2 640.1H1754.2" stroke="#000" stroke-width="2.3" stroke-linecap="round"/><circle cx="1741.2" cy="640.1" r="6.2" fill="#000"/><text x="1769.6" y="648.6" font-size="22.8" text-anchor="start">WT</text><path d="M1728.2 675.5H1754.2" stroke="#808080" stroke-width="2.3" stroke-linecap="round"/><circle cx="1741.2" cy="675.5" r="5.8" fill="none" stroke="#808080" stroke-width="2.2"/><text x="1769.6" y="683.7" font-size="22.8" text-anchor="start">WT + 5 mM NAC</text><path d="M1728.2 710.6H1754.2" stroke="#00ADF5" stroke-width="2.3" stroke-linecap="round"/><polygon points="1741.2,704.35 1734.9,716.95 1747.5,716.95" fill="#00ADF5"/><text x="1769.6" y="718.7" font-size="22.8" text-anchor="start"><tspan font-style="italic">zip-2</tspan> **</text><path d="M1728.2 746.2H1754.2" stroke="#044C9C" stroke-width="2.3" stroke-linecap="round"/><polygon points="1741.2,740.5 1735.3,752.25 1747.1,752.25" fill="none" stroke="#044C9C" stroke-width="2.3" stroke-linejoin="round"/><text x="1769.6" y="754.9" font-size="22.8" text-anchor="start"><tspan font-style="italic">zip-2</tspan> + 5 mM NAC</text><path d="M1960.1 709.6H1975.5V750.5H1960.1" stroke="#000" stroke-width="1.45" fill="none"/><text x="1982.3" y="740.7" class="bs">*</text></g><g><path d="M94.3 1172.1V1561.5M94.3 1552H569.35M84.8 1457.35H94.3M84.8 1362.7H94.3M84.8 1268.05H94.3M84.8 1173.4H94.3M189.05 1552V1561.5M283.8 1552V1561.5M378.55 1552V1561.5M473.3 1552V1561.5M568.05 1552V1561.5" stroke="#000" stroke-width="2.6" fill="none"/><g stroke="#044C9C" fill="none"><path d="M94.3 1202.17V1224.89M87.3 1202.17H101.3M87.3 1224.89H101.3M132.2 1210.88V1230.57M125.2 1210.88H139.2M125.2 1230.57H139.2M170.1 1229.05V1247.23M163.1 1229.05H177.1M163.1 1247.23H177.1M208 1269.94V1277.51M201 1269.94H215M201 1277.51H215M264.85 1278.65V1318.03M257.85 1278.65H271.85M257.85 1318.03H271.85M302.75 1326.35V1403.59M295.75 1326.35H309.75M295.75 1403.59H309.75M340.65 1449.02V1456.59M333.65 1449.02H347.65M333.65 1456.59H347.65M378.55 1441.83V1508.46M371.55 1441.83H385.55M371.55 1508.46H385.55M435.4 1471.36V1518.3M428.4 1471.36H442.4M428.4 1518.3H442.4M492.25 1507.7V1541.78M485.25 1507.7H499.25M485.25 1541.78H499.25" stroke-width="2.3"/><polyline points="94.3,1213.53 132.2,1220.72 170.1,1238.14 208,1273.73 264.85,1298.34 302.75,1364.97 340.65,1452.81 378.55,1475.14 435.4,1494.83 492.25,1524.74 530.15,1548.21 568.05,1552" stroke-width="2.5" stroke-linejoin="round"/></g><polygon points="94.3,1207.83 88.4,1219.58 100.2,1219.58" fill="none" stroke="#044C9C" stroke-width="2.3" stroke-linejoin="round"/><polygon points="132.2,1215.02 126.3,1226.77 138.1,1226.77" fill="none" stroke="#044C9C" stroke-width="2.3" stroke-linejoin="round"/><polygon points="170.1,1232.44 164.2,1244.19 176,1244.19" fill="none" stroke="#044C9C" stroke-width="2.3" stroke-linejoin="round"/><polygon points="208,1268.03 202.1,1279.78 213.9,1279.78" fill="none" stroke="#044C9C" stroke-width="2.3" stroke-linejoin="round"/><polygon points="264.85,1292.64 258.95,1304.39 270.75,1304.39" fill="none" stroke="#044C9C" stroke-width="2.3" stroke-linejoin="round"/><polygon points="302.75,1359.27 296.85,1371.02 308.65,1371.02" fill="none" stroke="#044C9C" stroke-width="2.3" stroke-linejoin="round"/><polygon points="340.65,1447.11 334.75,1458.86 346.55,1458.86" fill="none" stroke="#044C9C" stroke-width="2.3" stroke-linejoin="round"/><polygon points="378.55,1469.44 372.65,1481.19 384.45,1481.19" fill="none" stroke="#044C9C" stroke-width="2.3" stroke-linejoin="round"/><polygon points="435.4,1489.13 429.5,1500.88 441.3,1500.88" fill="none" stroke="#044C9C" stroke-width="2.3" stroke-linejoin="round"/><polygon points="492.25,1519.04 486.35,1530.79 498.15,1530.79" fill="none" stroke="#044C9C" stroke-width="2.3" stroke-linejoin="round"/><polygon points="530.15,1542.51 524.25,1554.26 536.05,1554.26" fill="none" stroke="#044C9C" stroke-width="2.3" stroke-linejoin="round"/><polygon points="568.05,1546.3 562.15,1558.05 573.95,1558.05" fill="none" stroke="#044C9C" stroke-width="2.3" stroke-linejoin="round"/><g stroke="#00ADF5" fill="none"><path d="M94.3 1204.45V1222.62M87.3 1204.45H101.3M87.3 1222.62H101.3M132.2 1234.35V1281.3M125.2 1234.35H139.2M125.2 1281.3H139.2M170.1 1279.41V1318.78M163.1 1279.41H177.1M163.1 1318.78H177.1M208 1316.13V1349.45M201 1316.13H215M201 1349.45H215M264.85 1352.86V1405.86M257.85 1352.86H271.85M257.85 1405.86H271.85M302.75 1414.57V1487.26M295.75 1414.57H309.75M295.75 1487.26H309.75M340.65 1422.14V1550.86M333.65 1422.14H347.65M333.65 1550.86H347.65M378.55 1500.13V1551.62M371.55 1500.13H385.55M371.55 1551.62H385.55M435.4 1528.53V1553M428.4 1528.53H442.4M492.25 1542.54V1553M485.25 1542.54H499.25" stroke-width="2.3"/><polyline points="94.3,1213.53 132.2,1257.83 170.1,1299.1 208,1332.79 264.85,1379.36 302.75,1450.91 340.65,1486.5 378.55,1525.88 435.4,1542.54 492.25,1548.97 530.15,1552 568.05,1552" stroke-width="2.5" stroke-linejoin="round"/></g><polygon points="94.3,1207.28 88,1219.88 100.6,1219.88" fill="#00ADF5"/><polygon points="132.2,1251.58 125.9,1264.18 138.5,1264.18" fill="#00ADF5"/><polygon points="170.1,1292.85 163.8,1305.45 176.4,1305.45" fill="#00ADF5"/><polygon points="208,1326.54 201.7,1339.14 214.3,1339.14" fill="#00ADF5"/><polygon points="264.85,1373.11 258.55,1385.71 271.15,1385.71" fill="#00ADF5"/><polygon points="302.75,1444.66 296.45,1457.26 309.05,1457.26" fill="#00ADF5"/><polygon points="340.65,1480.25 334.35,1492.85 346.95,1492.85" fill="#00ADF5"/><polygon points="378.55,1519.63 372.25,1532.23 384.85,1532.23" fill="#00ADF5"/><polygon points="435.4,1536.29 429.1,1548.88 441.7,1548.88" fill="#00ADF5"/><polygon points="492.25,1542.72 485.95,1555.32 498.55,1555.32" fill="#00ADF5"/><polygon points="530.15,1545.75 523.85,1558.35 536.45,1558.35" fill="#00ADF5"/><polygon points="568.05,1545.75 561.75,1558.35 574.35,1558.35" fill="#00ADF5"/><g stroke="#808080" fill="none"><path d="M94.3 1194.22V1210.12M87.3 1194.22H101.3M87.3 1210.12H101.3M132.2 1194.22V1207.85M125.2 1194.22H139.2M125.2 1207.85H139.2M170.1 1202.55V1225.27M163.1 1202.55H177.1M163.1 1225.27H177.1M208 1237.38V1279.03M201 1237.38H215M201 1279.03H215M264.85 1271.84V1311.21M257.85 1271.84H271.85M257.85 1311.21H271.85M302.75 1297.58V1384.66M295.75 1297.58H309.75M295.75 1384.66H309.75M340.65 1386.93V1453.56M333.65 1386.93H347.65M333.65 1453.56H347.65M378.55 1433.12V1496.72M371.55 1433.12H385.55M371.55 1496.72H385.55M435.4 1481.96V1522.85M428.4 1481.96H442.4M428.4 1522.85H442.4M492.25 1509.22V1543.29M485.25 1509.22H499.25M485.25 1543.29H499.25M530.15 1545.94V1552M523.15 1545.94H537.15M523.15 1552H537.15" stroke-width="2.3"/><polyline points="94.3,1202.17 132.2,1201.04 170.1,1213.91 208,1258.21 264.85,1291.52 302.75,1341.12 340.65,1420.25 378.55,1464.92 435.4,1502.4 492.25,1526.26 530.15,1548.97 568.05,1550.86" stroke-width="2.5" stroke-linejoin="round"/></g><circle cx="94.3" cy="1202.17" r="5.8" fill="none" stroke="#808080" stroke-width="2.2"/><circle cx="132.2" cy="1201.04" r="5.8" fill="none" stroke="#808080" stroke-width="2.2"/><circle cx="170.1" cy="1213.91" r="5.8" fill="none" stroke="#808080" stroke-width="2.2"/><circle cx="208" cy="1258.21" r="5.8" fill="none" stroke="#808080" stroke-width="2.2"/><circle cx="264.85" cy="1291.52" r="5.8" fill="none" stroke="#808080" stroke-width="2.2"/><circle cx="302.75" cy="1341.12" r="5.8" fill="none" stroke="#808080" stroke-width="2.2"/><circle cx="340.65" cy="1420.25" r="5.8" fill="none" stroke="#808080" stroke-width="2.2"/><circle cx="378.55" cy="1464.92" r="5.8" fill="none" stroke="#808080" stroke-width="2.2"/><circle cx="435.4" cy="1502.4" r="5.8" fill="none" stroke="#808080" stroke-width="2.2"/><circle cx="492.25" cy="1526.26" r="5.8" fill="none" stroke="#808080" stroke-width="2.2"/><circle cx="530.15" cy="1548.97" r="5.8" fill="none" stroke="#808080" stroke-width="2.2"/><circle cx="568.05" cy="1550.86" r="5.8" fill="none" stroke="#808080" stroke-width="2.2"/><g stroke="#000" fill="none"><path d="M94.3 1193.09V1204.45M87.3 1193.09H101.3M87.3 1204.45H101.3M132.2 1203.31V1210.88M125.2 1203.31H139.2M125.2 1210.88H139.2M170.1 1210.5V1224.13M163.1 1210.5H177.1M163.1 1224.13H177.1M208 1227.16V1270.32M201 1227.16H215M201 1270.32H215M264.85 1263.89V1304.77M257.85 1263.89H271.85M257.85 1304.77H271.85M302.75 1308.18V1370.27M295.75 1308.18H309.75M295.75 1370.27H309.75M340.65 1346.8V1452.05M333.65 1346.8H347.65M333.65 1452.05H347.65M378.55 1420.63V1481.2M371.55 1420.63H385.55M371.55 1481.2H385.55M435.4 1478.55V1523.98M428.4 1478.55H442.4M428.4 1523.98H442.4M492.25 1509.6V1551.24M485.25 1509.6H499.25M485.25 1551.24H499.25M530.15 1541.4V1551.24M523.15 1541.4H537.15M523.15 1551.24H537.15" stroke-width="2.3"/><polyline points="94.3,1198.77 132.2,1207.1 170.1,1217.32 208,1248.74 264.85,1284.33 302.75,1339.23 340.65,1399.42 378.55,1450.91 435.4,1501.27 492.25,1530.42 530.15,1546.32 568.05,1551.62" stroke-width="2.5" stroke-linejoin="round"/></g><circle cx="94.3" cy="1198.77" r="6.2" fill="#000"/><circle cx="132.2" cy="1207.1" r="6.2" fill="#000"/><circle cx="170.1" cy="1217.32" r="6.2" fill="#000"/><circle cx="208" cy="1248.74" r="6.2" fill="#000"/><circle cx="264.85" cy="1284.33" r="6.2" fill="#000"/><circle cx="302.75" cy="1339.23" r="6.2" fill="#000"/><circle cx="340.65" cy="1399.42" r="6.2" fill="#000"/><circle cx="378.55" cy="1450.91" r="6.2" fill="#000"/><circle cx="435.4" cy="1501.27" r="6.2" fill="#000"/><circle cx="492.25" cy="1530.42" r="6.2" fill="#000"/><circle cx="530.15" cy="1546.32" r="6.2" fill="#000"/><circle cx="568.05" cy="1551.62" r="6.2" fill="#000"/><text x="79.3" y="1560.1" font-size="22.8" text-anchor="end">0</text><text x="79.3" y="1465.45" font-size="22.8" text-anchor="end">25</text><text x="79.3" y="1370.8" font-size="22.8" text-anchor="end">50</text><text x="79.3" y="1276.15" font-size="22.8" text-anchor="end">75</text><text x="79.3" y="1181.5" font-size="22.8" text-anchor="end">100</text><text x="94.3" y="1587.6" font-size="22.8" text-anchor="middle">0</text><text x="189.05" y="1587.6" font-size="22.8" text-anchor="middle">5</text><text x="283.8" y="1587.6" font-size="22.8" text-anchor="middle">10</text><text x="378.55" y="1587.6" font-size="22.8" text-anchor="middle">15</text><text x="473.3" y="1587.6" font-size="22.8" text-anchor="middle">20</text><text x="568.05" y="1587.6" font-size="22.8" text-anchor="middle">25</text><text x="331.18" y="1622.6" font-size="22.8" text-anchor="middle">Days of L1 starvation</text><text transform="translate(31.1 1359.7) rotate(-90)" font-size="22.8" text-anchor="middle">% recovered to L4</text><path d="M361.2 1194.4H387.2" stroke="#000" stroke-width="2.5" stroke-linecap="round"/><circle cx="374.2" cy="1194.4" r="6.2" fill="#000"/><text x="402.5" y="1202.9" font-size="22.8" text-anchor="start">WT</text><path d="M361.2 1229.8H387.2" stroke="#808080" stroke-width="2.5" stroke-linecap="round"/><circle cx="374.2" cy="1229.8" r="5.8" fill="none" stroke="#808080" stroke-width="2.2"/><text x="402.5" y="1238.4" font-size="22.8" text-anchor="start">WT + 5 mM NAC</text><path d="M361.2 1265.6H387.2" stroke="#00ADF5" stroke-width="2.5" stroke-linecap="round"/><polygon points="374.2,1259.35 367.9,1271.95 380.5,1271.95" fill="#00ADF5"/><text x="402.5" y="1273.8" font-size="22.8" text-anchor="start"><tspan font-style="italic">cep-1</tspan> ***</text><path d="M361.2 1301.4H387.2" stroke="#044C9C" stroke-width="2.5" stroke-linecap="round"/><polygon points="374.2,1295.7 368.3,1307.45 380.1,1307.45" fill="none" stroke="#044C9C" stroke-width="2.3" stroke-linejoin="round"/><text x="402.5" y="1309.9" font-size="22.8" text-anchor="start"><tspan font-style="italic">cep-1</tspan> + 5 mM NAC</text><path d="M606 1258.5H620.8V1300H606" stroke="#000" stroke-width="1.45" fill="none"/><text x="628.1" y="1289.8" class="bs">**</text></g><g><path d="M787.9 1173.1V1562.5M787.9 1553H1262.8M778.4 1458.33H787.9M778.4 1363.65H787.9M778.4 1268.97H787.9M778.4 1174.3H787.9M945.8 1553V1562.5M1103.7 1553V1562.5M1261.6 1553V1562.5" stroke="#000" stroke-width="2.4" fill="none"/><g stroke="#90104F" fill="none"><path d="M787.9 1197.02V1208.38M780.9 1197.02H794.9M780.9 1208.38H794.9M819.48 1201.19V1218.61M812.48 1201.19H826.48M812.48 1218.61H826.48M851.06 1211.41V1233.38M844.06 1211.41H858.06M844.06 1233.38H858.06M882.64 1226.18V1256.48M875.64 1226.18H889.64M875.64 1256.48H889.64M930.01 1261.02V1325.4M923.01 1261.02H937.01M923.01 1325.4H937.01M961.59 1306.85V1405.31M954.59 1306.85H968.59M954.59 1405.31H968.59M993.17 1409.85V1477.26M986.17 1409.85H1000.17M986.17 1477.26H1000.17M1024.75 1449.61V1526.87M1017.75 1449.61H1031.75M1017.75 1526.87H1031.75M1072.12 1523.84V1535.2M1065.12 1523.84H1079.12M1065.12 1535.2H1079.12" stroke-width="2.1"/><polyline points="787.9,1202.7 819.48,1209.9 851.06,1222.39 882.64,1241.33 930.01,1293.21 961.59,1356.08 993.17,1443.56 1024.75,1488.24 1072.12,1529.52 1119.49,1549.21 1151.07,1553 1182.65,1553 1214.23,1553" stroke-width="2.3" stroke-linejoin="round"/></g><polygon points="787.9,1208.4 782,1196.65 793.8,1196.65" fill="none" stroke="#90104F" stroke-width="2.3" stroke-linejoin="round"/><polygon points="819.48,1215.6 813.58,1203.85 825.38,1203.85" fill="none" stroke="#90104F" stroke-width="2.3" stroke-linejoin="round"/><polygon points="851.06,1228.09 845.16,1216.34 856.96,1216.34" fill="none" stroke="#90104F" stroke-width="2.3" stroke-linejoin="round"/><polygon points="882.64,1247.03 876.74,1235.28 888.54,1235.28" fill="none" stroke="#90104F" stroke-width="2.3" stroke-linejoin="round"/><polygon points="930.01,1298.91 924.11,1287.16 935.91,1287.16" fill="none" stroke="#90104F" stroke-width="2.3" stroke-linejoin="round"/><polygon points="961.59,1361.78 955.69,1350.03 967.49,1350.03" fill="none" stroke="#90104F" stroke-width="2.3" stroke-linejoin="round"/><polygon points="993.17,1449.26 987.27,1437.51 999.07,1437.51" fill="none" stroke="#90104F" stroke-width="2.3" stroke-linejoin="round"/><polygon points="1024.75,1493.94 1018.85,1482.19 1030.65,1482.19" fill="none" stroke="#90104F" stroke-width="2.3" stroke-linejoin="round"/><polygon points="1072.12,1535.22 1066.22,1523.47 1078.02,1523.47" fill="none" stroke="#90104F" stroke-width="2.3" stroke-linejoin="round"/><polygon points="1119.49,1554.91 1113.59,1543.16 1125.39,1543.16" fill="none" stroke="#90104F" stroke-width="2.3" stroke-linejoin="round"/><polygon points="1151.07,1558.7 1145.17,1546.95 1156.97,1546.95" fill="none" stroke="#90104F" stroke-width="2.3" stroke-linejoin="round"/><polygon points="1182.65,1558.7 1176.75,1546.95 1188.55,1546.95" fill="none" stroke="#90104F" stroke-width="2.3" stroke-linejoin="round"/><polygon points="1214.23,1558.7 1208.33,1546.95 1220.13,1546.95" fill="none" stroke="#90104F" stroke-width="2.3" stroke-linejoin="round"/><g stroke="#FFA73D" fill="none"><path d="M787.9 1199.67V1220.88M780.9 1199.67H794.9M780.9 1220.88H794.9M851.06 1264.05V1292.83M844.06 1264.05H858.06M844.06 1292.83H858.06M882.64 1289.42V1372.74M875.64 1289.42H889.64M875.64 1372.74H889.64M930.01 1388.64V1466.66M923.01 1388.64H937.01M923.01 1466.66H937.01M961.59 1487.11V1534.82M954.59 1487.11H968.59M954.59 1534.82H968.59M993.17 1531.79V1551.49M986.17 1531.79H1000.17M986.17 1551.49H1000.17" stroke-width="2.1"/><polyline points="787.9,1210.28 819.48,1248.15 851.06,1278.44 882.64,1331.08 930.01,1427.65 961.59,1510.96 993.17,1541.64 1024.75,1549.21 1072.12,1552.24 1119.49,1553 1151.07,1553" stroke-width="2.3" stroke-linejoin="round"/></g><polygon points="787.9,1216.53 781.6,1203.93 794.2,1203.93" fill="#FFA73D"/><polygon points="819.48,1254.4 813.18,1241.8 825.78,1241.8" fill="#FFA73D"/><polygon points="851.06,1284.69 844.76,1272.09 857.36,1272.09" fill="#FFA73D"/><polygon points="882.64,1337.33 876.34,1324.73 888.94,1324.73" fill="#FFA73D"/><polygon points="930.01,1433.9 923.71,1421.3 936.31,1421.3" fill="#FFA73D"/><polygon points="961.59,1517.21 955.29,1504.61 967.89,1504.61" fill="#FFA73D"/><polygon points="993.17,1547.89 986.87,1535.29 999.47,1535.29" fill="#FFA73D"/><polygon points="1024.75,1555.46 1018.45,1542.86 1031.05,1542.86" fill="#FFA73D"/><polygon points="1072.12,1558.49 1065.82,1545.89 1078.42,1545.89" fill="#FFA73D"/><polygon points="1119.49,1559.25 1113.19,1546.65 1125.79,1546.65" fill="#FFA73D"/><polygon points="1151.07,1559.25 1144.77,1546.65 1157.37,1546.65" fill="#FFA73D"/><g stroke="#808080" fill="none"><path d="M787.9 1188.69V1216.71M780.9 1188.69H794.9M780.9 1216.71H794.9M819.48 1205.35V1218.99M812.48 1205.35H826.48M812.48 1218.99H826.48M851.06 1206.11V1224.29M844.06 1206.11H858.06M844.06 1224.29H858.06M882.64 1206.87V1267.46M875.64 1206.87H889.64M875.64 1267.46H889.64M930.01 1242.84V1312.53M923.01 1242.84H937.01M923.01 1312.53H937.01M961.59 1289.8V1420.83M954.59 1289.8H968.59M954.59 1420.83H968.59M993.17 1373.5V1454.54M986.17 1373.5H1000.17M986.17 1454.54H1000.17M1024.75 1415.53V1489.76M1017.75 1415.53H1031.75M1017.75 1489.76H1031.75M1072.12 1492.03V1532.93M1065.12 1492.03H1079.12M1065.12 1532.93H1079.12M1119.49 1528.76V1553M1112.49 1528.76H1126.49M1112.49 1553H1126.49" stroke-width="2.1"/><polyline points="787.9,1202.7 819.48,1212.17 851.06,1215.2 882.64,1237.16 930.01,1277.69 961.59,1355.32 993.17,1414.02 1024.75,1452.64 1072.12,1512.48 1119.49,1540.88 1151.07,1553 1182.65,1553 1214.23,1553" stroke-width="2.3" stroke-linejoin="round"/></g><circle cx="787.9" cy="1202.7" r="5.8" fill="none" stroke="#808080" stroke-width="2.2"/><circle cx="819.48" cy="1212.17" r="5.8" fill="none" stroke="#808080" stroke-width="2.2"/><circle cx="851.06" cy="1215.2" r="5.8" fill="none" stroke="#808080" stroke-width="2.2"/><circle cx="882.64" cy="1237.16" r="5.8" fill="none" stroke="#808080" stroke-width="2.2"/><circle cx="930.01" cy="1277.69" r="5.8" fill="none" stroke="#808080" stroke-width="2.2"/><circle cx="961.59" cy="1355.32" r="5.8" fill="none" stroke="#808080" stroke-width="2.2"/><circle cx="993.17" cy="1414.02" r="5.8" fill="none" stroke="#808080" stroke-width="2.2"/><circle cx="1024.75" cy="1452.64" r="5.8" fill="none" stroke="#808080" stroke-width="2.2"/><circle cx="1072.12" cy="1512.48" r="5.8" fill="none" stroke="#808080" stroke-width="2.2"/><circle cx="1119.49" cy="1540.88" r="5.8" fill="none" stroke="#808080" stroke-width="2.2"/><circle cx="1151.07" cy="1553" r="5.8" fill="none" stroke="#808080" stroke-width="2.2"/><circle cx="1182.65" cy="1553" r="5.8" fill="none" stroke="#808080" stroke-width="2.2"/><circle cx="1214.23" cy="1553" r="5.8" fill="none" stroke="#808080" stroke-width="2.2"/><g stroke="#000" fill="none"><path d="M787.9 1194.75V1210.66M780.9 1194.75H794.9M780.9 1210.66H794.9M819.48 1204.22V1217.85M812.48 1204.22H826.48M812.48 1217.85H826.48M851.06 1217.09V1235.27M844.06 1217.09H858.06M844.06 1235.27H858.06M882.64 1220.12V1267.84M875.64 1220.12H889.64M875.64 1267.84H889.64M930.01 1264.81V1341.31M923.01 1264.81H937.01M923.01 1341.31H937.01M961.59 1325.02V1411.37M954.59 1325.02H968.59M954.59 1411.37H968.59M993.17 1389.78V1467.79M986.17 1389.78H1000.17M986.17 1467.79H1000.17M1024.75 1432.19V1538.99M1017.75 1432.19H1031.75M1017.75 1538.99H1031.75M1072.12 1489.76V1554M1065.12 1489.76H1079.12M1119.49 1537.85V1554M1112.49 1537.85H1126.49" stroke-width="2.1"/><polyline points="787.9,1202.7 819.48,1211.03 851.06,1226.18 882.64,1243.98 930.01,1303.06 961.59,1368.19 993.17,1428.79 1024.75,1485.59 1072.12,1523.08 1119.49,1546.18 1151.07,1551.49 1182.65,1553 1214.23,1553" stroke-width="2.3" stroke-linejoin="round"/></g><circle cx="787.9" cy="1202.7" r="6.2" fill="#000"/><circle cx="819.48" cy="1211.03" r="6.2" fill="#000"/><circle cx="851.06" cy="1226.18" r="6.2" fill="#000"/><circle cx="882.64" cy="1243.98" r="6.2" fill="#000"/><circle cx="930.01" cy="1303.06" r="6.2" fill="#000"/><circle cx="961.59" cy="1368.19" r="6.2" fill="#000"/><circle cx="993.17" cy="1428.79" r="6.2" fill="#000"/><circle cx="1024.75" cy="1485.59" r="6.2" fill="#000"/><circle cx="1072.12" cy="1523.08" r="6.2" fill="#000"/><circle cx="1119.49" cy="1546.18" r="6.2" fill="#000"/><circle cx="1151.07" cy="1551.49" r="6.2" fill="#000"/><circle cx="1182.65" cy="1553" r="6.2" fill="#000"/><circle cx="1214.23" cy="1553" r="6.2" fill="#000"/><text x="772.9" y="1561.1" font-size="22.8" text-anchor="end">0</text><text x="772.9" y="1466.42" font-size="22.8" text-anchor="end">25</text><text x="772.9" y="1371.75" font-size="22.8" text-anchor="end">50</text><text x="772.9" y="1277.07" font-size="22.8" text-anchor="end">75</text><text x="772.9" y="1182.4" font-size="22.8" text-anchor="end">100</text><text x="787.9" y="1588.6" font-size="22.8" text-anchor="middle">0</text><text x="945.8" y="1588.6" font-size="22.8" text-anchor="middle">10</text><text x="1103.7" y="1588.6" font-size="22.8" text-anchor="middle">20</text><text x="1261.6" y="1588.6" font-size="22.8" text-anchor="middle">30</text><text x="1024.75" y="1623.6" font-size="22.8" text-anchor="middle">Days of L1 starvation</text><text transform="translate(724.7 1360.65) rotate(-90)" font-size="22.8" text-anchor="middle">% recovered to L4</text><path d="M1010.9 1201.3H1036.9" stroke="#000" stroke-width="2.3" stroke-linecap="round"/><circle cx="1023.9" cy="1201.3" r="6.2" fill="#000"/><text x="1052" y="1209.3" font-size="22.8" text-anchor="start">WT</text><path d="M1010.9 1237.1H1036.9" stroke="#808080" stroke-width="2.3" stroke-linecap="round"/><circle cx="1023.9" cy="1237.1" r="5.8" fill="none" stroke="#808080" stroke-width="2.2"/><text x="1052" y="1244.9" font-size="22.8" text-anchor="start">WT + 5 mM NAC</text><path d="M1010.9 1272.4H1036.9" stroke="#FFA73D" stroke-width="2.3" stroke-linecap="round"/><polygon points="1023.9,1278.65 1017.6,1266.05 1030.2,1266.05" fill="#FFA73D"/><text x="1052" y="1280.6" font-size="22.8" text-anchor="start"><tspan font-style="italic">xpa-1</tspan> **</text><path d="M1010.9 1308.3H1036.9" stroke="#90104F" stroke-width="2.3" stroke-linecap="round"/><polygon points="1023.9,1314 1018,1302.25 1029.8,1302.25" fill="none" stroke="#90104F" stroke-width="2.3" stroke-linejoin="round"/><text x="1052" y="1316.3" font-size="22.8" text-anchor="start"><tspan font-style="italic">xpa-1</tspan> + 5 mM NAC</text><path d="M1238 1199.3H1253.5V1240.1H1238" stroke="#000" stroke-width="1.45" fill="none"/><text x="1261.1" y="1225.6" font-size="18.5" text-anchor="start">ns</text><path d="M1258 1272.1H1273.2V1313.2H1258" stroke="#000" stroke-width="1.45" fill="none"/><text x="1280.8" y="1303" class="bs">**</text></g><g><path d="M1456.7 1172.3V1561.7M1456.7 1552.2H1932.5M1447.2 1457.53H1456.7M1447.2 1362.85H1456.7M1447.2 1268.18H1456.7M1447.2 1173.5H1456.7M1535.8 1552.2V1561.7M1614.9 1552.2V1561.7M1694 1552.2V1561.7M1773.1 1552.2V1561.7M1852.2 1552.2V1561.7M1931.3 1552.2V1561.7" stroke="#000" stroke-width="2.4" fill="none"/><g stroke="#7A0A1E" fill="none"><path d="M1456.7 1207.58V1222.73M1449.7 1207.58H1463.7M1449.7 1222.73H1463.7M1488.34 1215.16V1226.52M1481.34 1215.16H1495.34M1481.34 1226.52H1495.34M1519.98 1225.76V1239.39M1512.98 1225.76H1526.98M1512.98 1239.39H1526.98M1551.62 1226.52V1259.84M1544.62 1226.52H1558.62M1544.62 1259.84H1558.62M1599.08 1255.3V1288.62M1592.08 1255.3H1606.08M1592.08 1288.62H1606.08M1630.72 1315.51V1410.19M1623.72 1315.51H1637.72M1623.72 1410.19H1637.72M1662.36 1353.38V1466.99M1655.36 1353.38H1669.36M1655.36 1466.99H1669.36M1694 1429.88V1520.77M1687 1429.88H1701M1687 1520.77H1701M1741.46 1521.15V1532.51M1734.46 1521.15H1748.46M1734.46 1532.51H1748.46" stroke-width="2.1"/><polyline points="1456.7,1215.16 1488.34,1220.84 1519.98,1232.58 1551.62,1243.18 1599.08,1271.96 1630.72,1362.85 1662.36,1410.19 1694,1475.32 1741.46,1526.83 1788.92,1548.41 1820.56,1552.2 1852.2,1552.2 1883.84,1552.2" stroke-width="2.3" stroke-linejoin="round"/></g><polygon points="1456.7,1220.86 1450.8,1209.11 1462.6,1209.11" fill="none" stroke="#7A0A1E" stroke-width="2.3" stroke-linejoin="round"/><polygon points="1488.34,1226.54 1482.44,1214.79 1494.24,1214.79" fill="none" stroke="#7A0A1E" stroke-width="2.3" stroke-linejoin="round"/><polygon points="1519.98,1238.28 1514.08,1226.53 1525.88,1226.53" fill="none" stroke="#7A0A1E" stroke-width="2.3" stroke-linejoin="round"/><polygon points="1551.62,1248.88 1545.72,1237.13 1557.52,1237.13" fill="none" stroke="#7A0A1E" stroke-width="2.3" stroke-linejoin="round"/><polygon points="1599.08,1277.66 1593.18,1265.91 1604.98,1265.91" fill="none" stroke="#7A0A1E" stroke-width="2.3" stroke-linejoin="round"/><polygon points="1630.72,1368.55 1624.82,1356.8 1636.62,1356.8" fill="none" stroke="#7A0A1E" stroke-width="2.3" stroke-linejoin="round"/><polygon points="1662.36,1415.89 1656.46,1404.14 1668.26,1404.14" fill="none" stroke="#7A0A1E" stroke-width="2.3" stroke-linejoin="round"/><polygon points="1694,1481.02 1688.1,1469.27 1699.9,1469.27" fill="none" stroke="#7A0A1E" stroke-width="2.3" stroke-linejoin="round"/><polygon points="1741.46,1532.53 1735.56,1520.78 1747.36,1520.78" fill="none" stroke="#7A0A1E" stroke-width="2.3" stroke-linejoin="round"/><polygon points="1788.92,1554.11 1783.02,1542.36 1794.82,1542.36" fill="none" stroke="#7A0A1E" stroke-width="2.3" stroke-linejoin="round"/><polygon points="1820.56,1557.9 1814.66,1546.15 1826.46,1546.15" fill="none" stroke="#7A0A1E" stroke-width="2.3" stroke-linejoin="round"/><polygon points="1852.2,1557.9 1846.3,1546.15 1858.1,1546.15" fill="none" stroke="#7A0A1E" stroke-width="2.3" stroke-linejoin="round"/><polygon points="1883.84,1557.9 1877.94,1546.15 1889.74,1546.15" fill="none" stroke="#7A0A1E" stroke-width="2.3" stroke-linejoin="round"/><g stroke="#FF2D55" fill="none"><path d="M1456.7 1207.58V1230.31M1449.7 1207.58H1463.7M1449.7 1230.31H1463.7M1488.34 1235.23V1279.16M1481.34 1235.23H1495.34M1481.34 1279.16H1495.34M1519.98 1281.05V1299.23M1512.98 1281.05H1526.98M1512.98 1299.23H1526.98M1551.62 1298.85V1404.89M1544.62 1298.85H1558.62M1544.62 1404.89H1558.62M1599.08 1335.58V1468.13M1592.08 1335.58H1606.08M1592.08 1468.13H1606.08M1630.72 1431.39V1523.04M1623.72 1431.39H1637.72M1623.72 1523.04H1637.72M1662.36 1470.78V1533.64M1655.36 1470.78H1669.36M1655.36 1533.64H1669.36M1694 1523.8V1546.52M1687 1523.8H1701M1687 1546.52H1701M1741.46 1538.57V1552.2M1734.46 1538.57H1748.46M1734.46 1552.2H1748.46" stroke-width="2.1"/><polyline points="1456.7,1218.94 1488.34,1257.19 1519.98,1290.14 1551.62,1351.87 1599.08,1401.86 1630.72,1477.22 1662.36,1502.21 1694,1535.16 1741.46,1545.38 1788.92,1551.44 1820.56,1552.2 1852.2,1552.2 1883.84,1552.2" stroke-width="2.3" stroke-linejoin="round"/></g><polygon points="1456.7,1225.19 1450.4,1212.59 1463,1212.59" fill="#FF2D55"/><polygon points="1488.34,1263.44 1482.04,1250.84 1494.64,1250.84" fill="#FF2D55"/><polygon points="1519.98,1296.39 1513.68,1283.79 1526.28,1283.79" fill="#FF2D55"/><polygon points="1551.62,1358.12 1545.32,1345.52 1557.92,1345.52" fill="#FF2D55"/><polygon points="1599.08,1408.11 1592.78,1395.51 1605.38,1395.51" fill="#FF2D55"/><polygon points="1630.72,1483.47 1624.42,1470.87 1637.02,1470.87" fill="#FF2D55"/><polygon points="1662.36,1508.46 1656.06,1495.86 1668.66,1495.86" fill="#FF2D55"/><polygon points="1694,1541.41 1687.7,1528.81 1700.3,1528.81" fill="#FF2D55"/><polygon points="1741.46,1551.63 1735.16,1539.03 1747.76,1539.03" fill="#FF2D55"/><polygon points="1788.92,1557.69 1782.62,1545.09 1795.22,1545.09" fill="#FF2D55"/><polygon points="1820.56,1558.45 1814.26,1545.85 1826.86,1545.85" fill="#FF2D55"/><polygon points="1852.2,1558.45 1845.9,1545.85 1858.5,1545.85" fill="#FF2D55"/><polygon points="1883.84,1558.45 1877.54,1545.85 1890.14,1545.85" fill="#FF2D55"/><g stroke="#808080" fill="none"><path d="M1456.7 1187.89V1215.91M1449.7 1187.89H1463.7M1449.7 1215.91H1463.7M1488.34 1204.55V1218.19M1481.34 1204.55H1495.34M1481.34 1218.19H1495.34M1519.98 1205.31V1223.49M1512.98 1205.31H1526.98M1512.98 1223.49H1526.98M1551.62 1206.07V1266.66M1544.62 1206.07H1558.62M1544.62 1266.66H1558.62M1599.08 1242.04V1311.73M1592.08 1242.04H1606.08M1592.08 1311.73H1606.08M1630.72 1289V1420.03M1623.72 1289H1637.72M1623.72 1420.03H1637.72M1662.36 1372.7V1453.74M1655.36 1372.7H1669.36M1655.36 1453.74H1669.36M1694 1414.73V1488.96M1687 1414.73H1701M1687 1488.96H1701M1741.46 1491.23V1532.13M1734.46 1491.23H1748.46M1734.46 1532.13H1748.46M1788.92 1527.96V1552.2M1781.92 1527.96H1795.92M1781.92 1552.2H1795.92" stroke-width="2.1"/><polyline points="1456.7,1201.9 1488.34,1211.37 1519.98,1214.4 1551.62,1236.36 1599.08,1276.89 1630.72,1354.52 1662.36,1413.22 1694,1451.84 1741.46,1511.68 1788.92,1540.08 1820.56,1552.2 1852.2,1552.2 1883.84,1552.2" stroke-width="2.3" stroke-linejoin="round"/></g><circle cx="1456.7" cy="1201.9" r="6.2" fill="#808080"/><circle cx="1488.34" cy="1211.37" r="6.2" fill="#808080"/><circle cx="1519.98" cy="1214.4" r="6.2" fill="#808080"/><circle cx="1551.62" cy="1236.36" r="6.2" fill="#808080"/><circle cx="1599.08" cy="1276.89" r="6.2" fill="#808080"/><circle cx="1630.72" cy="1354.52" r="6.2" fill="#808080"/><circle cx="1662.36" cy="1413.22" r="6.2" fill="#808080"/><circle cx="1694" cy="1451.84" r="6.2" fill="#808080"/><circle cx="1741.46" cy="1511.68" r="6.2" fill="#808080"/><circle cx="1788.92" cy="1540.08" r="6.2" fill="#808080"/><circle cx="1820.56" cy="1552.2" r="6.2" fill="#808080"/><circle cx="1852.2" cy="1552.2" r="6.2" fill="#808080"/><circle cx="1883.84" cy="1552.2" r="6.2" fill="#808080"/><g stroke="#000" fill="none"><path d="M1456.7 1193.95V1209.86M1449.7 1193.95H1463.7M1449.7 1209.86H1463.7M1488.34 1203.42V1217.05M1481.34 1203.42H1495.34M1481.34 1217.05H1495.34M1519.98 1216.29V1234.47M1512.98 1216.29H1526.98M1512.98 1234.47H1526.98M1551.62 1219.32V1267.04M1544.62 1219.32H1558.62M1544.62 1267.04H1558.62M1599.08 1264.01V1340.51M1592.08 1264.01H1606.08M1592.08 1340.51H1606.08M1630.72 1324.22V1410.57M1623.72 1324.22H1637.72M1623.72 1410.57H1637.72M1662.36 1388.98V1466.99M1655.36 1388.98H1669.36M1655.36 1466.99H1669.36M1694 1431.39V1538.19M1687 1431.39H1701M1687 1538.19H1701M1741.46 1488.96V1553.2M1734.46 1488.96H1748.46M1788.92 1537.05V1553.2M1781.92 1537.05H1795.92" stroke-width="2.1"/><polyline points="1456.7,1201.9 1488.34,1210.23 1519.98,1225.38 1551.62,1243.18 1599.08,1302.26 1630.72,1367.39 1662.36,1427.99 1694,1484.79 1741.46,1522.28 1788.92,1545.38 1820.56,1550.69 1852.2,1552.2 1883.84,1552.2" stroke-width="2.3" stroke-linejoin="round"/></g><circle cx="1456.7" cy="1201.9" r="6.2" fill="#000"/><circle cx="1488.34" cy="1210.23" r="6.2" fill="#000"/><circle cx="1519.98" cy="1225.38" r="6.2" fill="#000"/><circle cx="1551.62" cy="1243.18" r="6.2" fill="#000"/><circle cx="1599.08" cy="1302.26" r="6.2" fill="#000"/><circle cx="1630.72" cy="1367.39" r="6.2" fill="#000"/><circle cx="1662.36" cy="1427.99" r="6.2" fill="#000"/><circle cx="1694" cy="1484.79" r="6.2" fill="#000"/><circle cx="1741.46" cy="1522.28" r="6.2" fill="#000"/><circle cx="1788.92" cy="1545.38" r="6.2" fill="#000"/><circle cx="1820.56" cy="1550.69" r="6.2" fill="#000"/><circle cx="1852.2" cy="1552.2" r="6.2" fill="#000"/><circle cx="1883.84" cy="1552.2" r="6.2" fill="#000"/><text x="1441.7" y="1560.3" font-size="22.8" text-anchor="end">0</text><text x="1441.7" y="1465.62" font-size="22.8" text-anchor="end">25</text><text x="1441.7" y="1370.95" font-size="22.8" text-anchor="end">50</text><text x="1441.7" y="1276.28" font-size="22.8" text-anchor="end">75</text><text x="1441.7" y="1181.6" font-size="22.8" text-anchor="end">100</text><text x="1456.7" y="1587.8" font-size="22.8" text-anchor="middle">0</text><text x="1535.8" y="1587.8" font-size="22.8" text-anchor="middle">5</text><text x="1614.9" y="1587.8" font-size="22.8" text-anchor="middle">10</text><text x="1694" y="1587.8" font-size="22.8" text-anchor="middle">15</text><text x="1773.1" y="1587.8" font-size="22.8" text-anchor="middle">20</text><text x="1852.2" y="1587.8" font-size="22.8" text-anchor="middle">25</text><text x="1931.3" y="1587.8" font-size="22.8" text-anchor="middle">30</text><text x="1694" y="1622.8" font-size="22.8" text-anchor="middle">Days of L1 starvation</text><text transform="translate(1393.5 1359.85) rotate(-90)" font-size="22.8" text-anchor="middle">% recovered to L4</text><path d="M1664.6 1189.9H1690.6" stroke="#000" stroke-width="2.3" stroke-linecap="round"/><circle cx="1677.6" cy="1189.9" r="6.2" fill="#000"/><text x="1706.2" y="1198.4" font-size="22.8" text-anchor="start">WT</text><path d="M1664.6 1223.8H1690.6" stroke="#808080" stroke-width="2.3" stroke-linecap="round"/><circle cx="1677.6" cy="1223.8" r="6.2" fill="#808080"/><text x="1706.2" y="1232.2" font-size="22.8" text-anchor="start">WT + 5 mM NAC</text><path d="M1664.6 1257.9H1690.6" stroke="#FF2D55" stroke-width="2.3" stroke-linecap="round"/><polygon points="1677.6,1264.15 1671.3,1251.55 1683.9,1251.55" fill="#FF2D55"/><text x="1706.2" y="1266.1" font-size="22.8" text-anchor="start"><tspan font-style="italic">xpf-1</tspan> **</text><path d="M1664.6 1292H1690.6" stroke="#7A0A1E" stroke-width="2.3" stroke-linecap="round"/><polygon points="1677.6,1297.7 1671.7,1285.95 1683.5,1285.95" fill="none" stroke="#7A0A1E" stroke-width="2.3" stroke-linejoin="round"/><text x="1706.2" y="1300.5" font-size="22.8" text-anchor="start"><tspan font-style="italic">xpf-1</tspan> + 5 mM NAC</text><path d="M1895.7 1192.6H1911.1V1233.1H1895.7" stroke="#000" stroke-width="1.45" fill="none"/><text x="1918.9" y="1218.9" font-size="18.5" text-anchor="start">ns</text><path d="M1909.3 1260.3H1924.3V1301.1H1909.3" stroke="#000" stroke-width="1.45" fill="none"/><text x="1932.1" y="1291.2" class="bs">**</text></g>
<path d="M94.2 1767.3H711.2V2146.0H94.2ZM403.1 1767.3V2148.0M84.2 2146H94.2M84.2 2070.26H94.2M84.2 1994.52H94.2M84.2 1918.78H94.2M84.2 1843.04H94.2M84.2 1767.3H94.2M132 2146.0V2156.5M189.7 2146.0V2156.5M247.6 2146.0V2156.5M305.6 2146.0V2156.5M363.7 2146.0V2156.5M440.5 2146.0V2156.5M498.2 2146.0V2156.5M556.2 2146.0V2156.5M614 2146.0V2156.5M671.8 2146.0V2156.5" stroke="#000" stroke-width="2.4" fill="none" stroke-linejoin="miter"/><g stroke="#000" fill="none" stroke-width="2.2"><path d="M189.7 1810.47V1836.22M181.7 1810.47H197.7M181.7 1836.22H197.7M247.6 1829.03V1850.99M239.6 1829.03H255.6M239.6 1850.99H255.6M305.6 1857.81V1871.44M297.6 1857.81H313.6M297.6 1871.44H313.6M363.7 1874.09V1900.6M355.7 1874.09H371.7M355.7 1900.6H371.7"/><polyline points="132,1800.25 189.7,1823.35 247.6,1840.01 305.6,1864.63 363.7,1887.35"/></g><circle cx="132" cy="1800.25" r="7" fill="#000"/><circle cx="189.7" cy="1823.35" r="7" fill="#000"/><circle cx="247.6" cy="1840.01" r="7" fill="#000"/><circle cx="305.6" cy="1864.63" r="7" fill="#000"/><circle cx="363.7" cy="1887.35" r="7" fill="#000"/><g stroke="#F02CA6" fill="none" stroke-width="2.2"><path d="M132 1848.34V1886.97M124 1848.34H140M124 1886.97H140M189.7 1839.25V1850.61M181.7 1839.25H197.7M181.7 1850.61H197.7M247.6 1835.47V1851.37M239.6 1835.47H255.6M239.6 1851.37H255.6M305.6 1843.04V1890M297.6 1843.04H313.6M297.6 1890H313.6M363.7 1939.23V1991.49M355.7 1939.23H371.7M355.7 1991.49H371.7"/><polyline points="132,1867.66 189.7,1844.93 247.6,1843.42 305.6,1866.52 363.7,1965.36"/></g><circle cx="132" cy="1867.66" r="7" fill="none" stroke="#F02CA6" stroke-width="2.0"/><circle cx="189.7" cy="1844.93" r="7" fill="none" stroke="#F02CA6" stroke-width="2.0"/><circle cx="247.6" cy="1843.42" r="7" fill="none" stroke="#F02CA6" stroke-width="2.0"/><circle cx="305.6" cy="1866.52" r="7" fill="none" stroke="#F02CA6" stroke-width="2.0"/><circle cx="363.7" cy="1965.36" r="7" fill="none" stroke="#F02CA6" stroke-width="2.0"/><g stroke="#000" fill="none" stroke-width="2.2"><path d="M440.5 1822.21V1841.9M432.5 1822.21H448.5M432.5 1841.9H448.5M498.2 1895.3V1934.69M490.2 1895.3H506.2M490.2 1934.69H506.2M556.2 1929.38V1968.77M548.2 1929.38H564.2M548.2 1968.77H564.2M614 1987.7V2033.9M606 1987.7H622M606 2033.9H622M671.8 2058.14V2071.77M663.8 2058.14H679.8M663.8 2071.77H679.8"/><polyline points="440.5,1832.06 498.2,1914.99 556.2,1949.08 614,2010.8 671.8,2064.96"/></g><circle cx="440.5" cy="1832.06" r="7" fill="#000"/><circle cx="498.2" cy="1914.99" r="7" fill="#000"/><circle cx="556.2" cy="1949.08" r="7" fill="#000"/><circle cx="614" cy="2010.8" r="7" fill="#000"/><circle cx="671.8" cy="2064.96" r="7" fill="#000"/><g stroke="#F02CA6" fill="none" stroke-width="2.2"><path d="M440.5 1903.25V1963.85M432.5 1903.25H448.5M432.5 1963.85H448.5M498.2 1937.71V2018M490.2 1937.71H506.2M490.2 2018H506.2M556.2 2033.9V2056.63M548.2 2033.9H564.2M548.2 2056.63H564.2M614 2054.35V2107.37M606 2054.35H622M606 2107.37H622M671.8 2110.4V2115.7M663.8 2110.4H679.8M663.8 2115.7H679.8"/><polyline points="440.5,1933.55 498.2,1977.86 556.2,2045.27 614,2080.86 671.8,2113.05"/></g><circle cx="440.5" cy="1933.55" r="7" fill="none" stroke="#F02CA6" stroke-width="2.0"/><circle cx="498.2" cy="1977.86" r="7" fill="none" stroke="#F02CA6" stroke-width="2.0"/><circle cx="556.2" cy="2045.27" r="7" fill="none" stroke="#F02CA6" stroke-width="2.0"/><circle cx="614" cy="2080.86" r="7" fill="none" stroke="#F02CA6" stroke-width="2.0"/><circle cx="671.8" cy="2113.05" r="7" fill="none" stroke="#F02CA6" stroke-width="2.0"/><text x="80" y="2154.1" font-size="22.8" text-anchor="end">0</text><text x="80" y="2078.36" font-size="22.8" text-anchor="end">20</text><text x="80" y="2002.62" font-size="22.8" text-anchor="end">40</text><text x="80" y="1926.88" font-size="22.8" text-anchor="end">60</text><text x="80" y="1851.14" font-size="22.8" text-anchor="end">80</text><text x="80" y="1775.4" font-size="22.8" text-anchor="end">100</text><text x="132" y="2182.6" font-size="22.8" text-anchor="middle">0</text><text x="189.7" y="2182.6" font-size="22.8" text-anchor="middle">2</text><text x="247.6" y="2182.6" font-size="22.8" text-anchor="middle">4</text><text x="305.6" y="2182.6" font-size="22.8" text-anchor="middle">6</text><text x="363.7" y="2182.6" font-size="22.8" text-anchor="middle">9</text><text x="440.5" y="2182.6" font-size="22.8" text-anchor="middle">0</text><text x="498.2" y="2182.6" font-size="22.8" text-anchor="middle">2</text><text x="556.2" y="2182.6" font-size="22.8" text-anchor="middle">4</text><text x="614" y="2182.6" font-size="22.8" text-anchor="middle">6</text><text x="671.8" y="2182.6" font-size="22.8" text-anchor="middle">9</text><text x="402.9" y="2216.2" font-size="22.8" text-anchor="middle">Days of L1 starvation</text><text transform="translate(30.9 1952.5) rotate(-90)" font-size="22.8" text-anchor="middle">% recovered to L4</text><text x="248.5" y="1748.8" font-size="22.8" text-anchor="middle">WT</text><text x="556.5" y="1748.8" font-size="22.8" text-anchor="middle" font-style="italic">efk-1</text><text x="113.1" y="2127.8" font-size="19" text-anchor="start">ns</text><text x="417.4" y="2127.4" font-size="19" text-anchor="start">p=0.001</text><path d="M524.2 1798H551.9" stroke="#000" stroke-width="2"/><circle cx="538.1" cy="1798" r="7" fill="#000"/><text x="566.5" y="1806.5" font-size="22.8" text-anchor="start">no UV</text><path d="M524.2 1835.4H551.9" stroke="#F02CA6" stroke-width="2"/><circle cx="538.1" cy="1835.4" r="7" fill="none" stroke="#F02CA6" stroke-width="2.2"/><text x="566.5" y="1846.9" font-size="22.8" text-anchor="start">10 J/m<tspan font-size="15.5" dy="-8.5">2</tspan><tspan dy="8.5"> UVC</tspan></text>
</svg></body></html>
